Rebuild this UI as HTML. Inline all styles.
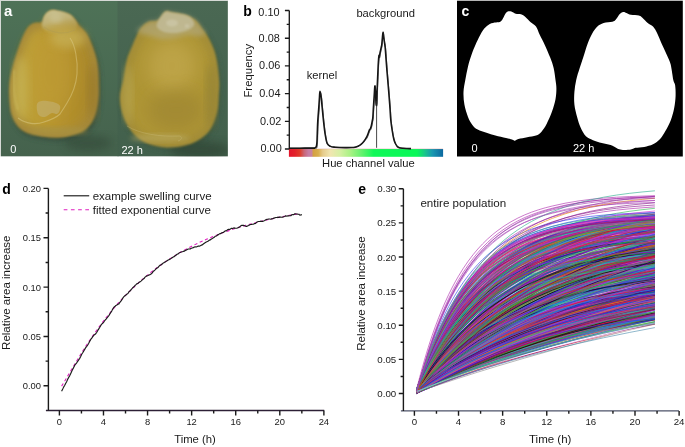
<!DOCTYPE html><html><head><meta charset="utf-8"><style>html,body{margin:0;padding:0;background:#fff;overflow:hidden;width:685px;height:447px}svg{display:block;will-change:transform}text{font-family:"Liberation Sans",sans-serif}</style></head><body>
<svg width="685" height="447" viewBox="0 0 685 447">
<defs>
<radialGradient id="kg1" cx="0.5" cy="0.55" r="0.6">
<stop offset="0" stop-color="#d8b545"/><stop offset="0.55" stop-color="#cfa83a"/><stop offset="0.85" stop-color="#b8922c"/><stop offset="1" stop-color="#8a7630"/></radialGradient>
<radialGradient id="kg2" cx="0.5" cy="0.55" r="0.6">
<stop offset="0" stop-color="#cfae45"/><stop offset="0.55" stop-color="#c7a23c"/><stop offset="0.85" stop-color="#b3902e"/><stop offset="1" stop-color="#857432"/></radialGradient>
<radialGradient id="tipg" cx="0.5" cy="0.4" r="0.6">
<stop offset="0" stop-color="#e4dcb0"/><stop offset="1" stop-color="#c8b880"/></radialGradient>
<filter id="blur1" x="-10%" y="-10%" width="120%" height="120%"><feGaussianBlur stdDeviation="1"/></filter>
<filter id="blur2" x="-20%" y="-20%" width="140%" height="140%"><feGaussianBlur stdDeviation="2.5"/></filter>
<filter id="blur15" x="-20%" y="-20%" width="140%" height="140%"><feGaussianBlur stdDeviation="1.6"/></filter>
<filter id="blur05" x="-10%" y="-10%" width="120%" height="120%"><feGaussianBlur stdDeviation="0.6"/></filter>
<filter id="blur3" x="-30%" y="-30%" width="160%" height="160%"><feGaussianBlur stdDeviation="4"/></filter>
<filter id="blur4" x="-40%" y="-40%" width="180%" height="180%"><feGaussianBlur stdDeviation="8"/></filter>
<linearGradient id="tipfade" x1="0" x2="0.3" y1="0" y2="1"><stop offset="0" stop-color="#cbc494"/><stop offset="0.5" stop-color="#c4b880" stop-opacity="0.85"/><stop offset="1" stop-color="#bca650" stop-opacity="0.2"/></linearGradient>
<linearGradient id="bgl" x1="0" x2="0" y1="0" y2="1"><stop offset="0" stop-color="#4e7257"/><stop offset="1" stop-color="#45624d"/></linearGradient>
<linearGradient id="bgr" x1="0" x2="0" y1="0" y2="1"><stop offset="0" stop-color="#4a6853"/><stop offset="1" stop-color="#42604c"/></linearGradient>
<linearGradient id="k1g" x1="0" x2="1" y1="0" y2="0"><stop offset="0" stop-color="#bfa63e"/><stop offset="0.5" stop-color="#b8952e"/><stop offset="1" stop-color="#a8862a"/></linearGradient>
<linearGradient id="hue" x1="0" x2="1" y1="0" y2="0">
<stop offset="0" stop-color="#e3142c"/>
<stop offset="0.04" stop-color="#e2222a"/>
<stop offset="0.072" stop-color="#de3c2a"/>
<stop offset="0.10" stop-color="#c8687a"/>
<stop offset="0.128" stop-color="#c67ea6"/>
<stop offset="0.148" stop-color="#c8849e"/>
<stop offset="0.158" stop-color="#d4a042"/>
<stop offset="0.19" stop-color="#d8ae4c"/>
<stop offset="0.22" stop-color="#e6cc8c"/>
<stop offset="0.27" stop-color="#f0e6b0"/>
<stop offset="0.33" stop-color="#d6f0a4"/>
<stop offset="0.40" stop-color="#a8f284"/>
<stop offset="0.48" stop-color="#5cf26c"/>
<stop offset="0.55" stop-color="#10f858"/>
<stop offset="0.83" stop-color="#08f858"/>
<stop offset="0.88" stop-color="#18c888"/>
<stop offset="0.93" stop-color="#1898b0"/>
<stop offset="1" stop-color="#0c68a0"/>
</linearGradient>
<clipPath id="clipa"><rect x="1" y="1" width="226.8" height="155.4"/></clipPath>
<clipPath id="clipe"><rect x="403" y="180" width="270" height="231"/></clipPath>
</defs>
<rect x="0" y="0" width="228" height="156.4" fill="#d6dad6"/>
<g clip-path="url(#clipa)">
<rect x="1" y="1" width="117.5" height="155.5" fill="url(#bgl)"/>
<rect x="117.5" y="1" width="111" height="155.5" fill="url(#bgr)"/>
<path d="M49,11.2C50.43,10.18 51.27,9.8 53.2,9.9C55.13,10 57.93,11.08 60.6,11.8C63.27,12.52 66.93,13.08 69.2,14.2C71.47,15.32 72.48,16.63 74.2,18.5C75.92,20.37 77.17,22.5 79.5,25.4C81.83,28.3 85.3,30.08 88.2,35.9C91.1,41.72 95.17,51.58 96.9,60.3C98.63,69.02 98.48,80.92 98.6,88.2C98.72,95.48 98.28,99.2 97.6,104C96.92,108.8 96.02,113.17 94.5,117C92.98,120.83 91.12,124.28 88.5,127C85.88,129.72 83.33,131.53 78.8,133.3C74.27,135.07 67.13,137.02 61.3,137.6C55.47,138.18 49.68,137.67 43.8,136.8C37.92,135.93 30.38,134.2 26,132.4C21.62,130.6 19.83,128.73 17.5,126C15.17,123.27 13.3,119.83 12,116C10.7,112.17 10.08,108.8 9.7,103C9.32,97.2 8.53,89.48 9.7,81.2C10.87,72.92 14.17,61.5 16.7,53.3C19.23,45.1 22.3,36.97 24.9,32C27.5,27.03 29.42,25.17 32.3,23.5C35.18,21.83 40.15,23.25 42.2,22C44.25,20.75 43.47,17.8 44.6,16C45.73,14.2 47.57,12.22 49,11.2Z" fill="#344c3c" filter="url(#blur2)" transform="translate(1.5,3)" opacity="0.85"/>
<path d="M165.3,11.7C167.53,10.43 168.63,11.95 172,12.5C175.37,13.05 181.58,13.73 185.5,15C189.42,16.27 192.72,17.85 195.5,20.1C198.28,22.35 199.95,25.42 202.2,28.5C204.45,31.58 206.75,34.13 209,38.6C211.25,43.07 214.03,48.4 215.7,55.3C217.37,62.2 218.52,73.38 219,80C219.48,86.62 218.95,89.57 218.6,95C218.25,100.43 218.35,106.77 216.9,112.6C215.45,118.43 213.1,125.35 209.9,130C206.7,134.65 202.07,137.88 197.7,140.5C193.33,143.12 188.93,144.55 183.7,145.7C178.47,146.85 172.1,147.68 166.3,147.4C160.5,147.12 154.13,146.03 148.9,144C143.67,141.97 138.97,139.28 134.9,135.2C130.83,131.12 127.02,125.6 124.5,119.5C121.98,113.4 119.98,105.18 119.8,98.6C119.62,92.02 122.25,86.37 123.4,80C124.55,73.63 125.3,65.9 126.7,60.4C128.1,54.9 130.12,51.2 131.8,47C133.48,42.8 135.13,38.57 136.8,35.2C138.47,31.83 139.83,29.03 141.8,26.8C143.77,24.57 145.8,22.92 148.6,21.8C151.4,20.68 155.82,21.78 158.6,20.1C161.38,18.42 163.07,12.97 165.3,11.7Z" fill="#3a5443" filter="url(#blur2)" transform="translate(1.5,2.5)" opacity="0.8"/>
<ellipse cx="200" cy="150" rx="30" ry="9" fill="#2c3c2e" filter="url(#blur3)" opacity="0.55"/>
<ellipse cx="88" cy="143" rx="24" ry="8" fill="#2c3c2e" filter="url(#blur3)" opacity="0.4"/>
<path d="M49,11.2C50.43,10.18 51.27,9.8 53.2,9.9C55.13,10 57.93,11.08 60.6,11.8C63.27,12.52 66.93,13.08 69.2,14.2C71.47,15.32 72.48,16.63 74.2,18.5C75.92,20.37 77.17,22.5 79.5,25.4C81.83,28.3 85.3,30.08 88.2,35.9C91.1,41.72 95.17,51.58 96.9,60.3C98.63,69.02 98.48,80.92 98.6,88.2C98.72,95.48 98.28,99.2 97.6,104C96.92,108.8 96.02,113.17 94.5,117C92.98,120.83 91.12,124.28 88.5,127C85.88,129.72 83.33,131.53 78.8,133.3C74.27,135.07 67.13,137.02 61.3,137.6C55.47,138.18 49.68,137.67 43.8,136.8C37.92,135.93 30.38,134.2 26,132.4C21.62,130.6 19.83,128.73 17.5,126C15.17,123.27 13.3,119.83 12,116C10.7,112.17 10.08,108.8 9.7,103C9.32,97.2 8.53,89.48 9.7,81.2C10.87,72.92 14.17,61.5 16.7,53.3C19.23,45.1 22.3,36.97 24.9,32C27.5,27.03 29.42,25.17 32.3,23.5C35.18,21.83 40.15,23.25 42.2,22C44.25,20.75 43.47,17.8 44.6,16C45.73,14.2 47.57,12.22 49,11.2Z" fill="#a4883a" filter="url(#blur1)"/>
<path d="M49.69,19.19C50.95,18.3 51.69,17.96 53.39,18.05C55.09,18.14 57.55,19.09 59.9,19.72C62.25,20.35 65.47,20.85 67.47,21.83C69.46,22.81 70.36,23.97 71.87,25.62C73.38,27.26 74.48,29.14 76.53,31.69C78.59,34.24 81.64,35.81 84.19,40.93C86.74,46.05 90.32,54.73 91.85,62.4C93.37,70.07 93.24,80.54 93.34,86.95C93.44,93.36 93.06,96.63 92.46,100.86C91.86,105.08 91.07,108.92 89.73,112.3C88.4,115.67 86.76,118.7 84.45,121.1C82.15,123.49 79.91,125.08 75.92,126.64C71.93,128.19 65.65,129.91 60.52,130.42C55.38,130.94 50.29,130.48 45.12,129.72C39.94,128.96 33.31,127.43 29.45,125.85C25.6,124.26 24.03,122.62 21.97,120.22C19.92,117.81 18.28,114.79 17.13,111.42C15.99,108.04 15.45,105.08 15.11,99.98C14.77,94.87 14.08,88.08 15.11,80.79C16.14,73.5 19.04,63.46 21.27,56.24C23.5,49.02 26.2,41.87 28.49,37.5C30.77,33.12 32.46,31.48 35,30.02C37.53,28.55 41.91,29.8 43.71,28.7C45.51,27.6 44.82,25 45.82,23.42C46.82,21.83 48.43,20.09 49.69,19.19Z" fill="url(#k1g)" filter="url(#blur3)"/>
<ellipse cx="50" cy="72" rx="24" ry="40" fill="#bf9c36" filter="url(#blur4)" opacity="0.6"/>
<ellipse cx="68" cy="38" rx="18" ry="10" fill="#c8b258" filter="url(#blur3)" opacity="0.7"/>
<ellipse cx="21" cy="88" rx="7" ry="32" fill="#c6b254" filter="url(#blur3)" opacity="0.7"/>
<ellipse cx="93" cy="92" rx="5" ry="28" fill="#94762a" filter="url(#blur3)" opacity="0.6"/>
<ellipse cx="58" cy="131" rx="30" ry="4" fill="#a89444" filter="url(#blur2)" opacity="0.6"/>
<path d="M70,38 C75,45 78,60 77,74 C76,86 72,95 67,103 C64,108 62,111 60,114 C56,118 50,120 44,122 C36,125 26,124 18,118" fill="none" stroke="#dccc88" stroke-width="1.1" opacity="0.5" filter="url(#blur05)"/>
<path d="M37,104C37.67,101.83 39.83,101.42 42,101C44.17,100.58 47.67,101.17 50,101.5C52.33,101.83 54.33,102.25 56,103C57.67,103.75 59.42,104.67 60,106C60.58,107.33 60,109.67 59.5,111C59,112.33 58.25,113.67 57,114C55.75,114.33 53.67,112.67 52,113C50.33,113.33 48.5,115.33 47,116C45.5,116.67 44.5,117.33 43,117C41.5,116.67 39,116.17 38,114C37,111.83 36.33,106.17 37,104Z" fill="#c4b47a" opacity="0.55" filter="url(#blur05)"/>
<path d="M14,70 C13,85 14,100 18,110" fill="none" stroke="#d6c468" stroke-width="2" opacity="0.45" filter="url(#blur1)"/>
<path d="M48.5,11.5C49.75,10.82 51.08,9.98 53,9.9C54.92,9.82 57.83,10.52 60,11C62.17,11.48 64.25,12.17 66,12.8C67.75,13.43 69.13,13.85 70.5,14.8C71.87,15.75 73.12,17.13 74.2,18.5C75.28,19.87 76.7,21.25 77,23C77.3,24.75 77.17,27.25 76,29C74.83,30.75 72.33,32.42 70,33.5C67.67,34.58 65,35.42 62,35.5C59,35.58 54.83,34.92 52,34C49.17,33.08 46.67,31.33 45,30C43.33,28.67 42.33,27.83 42,26C41.67,24.17 42.42,21 43,19C43.58,17 44.58,15.25 45.5,14C46.42,12.75 47.25,12.18 48.5,11.5Z" fill="url(#tipfade)" filter="url(#blur1)"/>
<path d="M44,27 C52,33 64,35 75,30" fill="none" stroke="#a89858" stroke-width="1.2" opacity="0.3" filter="url(#blur05)"/>
<ellipse cx="56" cy="18" rx="6" ry="5" fill="#d0caa0" filter="url(#blur2)" opacity="0.45"/>
<path d="M165.3,11.7C167.53,10.43 168.63,11.95 172,12.5C175.37,13.05 181.58,13.73 185.5,15C189.42,16.27 192.72,17.85 195.5,20.1C198.28,22.35 199.95,25.42 202.2,28.5C204.45,31.58 206.75,34.13 209,38.6C211.25,43.07 214.03,48.4 215.7,55.3C217.37,62.2 218.52,73.38 219,80C219.48,86.62 218.95,89.57 218.6,95C218.25,100.43 218.35,106.77 216.9,112.6C215.45,118.43 213.1,125.35 209.9,130C206.7,134.65 202.07,137.88 197.7,140.5C193.33,143.12 188.93,144.55 183.7,145.7C178.47,146.85 172.1,147.68 166.3,147.4C160.5,147.12 154.13,146.03 148.9,144C143.67,141.97 138.97,139.28 134.9,135.2C130.83,131.12 127.02,125.6 124.5,119.5C121.98,113.4 119.98,105.18 119.8,98.6C119.62,92.02 122.25,86.37 123.4,80C124.55,73.63 125.3,65.9 126.7,60.4C128.1,54.9 130.12,51.2 131.8,47C133.48,42.8 135.13,38.57 136.8,35.2C138.47,31.83 139.83,29.03 141.8,26.8C143.77,24.57 145.8,22.92 148.6,21.8C151.4,20.68 155.82,21.78 158.6,20.1C161.38,18.42 163.07,12.97 165.3,11.7Z" fill="#a28c38" filter="url(#blur1)"/>
<path d="M165.88,21.04C167.84,19.92 168.81,21.26 171.77,21.74C174.74,22.23 180.21,22.83 183.65,23.94C187.1,25.06 190.01,26.45 192.45,28.43C194.9,30.41 196.37,33.11 198.35,35.82C200.33,38.54 202.35,40.78 204.33,44.71C206.31,48.64 208.76,53.34 210.23,59.41C211.7,65.48 212.71,75.32 213.13,81.14C213.56,86.97 213.09,89.56 212.78,94.34C212.47,99.12 212.56,104.7 211.29,109.83C210.01,114.96 207.94,121.05 205.13,125.14C202.31,129.24 198.23,132.08 194.39,134.38C190.55,136.69 186.68,137.95 182.07,138.96C177.47,139.97 171.86,140.7 166.76,140.46C161.65,140.21 156.05,139.25 151.45,137.46C146.84,135.67 142.71,133.31 139.13,129.72C135.55,126.13 132.19,121.27 129.97,115.9C127.76,110.54 126,103.3 125.84,97.51C125.68,91.72 127.99,86.75 129.01,81.14C130.02,75.54 130.68,68.74 131.91,63.9C133.14,59.06 134.92,55.8 136.4,52.1C137.88,48.41 139.33,44.68 140.8,41.72C142.27,38.76 143.47,36.29 145.2,34.33C146.93,32.36 148.72,30.91 151.18,29.93C153.65,28.94 157.53,29.91 159.98,28.43C162.43,26.95 163.91,22.15 165.88,21.04Z" fill="#ae9536" filter="url(#blur3)"/>
<ellipse cx="172" cy="66" rx="24" ry="26" fill="#c4aa50" filter="url(#blur4)" opacity="0.65"/>
<ellipse cx="176" cy="110" rx="28" ry="20" fill="#9c8430" filter="url(#blur4)" opacity="0.6"/>
<ellipse cx="211" cy="95" rx="5" ry="32" fill="#8c7e36" filter="url(#blur3)" opacity="0.6"/>
<ellipse cx="128" cy="95" rx="4" ry="30" fill="#bcae5c" filter="url(#blur3)" opacity="0.6"/>
<ellipse cx="160" cy="138" rx="30" ry="4" fill="#b8aa64" filter="url(#blur2)" opacity="0.55"/>
<path d="M127,126 C140,134 160,137 180,136 C183,138 181,140 178,141" fill="none" stroke="#d0c488" stroke-width="1" opacity="0.3" filter="url(#blur05)"/>
<path d="M148.6,21.8C151.4,20.68 155.82,21.78 158.6,20.1C161.38,18.42 163.07,12.97 165.3,11.7C167.53,10.43 168.63,11.95 172,12.5C175.37,13.05 181.58,13.73 185.5,15C189.42,16.27 192.72,17.85 195.5,20.1C198.28,22.35 200.45,26.18 202.2,28.5C203.95,30.82 206.7,32.75 206,34C205.3,35.25 201,35.83 198,36C195,36.17 191.83,34.67 188,35C184.17,35.33 179.33,37.33 175,38C170.67,38.67 166.17,39.33 162,39C157.83,38.67 153.67,37 150,36C146.33,35 142.17,34 140,33C137.83,32 136.7,31.03 137,30C137.3,28.97 139.87,28.17 141.8,26.8C143.73,25.43 145.8,22.92 148.6,21.8Z" fill="#b4ac84" filter="url(#blur2)" opacity="0.6"/>
<path d="M165.3,11.7C167.53,10.43 168.63,11.95 172,12.5C175.37,13.05 182.17,13.92 185.5,15C188.83,16.08 190.58,17.33 192,19C193.42,20.67 194.67,23.17 194,25C193.33,26.83 191,28.67 188,30C185,31.33 180,32.67 176,33C172,33.33 167.17,33 164,32C160.83,31 157.9,28.98 157,27C156.1,25.02 157.22,22.65 158.6,20.1C159.98,17.55 163.07,12.97 165.3,11.7Z" fill="#c2bc98" filter="url(#blur1)" opacity="0.85"/>
<ellipse cx="172" cy="23" rx="6" ry="3.5" fill="#d0ccae" filter="url(#blur1)" opacity="0.6"/>
<ellipse cx="187" cy="26" rx="2.5" ry="2" fill="#d8d4bc" filter="url(#blur1)" opacity="0.4"/>
</g>
<text x="4" y="15.8" font-size="15" font-weight="bold" fill="#fff">a</text>
<text x="10.3" y="153.3" font-size="11" fill="#fff">0</text>
<text x="121.5" y="153.6" font-size="11" fill="#fff">22 h</text>
<rect x="457" y="0" width="225.8" height="1" fill="#b4b4b4"/>
<rect x="457" y="1" width="225.8" height="155.5" fill="#000"/>
<path d="M465.3,80C466.05,75.72 466.82,71.02 468,66.4C469.18,61.78 470.78,56.72 472.4,52.3C474.02,47.88 475.93,43.58 477.7,39.9C479.47,36.22 481.23,32.7 483,30.2C484.77,27.7 486.38,26.17 488.3,24.9C490.22,23.63 492.58,23.1 494.5,22.6C496.42,22.1 498.48,22.4 499.8,21.9C501.12,21.4 501.52,20.87 502.4,19.6C503.28,18.33 504.22,15.63 505.1,14.3C505.98,12.97 506.67,12.05 507.7,11.6C508.73,11.15 509.97,11.25 511.3,11.6C512.63,11.95 514.08,13.25 515.7,13.7C517.32,14.15 519.38,13.77 521,14.3C522.62,14.83 523.78,15.58 525.4,16.9C527.02,18.22 528.93,20.58 530.7,22.2C532.47,23.82 534.52,24.53 536,26.6C537.48,28.67 538.12,31.5 539.6,34.6C541.08,37.7 543.13,41.37 544.9,45.2C546.67,49.03 548.73,53.77 550.2,57.6C551.67,61.43 552.82,64.47 553.7,68.2C554.58,71.93 555.05,76.6 555.5,80C555.95,83.4 556.4,85.4 556.4,88.6C556.4,91.8 556.23,95.37 555.5,99.2C554.77,103.03 553.48,107.47 552,111.6C550.52,115.73 548.38,120.62 546.6,124C544.82,127.38 543.07,129.98 541.3,131.9C539.53,133.82 538.35,134.62 536,135.5C533.65,136.38 530.13,136.62 527.2,137.2C524.27,137.78 520.47,138.4 518.4,139C516.33,139.6 515.7,140.65 514.8,140.8C513.9,140.95 514.47,140.35 513,139.9C511.53,139.45 508.93,138.83 506,138.1C503.07,137.37 498.65,136.38 495.4,135.5C492.15,134.62 489.45,133.78 486.5,132.8C483.55,131.82 480.05,130.92 477.7,129.6C475.35,128.28 474.02,127.02 472.4,124.9C470.78,122.78 469.33,120.3 468,116.9C466.67,113.5 465.15,108.63 464.4,104.5C463.65,100.37 463.35,96.18 463.5,92.1C463.65,88.02 464.55,84.28 465.3,80Z" fill="#fff"/>
<path d="M576.2,80C577.08,76 578.53,71.85 579.7,68.1C580.87,64.35 581.87,61.62 583.2,57.5C584.53,53.38 586.22,47.37 587.7,43.4C589.18,39.43 590.48,36.5 592.1,33.7C593.72,30.9 595.48,28.37 597.4,26.6C599.32,24.83 601.1,23.9 603.6,23.1C606.1,22.3 610.35,22.4 612.4,21.8C614.45,21.2 614.72,20.77 615.9,19.5C617.08,18.23 618.32,15.45 619.5,14.2C620.68,12.95 621.83,12.2 623,12C624.17,11.8 625.18,12.53 626.5,13C627.82,13.47 628.83,14.38 630.9,14.8C632.97,15.22 636.98,15 638.9,15.5C640.82,16 640.93,16.53 642.4,17.8C643.87,19.07 645.93,21.63 647.7,23.1C649.47,24.57 651.38,24.83 653,26.6C654.62,28.37 655.92,30.75 657.4,33.7C658.88,36.65 660.27,40.62 661.9,44.3C663.53,47.98 665.73,52.42 667.2,55.8C668.67,59.18 669.68,60.57 670.7,64.6C671.72,68.63 672.57,76.58 673.3,80C674.03,83.42 674.72,82.48 675.1,85.1C675.48,87.72 675.75,91.88 675.6,95.7C675.45,99.52 675.02,103.88 674.2,108C673.38,112.12 672.17,116.57 670.7,120.4C669.23,124.23 667.17,127.92 665.4,131C663.63,134.08 662.17,136.7 660.1,138.9C658.03,141.1 655.65,142.87 653,144.2C650.35,145.53 647.13,146.3 644.2,146.9C641.27,147.5 637.62,147.37 635.4,147.8C633.18,148.23 632.97,149.15 630.9,149.5C628.83,149.85 625.2,150.03 623,149.9C620.8,149.77 619.77,149.5 617.7,148.7C615.63,147.9 613.25,146.05 610.6,145.1C607.95,144.15 604.73,143.82 601.8,143C598.87,142.18 595.65,141.32 593,140.2C590.35,139.08 587.97,138.42 585.9,136.3C583.83,134.18 582.07,130.73 580.6,127.5C579.13,124.27 578.13,120.73 577.1,116.9C576.07,113.07 574.85,108.63 574.4,104.5C573.95,100.37 574.1,96.18 574.4,92.1C574.7,88.02 575.32,84 576.2,80Z" fill="#fff"/>
<text x="461.5" y="16" font-size="14" font-weight="bold" fill="#fff">c</text>
<text x="471.4" y="152.3" font-size="11" fill="#fff">0</text>
<text x="573" y="152.4" font-size="11" fill="#fff">22 h</text>
<text x="243.3" y="15.8" font-size="14" font-weight="bold" fill="#000">b</text>
<rect x="288.9" y="149" width="154.2" height="7.8" fill="url(#hue)"/>
<line x1="288.9" y1="148.8" x2="443" y2="148.8" stroke="#d08080" stroke-width="0.5" opacity="0.6"/>
<path d="M289.3,10.5 V149 M284.9,149 H289.3 M286.7,135.15 H289.3 M284.9,121.3 H289.3 M286.7,107.45 H289.3 M284.9,93.6 H289.3 M286.7,79.75 H289.3 M284.9,65.9 H289.3 M286.7,52.05 H289.3 M284.9,38.2 H289.3 M286.7,24.35 H289.3 M284.9,10.5 H289.3" stroke="#1a1a1a" stroke-width="1.35" fill="none"/>
<text x="281.7" y="152.3" font-size="10.9" text-anchor="end" textLength="21.3" lengthAdjust="spacing" fill="#1a1a1a">0.00</text>
<text x="281.3" y="124.7" font-size="10.9" text-anchor="end" textLength="21.3" lengthAdjust="spacing" fill="#1a1a1a">0.02</text>
<text x="280.5" y="97" font-size="10.9" text-anchor="end" textLength="21.3" lengthAdjust="spacing" fill="#1a1a1a">0.04</text>
<text x="280.4" y="69.4" font-size="10.9" text-anchor="end" textLength="21.3" lengthAdjust="spacing" fill="#1a1a1a">0.06</text>
<text x="279.9" y="41.6" font-size="10.9" text-anchor="end" textLength="21.3" lengthAdjust="spacing" fill="#1a1a1a">0.08</text>
<text x="279.6" y="15.7" font-size="10.9" text-anchor="end" textLength="21.3" lengthAdjust="spacing" fill="#1a1a1a">0.10</text>
<text transform="translate(251.8,70.7) rotate(-90)" font-size="11.4" text-anchor="middle" fill="#1a1a1a">Frequency</text>
<text x="306.7" y="79.2" font-size="11.2" fill="#1a1a1a">kernel</text>
<text x="356.4" y="17.1" font-size="11.2" fill="#1a1a1a">background</text>
<text x="368.4" y="166.7" font-size="11.2" text-anchor="middle" fill="#1a1a1a">Hue channel value</text>
<path d="M289.5,148.2C291.25,148.2 296.25,148.22 300,148.2C303.75,148.18 309.5,148.15 312,148.1C314.5,148.05 314.28,148.17 315,147.9C315.72,147.63 315.97,147.57 316.3,146.5C316.63,145.43 316.77,145.5 317,141.5C317.23,137.5 317.4,128.17 317.7,122.5C318,116.83 318.5,111.75 318.8,107.5C319.1,103.25 319.3,99.7 319.5,97C319.7,94.3 319.72,91.3 320,91.3C320.28,91.3 320.83,94.3 321.2,97C321.57,99.7 321.78,103.25 322.2,107.5C322.62,111.75 323.2,118.02 323.7,122.5C324.2,126.98 324.62,130.92 325.2,134.4C325.78,137.88 326.32,141.4 327.2,143.4C328.08,145.4 329.2,145.77 330.5,146.4C331.8,147.03 332.58,147 335,147.2C337.42,147.4 342.17,147.55 345,147.6C347.83,147.65 350.33,147.57 352,147.5C353.67,147.43 354,147.4 355,147.2C356,147 357,146.77 358,146.3C359,145.83 360,145.25 361,144.4C362,143.55 363.07,142.4 364,141.2C364.93,140 365.85,138.65 366.6,137.2C367.35,135.75 368,133.77 368.5,132.5C369,131.23 369.27,130.27 369.6,129.6C369.93,128.93 370.22,129.1 370.5,128.5C370.78,127.9 371.02,127.17 371.3,126C371.58,124.83 371.93,123 372.2,121.5C372.47,120 372.7,119.25 372.9,117C373.1,114.75 373.18,111.5 373.4,108C373.62,104.5 373.95,99.67 374.2,96C374.45,92.33 374.68,86.67 374.9,86C375.12,85.33 375.3,89 375.5,92C375.7,95 375.9,102.17 376.1,104C376.3,105.83 376.52,105.67 376.7,103C376.88,100.33 377,93.17 377.2,88C377.4,82.83 377.7,76.33 377.9,72C378.1,67.67 378.22,64.75 378.4,62C378.58,59.25 378.85,56.33 379,55.5C379.15,54.67 379.1,57.58 379.3,57C379.5,56.42 379.88,53.58 380.2,52C380.52,50.42 380.93,48.75 381.2,47.5C381.47,46.25 381.6,46.08 381.8,44.5C382,42.92 382.2,40.03 382.4,38C382.6,35.97 382.78,32.47 383,32.3C383.22,32.13 383.47,35.38 383.7,37C383.93,38.62 384.15,40.27 384.4,42C384.65,43.73 384.93,44.73 385.2,47.4C385.47,50.07 385.72,54.23 386,58C386.28,61.77 386.47,64.67 386.9,70C387.33,75.33 388.08,83.67 388.6,90C389.12,96.33 389.63,103 390,108C390.37,113 390.42,116.17 390.8,120C391.18,123.83 391.8,127.83 392.3,131C392.8,134.17 393.28,136.92 393.8,139C394.32,141.08 394.8,142.23 395.4,143.5C396,144.77 396.73,145.88 397.4,146.6C398.07,147.32 398.47,147.52 399.4,147.8C400.33,148.08 401.73,148.18 403,148.3C404.27,148.42 405.67,148.45 407,148.5C408.33,148.55 410.33,148.58 411,148.6" stroke="#111" stroke-width="1.6" fill="none" stroke-linejoin="round"/>
<path d="M376.6,101 V147.8" stroke="#333" stroke-width="0.9"/>
<path d="M289.5,148.2C291.25,148.2 296.25,148.22 300,148.2C303.75,148.18 309.5,148.15 312,148.1C314.5,148.05 314.2,147.92 315,147.9C315.8,147.88 316.38,148.82 316.8,148C317.22,147.18 317.27,147 317.5,143C317.73,139 317.9,129.67 318.2,124C318.5,118.33 319,113.25 319.3,109C319.6,104.75 319.8,101.2 320,98.5C320.2,95.8 320.22,92.8 320.5,92.8C320.78,92.8 321.33,95.8 321.7,98.5C322.07,101.2 322.28,104.75 322.7,109C323.12,113.25 323.7,119.52 324.2,124C324.7,128.48 325.2,132.67 325.7,135.9C326.2,139.13 326.4,141.65 327.2,143.4C328,145.15 329.2,145.77 330.5,146.4C331.8,147.03 332.58,147 335,147.2C337.42,147.4 342.17,147.55 345,147.6C347.83,147.65 350.33,147.57 352,147.5C353.67,147.43 354,147.4 355,147.2C356,147 357,146.77 358,146.3C359,145.83 360,145.25 361,144.4C362,143.55 363,142.23 364,141.2C365,140.17 366.18,139.48 367,138.2C367.82,136.92 368.4,134.77 368.9,133.5C369.4,132.23 369.67,131.27 370,130.6C370.33,129.93 370.62,130.1 370.9,129.5C371.18,128.9 371.42,128.17 371.7,127C371.98,125.83 372.33,124 372.6,122.5C372.87,121 373.1,120.25 373.3,118C373.5,115.75 373.58,112.5 373.8,109C374.02,105.5 374.35,100.67 374.6,97C374.85,93.33 375.08,87.67 375.3,87C375.52,86.33 375.7,90 375.9,93C376.1,96 376.3,103.17 376.5,105C376.7,106.83 376.92,106.67 377.1,104C377.28,101.33 377.4,94.17 377.6,89C377.8,83.83 378.1,77.33 378.3,73C378.5,68.67 378.62,65.75 378.8,63C378.98,60.25 379.25,57.33 379.4,56.5C379.55,55.67 379.5,58.58 379.7,58C379.9,57.42 380.28,54.58 380.6,53C380.92,51.42 381.33,49.75 381.6,48.5C381.87,47.25 382,47.08 382.2,45.5C382.4,43.92 382.6,41.03 382.8,39C383,36.97 383.18,33.47 383.4,33.3C383.62,33.13 383.87,36.38 384.1,38C384.33,39.62 384.55,41.27 384.8,43C385.05,44.73 385.33,45.73 385.6,48.4C385.87,51.07 386.12,55.23 386.4,59C386.68,62.77 386.87,65.67 387.3,71C387.73,76.33 388.48,84.67 389,91C389.52,97.33 390.03,104 390.4,109C390.77,114 390.82,117.17 391.2,121C391.58,124.83 392.2,128.83 392.7,132C393.2,135.17 393.75,138.08 394.2,140C394.65,141.92 394.87,142.4 395.4,143.5C395.93,144.6 396.73,145.88 397.4,146.6C398.07,147.32 398.47,147.52 399.4,147.8C400.33,148.08 401.73,148.18 403,148.3C404.27,148.42 405.67,148.45 407,148.5C408.33,148.55 410.33,148.58 411,148.6" stroke="#222" stroke-width="1" fill="none" opacity="0.6"/>
<text x="2.3" y="193.6" font-size="14" font-weight="bold" fill="#000">d</text>
<path d="M45.9,410.5 H324.2" stroke="#2d2036" stroke-width="1.35"/>
<path d="M48.4,188.4 V410.6 M43.5,385.8 H48.4 M45.6,361.12 H48.4 M43.5,336.45 H48.4 M45.6,311.77 H48.4 M43.5,287.1 H48.4 M45.6,262.43 H48.4 M43.5,237.75 H48.4 M45.6,213.07 H48.4 M43.5,188.4 H48.4 M59.4,410.6 V415.4 M81.44,410.6 V413.4 M103.48,410.6 V415.4 M125.52,410.6 V413.4 M147.56,410.6 V415.4 M169.6,410.6 V413.4 M191.64,410.6 V415.4 M213.68,410.6 V413.4 M235.72,410.6 V415.4 M257.76,410.6 V413.4 M279.8,410.6 V415.4 M301.84,410.6 V413.4 M323.88,410.6 V415.4" stroke="#1a1a1a" stroke-width="1.4" fill="none"/>
<text x="41.0" y="389.2" font-size="9.4" text-anchor="end" fill="#1a1a1a">0.00</text>
<text x="41.0" y="339.85" font-size="9.4" text-anchor="end" fill="#1a1a1a">0.05</text>
<text x="41.0" y="290.5" font-size="9.4" text-anchor="end" fill="#1a1a1a">0.10</text>
<text x="41.0" y="241.15" font-size="9.4" text-anchor="end" fill="#1a1a1a">0.15</text>
<text x="41.0" y="191.8" font-size="9.4" text-anchor="end" fill="#1a1a1a">0.20</text>
<text x="59.4" y="425.0" font-size="9.4" text-anchor="middle" fill="#1a1a1a">0</text>
<text x="103.48" y="425.0" font-size="9.4" text-anchor="middle" fill="#1a1a1a">4</text>
<text x="147.56" y="425.0" font-size="9.4" text-anchor="middle" fill="#1a1a1a">8</text>
<text x="191.64" y="425.0" font-size="9.4" text-anchor="middle" fill="#1a1a1a">12</text>
<text x="235.72" y="425.0" font-size="9.4" text-anchor="middle" fill="#1a1a1a">16</text>
<text x="279.8" y="425.0" font-size="9.4" text-anchor="middle" fill="#1a1a1a">20</text>
<text x="323.88" y="425.0" font-size="9.4" text-anchor="middle" fill="#1a1a1a">24</text>
<text x="195" y="443" font-size="11.3" text-anchor="middle" fill="#1a1a1a">Time (h)</text>
<text transform="translate(10,292.7) rotate(-90)" font-size="11.5" text-anchor="middle" fill="#1a1a1a">Relative area increase</text>
<line x1="63.7" y1="195.8" x2="89.2" y2="195.8" stroke="#111" stroke-width="1.1"/>
<line x1="63.7" y1="209.8" x2="89.2" y2="209.8" stroke="#e020c0" stroke-width="1.1" stroke-dasharray="3.7,3.5"/>
<text x="92.7" y="199.9" font-size="11.5" fill="#1a1a1a">example swelling curve</text>
<text x="92.7" y="213.5" font-size="11.5" fill="#1a1a1a">fitted exponential curve</text>
<path d="M61.6,386.15 L64.62,381.19 L67.64,376.13 L70.65,371.03 L73.67,365.95 L76.68,360.93 L79.7,355.99 L82.71,351.15 L85.73,346.42 L88.74,341.81 L91.76,337.33 L94.77,332.97 L97.79,328.73 L100.81,324.62 L103.82,320.64 L106.84,316.77 L109.85,313.03 L112.87,309.4 L115.88,305.89 L118.9,302.48 L121.91,299.19 L124.93,295.99 L127.95,292.9 L130.96,289.91 L133.98,287.01 L136.99,284.2 L140.01,281.48 L143.02,278.85 L146.04,276.3 L149.05,273.83 L152.07,271.44 L155.08,269.13 L158.1,266.89 L161.12,264.72 L164.13,262.62 L167.15,260.59 L170.16,258.62 L173.18,256.71 L176.19,254.87 L179.21,253.08 L182.22,251.35 L185.24,249.67 L188.26,248.05 L191.27,246.48 L194.29,244.96 L197.3,243.49 L200.32,242.07 L203.33,240.69 L206.35,239.35 L209.36,238.06 L212.38,236.8 L215.4,235.59 L218.41,234.42 L221.43,233.28 L224.44,232.18 L227.46,231.12 L230.47,230.08 L233.49,229.09 L236.5,228.12 L239.52,227.18 L242.53,226.28 L245.55,225.4 L248.57,224.55 L251.58,223.72 L254.6,222.93 L257.61,222.16 L260.63,221.41 L263.64,220.69 L266.66,219.99 L269.67,219.31 L272.69,218.65 L275.71,218.02 L278.72,217.4 L281.74,216.81 L284.75,216.23 L287.77,215.67 L290.78,215.13 L293.8,214.61 L296.81,214.1 L299.83,213.61" stroke="#e020c0" stroke-width="1.1" fill="none" stroke-dasharray="3.2,2.6"/>
<path d="M61.6,391.35 L62.61,389.36 L63.61,387.12 L64.62,385.44 L65.62,383.5 L66.63,381.73 L67.64,379.38 L68.64,377.52 L69.65,375.87 L70.65,373.79 L71.66,371.6 L72.66,369.36 L73.67,367.44 L74.67,365.45 L75.68,364.03 L76.68,362.86 L77.69,361.3 L78.69,359.87 L79.7,358.36 L80.7,356.59 L81.71,354.21 L82.71,352.74 L83.72,351.08 L84.72,349.35 L85.73,347.54 L86.73,346.33 L87.74,344.99 L88.74,343.23 L89.75,341.33 L90.75,339.47 L91.76,338.2 L92.76,336.65 L93.77,335.29 L94.77,334.55 L95.78,333.77 L96.79,332.26 L97.79,330.41 L98.8,328.83 L99.8,327.23 L100.81,325.47 L101.81,323.94 L102.82,323.26 L103.82,322.03 L104.83,320.45 L105.83,319.5 L106.84,318.12 L107.84,316.95 L108.85,315.61 L109.85,313.98 L110.86,312.34 L111.86,310.86 L112.87,308.86 L113.87,307.25 L114.88,306.57 L115.88,305.41 L116.89,304.96 L117.89,304.23 L118.9,303.91 L119.9,302.28 L120.91,301.06 L121.91,299.58 L122.92,297.93 L123.92,296.58 L124.93,295.73 L125.93,294.97 L126.94,294.14 L127.95,293.44 L128.95,291.81 L129.96,291.09 L130.96,289.92 L131.97,288.73 L132.97,287.45 L133.98,286.84 L134.98,285.49 L135.99,284.61 L136.99,283.59 L138,283.42 L139,282.3 L140.01,281.89 L141.01,281.1 L142.02,280.14 L143.02,279.14 L144.03,278.57 L145.03,277.12 L146.04,276.34 L147.04,275.87 L148.05,275.54 L149.05,274.99 L150.06,274.6 L151.06,273.92 L152.07,273.15 L153.07,271.59 L154.08,270.72 L155.08,269.85 L156.09,268.81 L157.1,268.04 L158.1,267.46 L159.11,266.08 L160.11,265.12 L161.12,264.88 L162.12,263.99 L163.13,263.08 L164.13,262.61 L165.14,262.09 L166.14,261.24 L167.15,260.72 L168.15,260.04 L169.16,259.6 L170.16,259.11 L171.17,258.38 L172.17,257.67 L173.18,257.03 L174.18,256.64 L175.19,255.79 L176.19,254.94 L177.2,254.12 L178.2,253.89 L179.21,252.82 L180.21,252.52 L181.22,252.04 L182.22,251.77 L183.23,251.43 L184.23,251.16 L185.24,250.44 L186.25,250.13 L187.25,249.53 L188.26,248.98 L189.26,248.99 L190.27,248.92 L191.27,248.27 L192.28,247.95 L193.28,247.68 L194.29,247.07 L195.29,246.8 L196.3,246.96 L197.3,246.52 L198.31,246.07 L199.31,246.13 L200.32,245.77 L201.32,245.17 L202.33,244.89 L203.33,244.01 L204.34,243.33 L205.34,242.47 L206.35,241.91 L207.35,241.47 L208.36,241.01 L209.36,240.12 L210.37,239.83 L211.37,238.96 L212.38,238.45 L213.38,237.86 L214.39,237.22 L215.4,236.2 L216.4,235.98 L217.41,235.11 L218.41,234.62 L219.42,233.88 L220.42,233.68 L221.43,233.01 L222.43,232.57 L223.44,232.36 L224.44,231.47 L225.45,230.81 L226.45,230.7 L227.46,229.85 L228.46,229.36 L229.47,229.49 L230.47,228.89 L231.48,228.34 L232.48,228.47 L233.49,228.06 L234.49,227.93 L235.5,228.29 L236.5,228.23 L237.51,227.97 L238.51,227.41 L239.52,227.05 L240.52,226.07 L241.53,225.42 L242.53,225.31 L243.54,225.38 L244.55,225.79 L245.55,226.2 L246.56,226.37 L247.56,225.94 L248.57,225.5 L249.57,224.9 L250.58,224.55 L251.58,224.42 L252.59,224.25 L253.59,224.09 L254.6,223.59 L255.6,223.38 L256.61,222.29 L257.61,221.72 L258.62,221.55 L259.62,221.53 L260.63,221.18 L261.63,221.37 L262.64,221.41 L263.64,221.04 L264.65,220.5 L265.65,219.86 L266.66,219.4 L267.66,219.19 L268.67,218.99 L269.67,219.04 L270.68,219.28 L271.68,218.88 L272.69,218.74 L273.7,218.15 L274.7,217.93 L275.71,217.52 L276.71,217.51 L277.72,217.19 L278.72,217.36 L279.73,217.14 L280.73,217.11 L281.74,217.21 L282.74,217.18 L283.75,216.69 L284.75,216.48 L285.76,215.78 L286.76,216.19 L287.77,215.84 L288.77,215.92 L289.78,215.77 L290.78,215.74 L291.79,214.77 L292.79,214.68 L293.8,214.57 L294.8,213.73 L295.81,213.91 L296.81,214.04 L297.82,214.17 L298.82,214.27 L299.83,215.14 L300.83,214.92 L301.84,214.6" stroke="#1a1a1a" stroke-width="1.15" fill="none" stroke-linejoin="round"/>
<text x="358.3" y="194" font-size="14" font-weight="bold" fill="#000">e</text>
<text x="420.4" y="207" font-size="11.6" fill="#1a1a1a">entire population</text>
<g fill="none" stroke-width="0.6" clip-path="url(#clipe)">
<path d="M416.8 390.8c5.1-7.7 10.2-14.9 15.2-21.6c8.9-11.5 17.7-21.6 26.5-30.4c12.9-12.9 25.8-23.3 38.6-32.1c18.4-12.4 36.8-21.5 55.2-28.6c34.2-13.2 68.4-20 102.6-24.7" stroke="#888"/>
<path d="M416.8 393.4c5.1-6.3 10.2-12.2 15.2-17.7c8.9-9.7 17.7-18.3 26.5-26.2c12.9-11.4 25.8-21.2 38.6-29.6c18.4-12.1 36.8-21.6 55.2-29.5c34.2-14.6 68.4-23.6 102.6-30.1" stroke="#e12"/>
<path d="M416.8 393c5.1-12 10.2-22.6 15.2-32.2c8.9-16.7 17.7-30.2 26.5-41.5c12.9-16.5 25.8-28.4 38.6-37.8c18.4-13.4 36.8-21.5 55.2-27.5c34.2-11 68.4-14.7 102.6-17.1" stroke="#a13"/>
<path d="M416.8 388.3c5.1-5.2 10.2-10.2 15.2-14.9c8.9-8.3 17.7-15.9 26.5-23c12.9-10.4 25.8-19.6 38.6-27.8c18.4-11.8 36.8-21.8 55.2-30.3c34.2-15.9 68.4-27.2 102.6-36" stroke="#fff"/>
<path d="M416.8 393.1c5.1-13.1 10.2-24.7 15.2-35.1c8.9-18.2 17.7-32.9 26.5-45.2c12.9-18 25.8-30.9 38.6-41.1c18.4-14.6 36.8-23.5 55.2-29.9c34.2-12.1 68.4-16 102.6-18.7" stroke="#23e"/>
<path d="M416.8 391.1c5.1-7.7 10.2-14.8 15.2-21.3c8.9-11.3 17.7-20.9 26.5-29.3c12.9-12.2 25.8-21.8 38.6-29.7c18.4-11.4 36.8-19.3 55.2-25.3c34.2-11.3 68.4-16.6 102.6-20.1" stroke="#a13"/>
<path d="M416.8 389.5c5.1-5.8 10.2-11.3 15.2-16.6c8.9-9.1 17.7-17.4 26.5-25.1c12.9-11.2 25.8-21 38.6-29.7c18.4-12.5 36.8-22.7 55.2-31.4c34.2-16.2 68.4-27.2 102.6-35.5" stroke="#e4a"/>
<path d="M416.8 388.3c5.1-9.2 10.2-17.7 15.2-25.5c8.9-13.6 17.7-25.4 26.5-35.8c12.9-15.1 25.8-27.2 38.6-37.3c18.4-14.5 36.8-24.9 55.2-33.1c34.2-15.2 68.4-22.8 102.6-28.1" stroke="#23e"/>
<path d="M416.8 391c5.1-8.9 10.2-16.8 15.2-24c8.9-12.6 17.7-22.9 26.5-31.7c12.9-12.8 25.8-22.4 38.6-30.1c18.4-10.9 36.8-17.9 55.2-23.2c34.2-9.7 68.4-13.4 102.6-15.8" stroke="#e12"/>
<path d="M416.8 390.1c5.1-16.4 10.2-30.7 15.2-43.4c8.9-22 17.7-39.3 26.5-53.5c12.9-20.7 25.8-34.9 38.6-45.8c18.4-15.5 36.8-24.2 55.2-30.4c34.2-11.5 68.4-14.5 102.6-16.5" stroke="#a2a"/>
<path d="M416.8 390.7c5.1-6.1 10.2-11.8 15.2-17.1c8.9-9.3 17.7-17.5 26.5-24.9c12.9-10.8 25.8-19.8 38.6-27.6c18.4-11.1 36.8-19.6 55.2-26.5c34.2-12.8 68.4-20.3 102.6-25.7" stroke="#2b4"/>
<path d="M416.8 388.8c5.1-10.3 10.2-19.7 15.2-28.4c8.9-15 17.7-27.7 26.5-38.7c12.9-16 25.8-28.4 38.6-38.6c18.4-14.5 36.8-24.4 55.2-32c34.2-14 68.4-20.2 102.6-24.4" stroke="#a13"/>
<path d="M416.8 392.6c5.1-7.1 10.2-13.7 15.2-19.9c8.9-10.7 17.7-20 26.5-28.3c12.9-12.1 25.8-22 38.6-30.3c18.4-11.9 36.8-20.8 55.2-27.8c34.2-13 68.4-19.9 102.6-24.7" stroke="#e12"/>
<path d="M416.8 389.2c5.1-2.6 10.2-5.2 15.2-7.7c8.9-4.4 17.7-8.6 26.5-12.7c12.9-5.9 25.8-11.4 38.6-16.6c18.4-7.4 36.8-14.2 55.2-20.4c34.2-11.6 68.4-21.2 102.6-29.5" stroke="#2bb"/>
<path d="M416.8 389.1c5.1-3.4 10.2-6.8 15.2-9.9c8.9-5.6 17.7-10.8 26.5-15.7c12.9-7.1 25.8-13.5 38.6-19.4c18.4-8.5 36.8-15.8 55.2-22.2c34.2-12 68.4-21 102.6-28.3" stroke="#a13"/>
<path d="M416.8 392.1c5.1-4.5 10.2-8.9 15.2-13c8.9-7.1 17.7-13.5 26.5-19.3c12.9-8.5 25.8-15.8 38.6-22.2c18.4-9.1 36.8-16.3 55.2-22.4c34.2-11.2 68.4-18.3 102.6-23.5" stroke="#2bb"/>
<path d="M416.8 388.5c5.1-4 10.2-7.8 15.2-11.5c8.9-6.4 17.7-12.3 26.5-17.7c12.9-8 25.8-15 38.6-21.3c18.4-9.1 36.8-16.6 55.2-23.1c34.2-12.1 68.4-20.6 102.6-27.2" stroke="#e12"/>
<path d="M416.8 389.5c5.1-9 10.2-17.3 15.2-24.9c8.9-13.2 17.7-24.3 26.5-33.9c12.9-14 25.8-24.9 38.6-33.7c18.4-12.7 36.8-21.3 55.2-27.9c34.2-12.2 68.4-17.5 102.6-21.1" stroke="#000"/>
<path d="M416.8 393.4c5.1-3.1 10.2-6.2 15.2-9.2c8.9-5.3 17.7-10.3 26.5-15c12.9-6.9 25.8-13.4 38.6-19.4c18.4-8.6 36.8-16.3 55.2-23.3c34.2-13 68.4-23.6 102.6-32.6" stroke="#000"/>
<path d="M416.8 389.2c5.1-5 10.2-9.8 15.2-14.3c8.9-7.9 17.7-15 26.5-21.7c12.9-9.6 25.8-18 38.6-25.5c18.4-10.7 36.8-19.5 55.2-26.9c34.2-13.9 68.4-23.2 102.6-30.2" stroke="#118"/>
<path d="M416.8 389.6c5.1-4.7 10.2-9.3 15.2-13.7c8.9-7.6 17.7-14.6 26.5-21.2c12.9-9.6 25.8-18.2 38.6-26c18.4-11.1 36.8-20.6 55.2-28.8c34.2-15.3 68.4-26.4 102.6-35.2" stroke="#990"/>
<path d="M416.8 392.5c5.1-2.2 10.2-4.4 15.2-6.6c8.9-3.7 17.7-7.3 26.5-10.8c12.9-5.1 25.8-9.9 38.6-14.4c18.4-6.5 36.8-12.5 55.2-18.1c34.2-10.4 68.4-19.3 102.6-27" stroke="#990"/>
<path d="M416.8 391.8c5.1-12.3 10.2-23.2 15.2-33c8.9-17.1 17.7-30.9 26.5-42.5c12.9-16.8 25.8-29 38.6-38.5c18.4-13.6 36.8-21.9 55.2-27.9c34.2-11.2 68.4-14.8 102.6-17.3" stroke="#c2c"/>
<path d="M416.8 390.3c5.1-7.8 10.2-15.2 15.2-22.1c8.9-11.9 17.7-22.6 26.5-32.2c12.9-13.9 25.8-25.6 38.6-35.7c18.4-14.4 36.8-25.6 55.2-34.6c34.2-16.8 68.4-26.7 102.6-33.8" stroke="#e12"/>
<path d="M416.8 391.2c5.1-11 10.2-20.7 15.2-29.5c8.9-15.1 17.7-27.2 26.5-37.2c12.9-14.7 25.8-25.1 38.6-33.1c18.4-11.5 36.8-18.3 55.2-23.2c34.2-9.1 68.4-11.8 102.6-13.7" stroke="#888"/>
<path d="M416.8 389.3c5.1-5 10.2-9.8 15.2-14.3c8.9-7.8 17.7-14.9 26.5-21.4c12.9-9.4 25.8-17.6 38.6-24.8c18.4-10.2 36.8-18.5 55.2-25.4c34.2-12.8 68.4-21.1 102.6-27.3" stroke="#23e"/>
<path d="M416.8 392.3c5.1-7.5 10.2-14.4 15.2-20.7c8.9-11.2 17.7-20.9 26.5-29.4c12.9-12.5 25.8-22.7 38.6-31.2c18.4-12.3 36.8-21.2 55.2-28.3c34.2-13.2 68.4-20.2 102.6-25" stroke="#23e"/>
<path d="M416.8 391.9c5.1-2.3 10.2-4.6 15.2-6.8c8.9-3.9 17.7-7.7 26.5-11.3c12.9-5.3 25.8-10.4 38.6-15.2c18.4-6.8 36.8-13.2 55.2-19.2c34.2-11.2 68.4-20.9 102.6-29.4" stroke="#82e"/>
<path d="M416.8 392.9c5.1-8.1 10.2-15.6 15.2-22.6c8.9-12.2 17.7-22.8 26.5-32.3c12.9-13.8 25.8-25.1 38.6-34.7c18.4-13.7 36.8-23.8 55.2-31.9c34.2-15.1 68.4-23.2 102.6-28.9" stroke="#2b4"/>
<path d="M416.8 388.6c5.1-4.7 10.2-9.1 15.2-13.3c8.9-7.3 17.7-13.9 26.5-20c12.9-8.9 25.8-16.7 38.6-23.5c18.4-9.8 36.8-17.8 55.2-24.5c34.2-12.6 68.4-20.9 102.6-27.1" stroke="#c2c"/>
<path d="M416.8 393.3c5.1-4.2 10.2-8.2 15.2-12c8.9-6.7 17.7-12.8 26.5-18.5c12.9-8.2 25.8-15.4 38.6-21.9c18.4-9.2 36.8-16.8 55.2-23.3c34.2-12 68.4-20.2 102.6-26.5" stroke="#c2c"/>
<path d="M416.8 392.7c5.1-4.2 10.2-8.2 15.2-12.1c8.9-6.6 17.7-12.7 26.5-18.3c12.9-8.1 25.8-15.2 38.6-21.4c18.4-9 36.8-16.3 55.2-22.4c34.2-11.5 68.4-19.2 102.6-24.9" stroke="#818"/>
<path d="M416.8 392c5.1-2.7 10.2-5.3 15.2-7.9c8.9-4.5 17.7-8.8 26.5-13c12.9-6.1 25.8-11.8 38.6-17.3c18.4-7.8 36.8-15.1 55.2-21.8c34.2-12.6 68.4-23.4 102.6-33" stroke="#46e"/>
<path d="M416.8 388.3c5.1-10.4 10.2-20 15.2-28.8c8.9-15.3 17.7-28.5 26.5-40c12.9-16.7 25.8-30 38.6-41c18.4-15.8 36.8-26.9 55.2-35.5c34.2-16.1 68.4-23.8 102.6-29" stroke="#a13"/>
<path d="M416.8 389c5.1-3.2 10.2-6.2 15.2-9.1c8.9-5 17.7-9.5 26.5-13.7c12.9-6.1 25.8-11.5 38.6-16.2c18.4-6.7 36.8-12.2 55.2-16.9c34.2-8.7 68.4-14.4 102.6-18.8" stroke="#fff"/>
<path d="M416.8 392.1c5.1-13 10.2-24.4 15.2-34.6c8.9-17.8 17.7-32 26.5-43.7c12.9-17.2 25.8-29.2 38.6-38.6c18.4-13.4 36.8-21.3 55.2-26.9c34.2-10.5 68.4-13.6 102.6-15.7" stroke="#c2c"/>
<path d="M416.8 392.8c5.1-3.3 10.2-6.5 15.2-9.5c8.9-5.4 17.7-10.5 26.5-15.4c12.9-7.1 25.8-13.7 38.6-19.9c18.4-8.8 36.8-16.8 55.2-24.1c34.2-13.5 68.4-24.6 102.6-34" stroke="#23e"/>
<path d="M416.8 392.7c5.1-6.5 10.2-12.6 15.2-18.4c8.9-10 17.7-18.9 26.5-26.9c12.9-11.7 25.8-21.5 38.6-29.9c18.4-12.1 36.8-21.4 55.2-28.9c34.2-14.1 68.4-22.4 102.6-28.3" stroke="#46e"/>
<path d="M416.8 388.7c5.1-2.6 10.2-5.2 15.2-7.6c8.9-4.2 17.7-8.2 26.5-11.9c12.9-5.5 25.8-10.4 38.6-15c18.4-6.4 36.8-12 55.2-17c34.2-9.2 68.4-16.2 102.6-21.8" stroke="#118"/>
<path d="M416.8 393.3c5.1-7.9 10.2-15.1 15.2-21.8c8.9-11.7 17.7-21.8 26.5-30.7c12.9-13 25.8-23.5 38.6-32.2c18.4-12.6 36.8-21.6 55.2-28.7c34.2-13.3 68.4-20 102.6-24.6" stroke="#888"/>
<path d="M416.8 388.1c5.1-2.7 10.2-5.3 15.2-7.8c8.9-4.4 17.7-8.4 26.5-12.2c12.9-5.4 25.8-10.3 38.6-14.7c18.4-6.3 36.8-11.6 55.2-16.2c34.2-8.5 68.4-14.6 102.6-19.4" stroke="#2b4"/>
<path d="M416.8 391.3c5.1-9.3 10.2-17.8 15.2-25.7c8.9-13.6 17.7-25.1 26.5-35.1c12.9-14.6 25.8-26 38.6-35.3c18.4-13.4 36.8-22.5 55.2-29.6c34.2-13 68.4-18.9 102.6-22.9" stroke="#2b4"/>
<path d="M416.8 391c5.1-7.7 10.2-14.9 15.2-21.5c8.9-11.5 17.7-21.4 26.5-30.1c12.9-12.7 25.8-22.9 38.6-31.4c18.4-12.1 36.8-20.8 55.2-27.6c34.2-12.6 68.4-18.9 102.6-23.2" stroke="#888"/>
<path d="M416.8 390.8c5.1-4.2 10.2-8.1 15.2-12c8.9-6.6 17.7-12.7 26.5-18.4c12.9-8.4 25.8-15.8 38.6-22.6c18.4-9.6 36.8-17.8 55.2-24.9c34.2-13.2 68.4-22.8 102.6-30.3" stroke="#c2c"/>
<path d="M416.8 393.3c5.1-2.9 10.2-5.8 15.2-8.5c8.9-4.7 17.7-9.1 26.5-13.2c12.9-6 25.8-11.4 38.6-16.4c18.4-7 36.8-13 55.2-18.3c34.2-9.9 68.4-17.2 102.6-23" stroke="#199"/>
<path d="M416.8 390.6c5.1-14.4 10.2-26.9 15.2-38c8.9-19.4 17.7-34.6 26.5-47c12.9-18.2 25.8-30.7 38.6-40.2c18.4-13.7 36.8-21.4 55.2-26.8c34.2-10.2 68.4-12.8 102.6-14.6" stroke="#2bb"/>
<path d="M416.8 390c5.1-4.4 10.2-8.7 15.2-12.7c8.9-7.1 17.7-13.8 26.5-20c12.9-9.1 25.8-17.3 38.6-24.8c18.4-10.7 36.8-19.9 55.2-28c34.2-15.2 68.4-26.5 102.6-35.6" stroke="#23e"/>
<path d="M416.8 392.1c5.1-7.2 10.2-13.9 15.2-20.3c8.9-11.2 17.7-21.2 26.5-30.4c12.9-13.4 25.8-24.9 38.6-35c18.4-14.4 36.8-25.9 55.2-35.6c34.2-17.9 68.4-29.3 102.6-37.7" stroke="#23e"/>
<path d="M416.8 389.8c5.1-5.2 10.2-10.2 15.2-15c8.9-8.3 17.7-16 26.5-23.1c12.9-10.4 25.8-19.7 38.6-28.1c18.4-11.9 36.8-22 55.2-30.7c34.2-16.3 68.4-27.9 102.6-37" stroke="#fff"/>
<path d="M416.8 392c5.1-10.3 10.2-19.6 15.2-28c8.9-14.7 17.7-27 26.5-37.4c12.9-15.3 25.8-26.9 38.6-36.2c18.4-13.4 36.8-22.1 55.2-28.7c34.2-12.3 68.4-17.2 102.6-20.5" stroke="#818"/>
<path d="M416.8 391.2c5.1-4 10.2-7.9 15.2-11.5c8.9-6.3 17.7-12 26.5-17.2c12.9-7.5 25.8-14 38.6-19.6c18.4-8.1 36.8-14.5 55.2-19.8c34.2-9.9 68.4-16.1 102.6-20.7" stroke="#118"/>
<path d="M416.8 389.6c5.1-3.6 10.2-7.1 15.2-10.4c8.9-5.8 17.7-11.1 26.5-16c12.9-7.2 25.8-13.6 38.6-19.3c18.4-8.1 36.8-14.9 55.2-20.7c34.2-10.9 68.4-18.5 102.6-24.4" stroke="#2b4"/>
<path d="M416.8 390.5c5.1-8.1 10.2-15.5 15.2-22.3c8.9-11.7 17.7-21.7 26.5-30.3c12.9-12.6 25.8-22.3 38.6-30.3c18.4-11.4 36.8-19.2 55.2-25.2c34.2-11.1 68.4-16 102.6-19.4" stroke="#000"/>
<path d="M416.8 388.1c5.1-4.8 10.2-9.4 15.2-13.7c8.9-7.5 17.7-14.2 26.5-20.4c12.9-8.9 25.8-16.6 38.6-23.3c18.4-9.7 36.8-17.3 55.2-23.7c34.2-11.8 68.4-19.3 102.6-24.8" stroke="#990"/>
<path d="M416.8 389.2c5.1-13.5 10.2-25.3 15.2-36c8.9-18.5 17.7-33.3 26.5-45.7c12.9-18.1 25.8-30.9 38.6-41c18.4-14.3 36.8-22.9 55.2-29.1c34.2-11.5 68.4-15.1 102.6-17.5" stroke="#23e"/>
<path d="M416.8 392.2c5.1-3.9 10.2-7.6 15.2-11.2c8.9-6.2 17.7-12.1 26.5-17.6c12.9-8 25.8-15.3 38.6-21.9c18.4-9.5 36.8-17.8 55.2-25c34.2-13.6 68.4-23.8 102.6-32" stroke="#c2c"/>
<path d="M416.8 390.7c5.1-10 10.2-19 15.2-27.2c8.9-14.3 17.7-26 26.5-36c12.9-14.5 25.8-25.4 38.6-34c18.4-12.4 36.8-20.4 55.2-26.3c34.2-10.9 68.4-15.1 102.6-17.8" stroke="#199"/>
<path d="M416.8 389.2c5.1-6.9 10.2-13.2 15.2-19c8.9-10.1 17.7-18.6 26.5-25.9c12.9-10.7 25.8-19.1 38.6-25.8c18.4-9.8 36.8-16.4 55.2-21.4c34.2-9.4 68.4-13.6 102.6-16.4" stroke="#2bb"/>
<path d="M416.8 391c5.1-8.5 10.2-16.3 15.2-23.6c8.9-12.6 17.7-23.4 26.5-32.9c12.9-13.8 25.8-24.8 38.6-33.9c18.4-13 36.8-22.3 55.2-29.5c34.2-13.4 68.4-19.9 102.6-24.3" stroke="#82e"/>
<path d="M416.8 393.3c5.1-3.7 10.2-7.3 15.2-10.8c8.9-6 17.7-11.7 26.5-17.2c12.9-7.9 25.8-15.3 38.6-22.1c18.4-9.8 36.8-18.5 55.2-26.4c34.2-14.6 68.4-26.4 102.6-36.2" stroke="#2b4"/>
<path d="M416.8 392.8c5.1-7.5 10.2-14.3 15.2-20.7c8.9-11.1 17.7-20.8 26.5-29.4c12.9-12.4 25.8-22.6 38.6-31.1c18.4-12.2 36.8-21.2 55.2-28.3c34.2-13.2 68.4-20.2 102.6-25" stroke="#c2c"/>
<path d="M416.8 392.2c5.1-4.4 10.2-8.6 15.2-12.8c8.9-7.1 17.7-13.9 26.5-20.3c12.9-9.3 25.8-17.8 38.6-25.6c18.4-11.2 36.8-21 55.2-29.7c34.2-16.3 68.4-28.9 102.6-39.2" stroke="#a13"/>
<path d="M416.8 390.4c5.1-15.2 10.2-28.3 15.2-39.9c8.9-20.2 17.7-35.7 26.5-48.4c12.9-18.5 25.8-30.8 38.6-40.2c18.4-13.4 36.8-20.6 55.2-25.7c34.2-9.4 68.4-11.5 102.6-13.1" stroke="#2bb"/>
<path d="M416.8 392.6c5.1-5.9 10.2-11.6 15.2-17.1c8.9-9.5 17.7-18.3 26.5-26.5c12.9-11.9 25.8-22.5 38.6-32c18.4-13.7 36.8-25.2 55.2-35.1c34.2-18.5 68.4-31.7 102.6-41.9" stroke="#2b4"/>
<path d="M416.8 393.1c5.1-8.1 10.2-15.6 15.2-22.6c8.9-12.1 17.7-22.6 26.5-32c12.9-13.6 25.8-24.6 38.6-33.9c18.4-13.3 36.8-23 55.2-30.7c34.2-14.3 68.4-21.7 102.6-26.9" stroke="#000"/>
<path d="M416.8 389c5.1-5.5 10.2-10.6 15.2-15.4c8.9-8.4 17.7-15.8 26.5-22.4c12.9-9.7 25.8-17.9 38.6-24.8c18.4-10 36.8-17.6 55.2-23.8c34.2-11.5 68.4-18.2 102.6-23" stroke="#818"/>
<path d="M416.8 392.1c5.1-14.5 10.2-27.2 15.2-38.3c8.9-19.4 17.7-34.4 26.5-46.7c12.9-17.8 25.8-29.9 38.6-39c18.4-13 36.8-20.2 55.2-25.1c34.2-9.3 68.4-11.5 102.6-13" stroke="#c2c"/>
<path d="M416.8 393.1c5.1-7.1 10.2-13.9 15.2-20.4c8.9-11.2 17.7-21.5 26.5-30.9c12.9-13.8 25.8-25.8 38.6-36.5c18.4-15.2 36.8-27.8 55.2-38.3c34.2-19.8 68.4-33 102.6-43" stroke="#23e"/>
<path d="M416.8 391.6c5.1-4.7 10.2-9 15.2-13.2c8.9-7.2 17.7-13.8 26.5-19.8c12.9-8.7 25.8-16.2 38.6-22.8c18.4-9.5 36.8-17.1 55.2-23.4c34.2-11.8 68.4-19.5 102.6-25.1" stroke="#c2c"/>
<path d="M416.8 390.1c5.1-3.5 10.2-6.8 15.2-9.9c8.9-5.4 17.7-10.3 26.5-14.6c12.9-6.4 25.8-11.8 38.6-16.4c18.4-6.7 36.8-11.8 55.2-16.1c34.2-7.9 68.4-12.7 102.6-16.1" stroke="#e12"/>
<path d="M416.8 392.6c5.1-2.6 10.2-5.2 15.2-7.6c8.9-4.3 17.7-8.5 26.5-12.4c12.9-5.7 25.8-11 38.6-16c18.4-7.2 36.8-13.6 55.2-19.5c34.2-10.9 68.4-19.8 102.6-27.4" stroke="#23e"/>
<path d="M416.8 392.4c5.1-5.6 10.2-10.8 15.2-15.7c8.9-8.5 17.7-16 26.5-22.8c12.9-9.9 25.8-18.2 38.6-25.4c18.4-10.2 36.8-18.1 55.2-24.5c34.2-11.9 68.4-18.8 102.6-23.8" stroke="#990"/>
<path d="M416.8 388.9c5.1-4.9 10.2-9.6 15.2-14.2c8.9-7.8 17.7-15.2 26.5-22c12.9-10 25.8-19 38.6-27.2c18.4-11.6 36.8-21.6 55.2-30.4c34.2-16.3 68.4-28.3 102.6-37.8" stroke="#a13"/>
<path d="M416.8 390.3c5.1-8.5 10.2-16.2 15.2-23.3c8.9-12.4 17.7-22.9 26.5-32c12.9-13.3 25.8-23.6 38.6-32.1c18.4-12.1 36.8-20.5 55.2-26.9c34.2-11.9 68.4-17.2 102.6-20.9" stroke="#e12"/>
<path d="M416.8 392.9c5.1-3.8 10.2-7.5 15.2-11.1c8.9-6.1 17.7-11.8 26.5-17.1c12.9-7.8 25.8-14.6 38.6-20.8c18.4-8.9 36.8-16.3 55.2-22.8c34.2-11.9 68.4-20.5 102.6-27.1" stroke="#23e"/>
<path d="M416.8 391.4c5.1-5.7 10.2-11.1 15.2-16.3c8.9-8.9 17.7-17.1 26.5-24.7c12.9-11 25.8-20.6 38.6-29.1c18.4-12.2 36.8-22.2 55.2-30.6c34.2-15.8 68.4-26.4 102.6-34.4" stroke="#000"/>
<path d="M416.8 393.1c5.1-2.1 10.2-4.2 15.2-6.2c8.9-3.6 17.7-7 26.5-10.3c12.9-4.9 25.8-9.5 38.6-13.9c18.4-6.2 36.8-12.1 55.2-17.5c34.2-10.2 68.4-19 102.6-26.9" stroke="#23e"/>
<path d="M416.8 391.7c5.1-6.1 10.2-11.8 15.2-17c8.9-9.1 17.7-16.9 26.5-23.8c12.9-10 25.8-17.9 38.6-24.6c18.4-9.4 36.8-16.1 55.2-21.4c34.2-9.7 68.4-14.5 102.6-17.7" stroke="#a13"/>
<path d="M416.8 393.4c5.1-3.7 10.2-7.2 15.2-10.5c8.9-5.9 17.7-11.5 26.5-16.7c12.9-7.7 25.8-14.7 38.6-21.2c18.4-9.3 36.8-17.5 55.2-24.8c34.2-13.6 68.4-24.3 102.6-33" stroke="#199"/>
<path d="M416.8 392.9c5.1-9.5 10.2-18.2 15.2-26.3c8.9-14 17.7-26.2 26.5-36.9c12.9-15.7 25.8-28.3 38.6-38.8c18.4-15.1 36.8-26 55.2-34.6c34.2-15.9 68.4-24 102.6-29.6" stroke="#fff"/>
<path d="M416.8 392.9c5.1-4.6 10.2-8.9 15.2-13.1c8.9-7.2 17.7-13.8 26.5-19.9c12.9-8.8 25.8-16.5 38.6-23.4c18.4-9.7 36.8-17.8 55.2-24.5c34.2-12.7 68.4-21.2 102.6-27.6" stroke="#e12"/>
<path d="M416.8 389.9c5.1-15.3 10.2-28.8 15.2-40.9c8.9-21 17.7-37.9 26.5-52.1c12.9-20.6 25.8-35.3 38.6-46.8c18.4-16.5 36.8-26.4 55.2-33.5c34.2-13.3 68.4-17.5 102.6-20.3" stroke="#818"/>
<path d="M416.8 391c5.1-4.4 10.2-8.6 15.2-12.5c8.9-6.9 17.7-13.1 26.5-18.9c12.9-8.4 25.8-15.7 38.6-22.2c18.4-9.3 36.8-16.8 55.2-23.2c34.2-12 68.4-19.9 102.6-26" stroke="#118"/>
<path d="M416.8 391.4c5.1-3.5 10.2-7 15.2-10.3c8.9-5.9 17.7-11.5 26.5-16.9c12.9-7.8 25.8-15.2 38.6-22.1c18.4-10 36.8-19.1 55.2-27.4c34.2-15.6 68.4-28.6 102.6-39.9" stroke="#e4a"/>
<path d="M416.8 388.5c5.1-3.2 10.2-6.3 15.2-9.3c8.9-5.2 17.7-10.1 26.5-14.6c12.9-6.5 25.8-12.4 38.6-17.8c18.4-7.6 36.8-14 55.2-19.7c34.2-10.5 68.4-18.1 102.6-24.1" stroke="#a13"/>
<path d="M416.8 393c5.1-3.3 10.2-6.5 15.2-9.6c8.9-5.5 17.7-10.7 26.5-15.6c12.9-7.2 25.8-13.8 38.6-20.1c18.4-8.9 36.8-16.8 55.2-24.1c34.2-13.5 68.4-24.4 102.6-33.7" stroke="#23e"/>
<path d="M416.8 388.5c5.1-2.7 10.2-5.4 15.2-8c8.9-4.6 17.7-9 26.5-13.3c12.9-6.2 25.8-12.1 38.6-17.7c18.4-8.1 36.8-15.5 55.2-22.5c34.2-12.9 68.4-24 102.6-33.9" stroke="#e4a"/>
<path d="M416.8 388.4c5.1-3.5 10.2-6.9 15.2-10.2c8.9-5.7 17.7-11.1 26.5-16.1c12.9-7.3 25.8-14 38.6-20.2c18.4-8.8 36.8-16.5 55.2-23.3c34.2-12.6 68.4-22.4 102.6-30.3" stroke="#2bb"/>
<path d="M416.8 390.3c5.1-4.1 10.2-8 15.2-11.8c8.9-6.5 17.7-12.5 26.5-18c12.9-8.2 25.8-15.4 38.6-21.9c18.4-9.2 36.8-17 55.2-23.7c34.2-12.5 68.4-21.4 102.6-28.3" stroke="#23e"/>
<path d="M416.8 391c5.1-13.1 10.2-24.9 15.2-35.5c8.9-18.6 17.7-33.8 26.5-46.8c12.9-18.8 25.8-32.8 38.6-44c18.4-16 36.8-26.2 55.2-33.7c34.2-14 68.4-19.2 102.6-22.7" stroke="#2b4"/>
<path d="M416.8 393.3c5.1-2.4 10.2-4.8 15.2-7.1c8.9-4.1 17.7-8 26.5-11.8c12.9-5.5 25.8-10.8 38.6-15.8c18.4-7.1 36.8-13.8 55.2-20c34.2-11.5 68.4-21.6 102.6-30.5" stroke="#2b4"/>
<path d="M416.8 389.6c5.1-2.9 10.2-5.6 15.2-8.3c8.9-4.7 17.7-9.2 26.5-13.5c12.9-6.3 25.8-12.1 38.6-17.7c18.4-7.9 36.8-15 55.2-21.6c34.2-12.3 68.4-22.5 102.6-31.2" stroke="#e12"/>
<path d="M416.8 389c5.1-2.6 10.2-5.1 15.2-7.6c8.9-4.3 17.7-8.4 26.5-12.3c12.9-5.8 25.8-11.3 38.6-16.4c18.4-7.3 36.8-14 55.2-20.2c34.2-11.5 68.4-21.3 102.6-29.7" stroke="#e4a"/>
<path d="M416.8 392.6c5.1-3.4 10.2-6.7 15.2-9.9c8.9-5.5 17.7-10.8 26.5-15.7c12.9-7.2 25.8-13.8 38.6-19.8c18.4-8.7 36.8-16.3 55.2-23.1c34.2-12.7 68.4-22.5 102.6-30.5" stroke="#199"/>
<path d="M416.8 391.3c5.1-3 10.2-5.9 15.2-8.7c8.9-4.8 17.7-9.4 26.5-13.7c12.9-6.2 25.8-12 38.6-17.2c18.4-7.5 36.8-14.1 55.2-19.9c34.2-10.9 68.4-19.3 102.6-26.1" stroke="#2bb"/>
<path d="M416.8 392.4c5.1-9.5 10.2-18 15.2-25.9c8.9-13.7 17.7-25.3 26.5-35.4c12.9-14.7 25.8-26.1 38.6-35.4c18.4-13.4 36.8-22.6 55.2-29.6c34.2-13.1 68.4-18.9 102.6-22.8" stroke="#199"/>
<path d="M416.8 389.4c5.1-2.9 10.2-5.7 15.2-8.5c8.9-4.7 17.7-9.2 26.5-13.6c12.9-6.3 25.8-12.1 38.6-17.6c18.4-7.9 36.8-14.9 55.2-21.4c34.2-11.9 68.4-21.7 102.6-30" stroke="#199"/>
<path d="M416.8 392.4c5.1-5.2 10.2-10.2 15.2-14.8c8.9-8.2 17.7-15.7 26.5-22.5c12.9-10 25.8-18.8 38.6-26.5c18.4-11.1 36.8-20.2 55.2-27.9c34.2-14.4 68.4-24 102.6-31.3" stroke="#46e"/>
<path d="M416.8 388.6c5.1-2.8 10.2-5.6 15.2-8.3c8.9-4.7 17.7-9.1 26.5-13.4c12.9-6.1 25.8-11.7 38.6-17c18.4-7.4 36.8-14 55.2-20c34.2-11 68.4-19.8 102.6-27" stroke="#2bb"/>
<path d="M416.8 390.5c5.1-7.4 10.2-14.2 15.2-20.6c8.9-11.1 17.7-20.8 26.5-29.4c12.9-12.5 25.8-22.7 38.6-31.3c18.4-12.3 36.8-21.3 55.2-28.5c34.2-13.4 68.4-20.5 102.6-25.4" stroke="#2bb"/>
<path d="M416.8 391.4c5.1-14.5 10.2-27.2 15.2-38.5c8.9-19.6 17.7-35 26.5-47.8c12.9-18.5 25.8-31.4 38.6-41.2c18.4-14.1 36.8-22.1 55.2-27.8c34.2-10.6 68.4-13.4 102.6-15.4" stroke="#2a8"/>
<path d="M416.8 390.1c5.1-6.2 10.2-11.9 15.2-17.3c8.9-9.5 17.7-17.8 26.5-25.4c12.9-11 25.8-20.2 38.6-28.2c18.4-11.3 36.8-20.1 55.2-27.2c34.2-13.3 68.4-21.1 102.6-26.7" stroke="#e4a"/>
<path d="M416.8 392.5c5.1-5.1 10.2-9.9 15.2-14.4c8.9-7.9 17.7-15 26.5-21.5c12.9-9.4 25.8-17.5 38.6-24.5c18.4-10.1 36.8-18.1 55.2-24.8c34.2-12.3 68.4-20.1 102.6-25.8" stroke="#23e"/>
<path d="M416.8 389.5c5.1-5 10.2-9.8 15.2-14.4c8.9-7.9 17.7-15.2 26.5-22c12.9-9.8 25.8-18.5 38.6-26.3c18.4-11.1 36.8-20.4 55.2-28.3c34.2-14.7 68.4-24.9 102.6-32.8" stroke="#fff"/>
<path d="M416.8 389.7c5.1-12.5 10.2-23.7 15.2-33.7c8.9-17.5 17.7-31.7 26.5-43.7c12.9-17.4 25.8-30.2 38.6-40.2c18.4-14.4 36.8-23.3 55.2-29.9c34.2-12.1 68.4-16.3 102.6-19.1" stroke="#23e"/>
<path d="M416.8 390c5.1-7.7 10.2-14.8 15.2-21.3c8.9-11.3 17.7-20.9 26.5-29.3c12.9-12.3 25.8-21.9 38.6-29.9c18.4-11.4 36.8-19.3 55.2-25.5c34.2-11.4 68.4-16.7 102.6-20.4" stroke="#c2c"/>
<path d="M416.8 392.9c5.1-3.7 10.2-7.2 15.2-10.6c8.9-5.9 17.7-11.4 26.5-16.5c12.9-7.5 25.8-14.2 38.6-20.2c18.4-8.7 36.8-16.1 55.2-22.6c34.2-12 68.4-20.8 102.6-27.7" stroke="#118"/>
<path d="M416.8 390.5c5.1-16.5 10.2-30.6 15.2-42.9c8.9-21.5 17.7-37.7 26.5-50.7c12.9-19 25.8-31.3 38.6-40.5c18.4-13.1 36.8-19.7 55.2-24.4c34.2-8.5 68.4-10.1 102.6-11.3" stroke="#c2c"/>
<path d="M416.8 391.5c5.1-4.4 10.2-8.7 15.2-12.8c8.9-7.2 17.7-13.9 26.5-20.3c12.9-9.3 25.8-17.8 38.6-25.6c18.4-11.1 36.8-20.9 55.2-29.7c34.2-16.2 68.4-28.8 102.6-39" stroke="#23e"/>
<path d="M416.8 391.5c5.1-10.2 10.2-19.7 15.2-28.4c8.9-15.1 17.7-28.1 26.5-39.5c12.9-16.6 25.8-29.7 38.6-40.6c18.4-15.6 36.8-26.6 55.2-35.2c34.2-15.9 68.4-23.6 102.6-28.8" stroke="#23e"/>
<path d="M416.8 391.3c5.1-5.2 10.2-10.1 15.2-14.7c8.9-8 17.7-15.2 26.5-21.7c12.9-9.6 25.8-17.7 38.6-24.9c18.4-10.1 36.8-18.2 55.2-24.9c34.2-12.5 68.4-20.3 102.6-26" stroke="#2bb"/>
<path d="M416.8 392.2c5.1-3.9 10.2-7.6 15.2-11.2c8.9-6.1 17.7-11.7 26.5-16.8c12.9-7.4 25.8-13.7 38.6-19.3c18.4-8 36.8-14.4 55.2-19.7c34.2-9.9 68.4-16.3 102.6-20.9" stroke="#23e"/>
<path d="M416.8 393.5c5.1-5.8 10.2-11.3 15.2-16.6c8.9-9.2 17.7-17.6 26.5-25.4c12.9-11.3 25.8-21.3 38.6-30.3c18.4-12.8 36.8-23.4 55.2-32.5c34.2-17 68.4-28.7 102.6-37.7" stroke="#2bb"/>
<path d="M416.8 389.2c5.1-3.8 10.2-7.5 15.2-11c8.9-6.1 17.7-11.9 26.5-17.4c12.9-7.9 25.8-15.2 38.6-21.8c18.4-9.5 36.8-17.9 55.2-25.2c34.2-13.8 68.4-24.3 102.6-32.9" stroke="#23e"/>
<path d="M416.8 389.3c5.1-2.4 10.2-4.8 15.2-7.1c8.9-4.1 17.7-8.1 26.5-11.9c12.9-5.6 25.8-11 38.6-16.2c18.4-7.5 36.8-14.5 55.2-21.1c34.2-12.4 68.4-23.4 102.6-33.5" stroke="#c2c"/>
<path d="M416.8 389.2c5.1-10.9 10.2-20.7 15.2-29.7c8.9-15.6 17.7-28.7 26.5-40c12.9-16.4 25.8-29 38.6-39.2c18.4-14.6 36.8-24.4 55.2-31.8c34.2-13.8 68.4-19.5 102.6-23.4" stroke="#23e"/>
<path d="M416.8 392.7c5.1-2.5 10.2-4.8 15.2-7.1c8.9-4.1 17.7-7.9 26.5-11.5c12.9-5.3 25.8-10.2 38.6-14.7c18.4-6.5 36.8-12.3 55.2-17.5c34.2-9.7 68.4-17.5 102.6-23.9" stroke="#199"/>
<path d="M416.8 388.8c5.1-3.1 10.2-6.1 15.2-9c8.9-5 17.7-9.8 26.5-14.4c12.9-6.6 25.8-12.8 38.6-18.5c18.4-8.1 36.8-15.4 55.2-21.9c34.2-12.1 68.4-21.8 102.6-29.9" stroke="#23e"/>
<path d="M416.8 391.2c5.1-3 10.2-5.8 15.2-8.5c8.9-4.7 17.7-9 26.5-13.1c12.9-6 25.8-11.3 38.6-16.2c18.4-7 36.8-12.9 55.2-18.1c34.2-9.6 68.4-16.7 102.6-22.3" stroke="#46e"/>
<path d="M416.8 392.7c5.1-12.6 10.2-24 15.2-34.3c8.9-17.8 17.7-32.5 26.5-45c12.9-18.2 25.8-31.8 38.6-42.6c18.4-15.4 36.8-25.3 55.2-32.6c34.2-13.6 68.4-18.7 102.6-22.1" stroke="#2b4"/>
<path d="M416.8 390.4c5.1-2.8 10.2-5.5 15.2-8.2c8.9-4.6 17.7-8.9 26.5-13c12.9-5.9 25.8-11.4 38.6-16.4c18.4-7.2 36.8-13.4 55.2-19c34.2-10.4 68.4-18.5 102.6-25" stroke="#23e"/>
<path d="M416.8 388.3c5.1-5.3 10.2-10.3 15.2-15c8.9-8.1 17.7-15.3 26.5-21.8c12.9-9.4 25.8-17.2 38.6-24c18.4-9.6 36.8-17 55.2-23c34.2-11.1 68.4-17.5 102.6-22" stroke="#e4a"/>
<path d="M416.8 389.5c5.1-5.1 10.2-10 15.2-14.7c8.9-8.1 17.7-15.5 26.5-22.4c12.9-10 25.8-18.8 38.6-26.7c18.4-11.3 36.8-20.6 55.2-28.6c34.2-14.8 68.4-25 102.6-32.8" stroke="#e80"/>
<path d="M416.8 391.7c5.1-7.2 10.2-13.9 15.2-20c8.9-10.7 17.7-19.8 26.5-27.9c12.9-11.7 25.8-21.1 38.6-28.9c18.4-11.2 36.8-19.2 55.2-25.4c34.2-11.5 68.4-17.2 102.6-21.1" stroke="#23e"/>
<path d="M416.8 393.4c5.1-2.6 10.2-5.2 15.2-7.7c8.9-4.3 17.7-8.3 26.5-12.1c12.9-5.5 25.8-10.5 38.6-15.1c18.4-6.6 36.8-12.3 55.2-17.3c34.2-9.5 68.4-16.6 102.6-22.4" stroke="#e4a"/>
<path d="M416.8 390.9c5.1-3.3 10.2-6.4 15.2-9.3c8.9-5.1 17.7-9.8 26.5-14c12.9-6.3 25.8-11.7 38.6-16.5c18.4-6.9 36.8-12.5 55.2-17.2c34.2-8.8 68.4-14.7 102.6-19.1" stroke="#e12"/>
<path d="M416.8 391.1c5.1-4.8 10.2-9.4 15.2-13.6c8.9-7.5 17.7-14.1 26.5-20.1c12.9-8.7 25.8-16.1 38.6-22.5c18.4-9.2 36.8-16.3 55.2-22.2c34.2-10.9 68.4-17.4 102.6-22.2" stroke="#23e"/>
<path d="M416.8 391.2c5.1-5.6 10.2-10.9 15.2-15.9c8.9-8.7 17.7-16.5 26.5-23.6c12.9-10.3 25.8-19.1 38.6-26.7c18.4-10.8 36.8-19.4 55.2-26.4c34.2-13.2 68.4-21.2 102.6-27.1" stroke="#a13"/>
<path d="M416.8 389c5.1-14 10.2-26.1 15.2-36.8c8.9-18.6 17.7-32.9 26.5-44.6c12.9-17 25.8-28.5 38.6-37.2c18.4-12.3 36.8-19.1 55.2-23.8c34.2-8.8 68.4-10.8 102.6-12.2" stroke="#e12"/>
<path d="M416.8 390.5c5.1-4.7 10.2-9.2 15.2-13.4c8.9-7.4 17.7-14.1 26.5-20.1c12.9-8.8 25.8-16.3 38.6-22.9c18.4-9.4 36.8-16.8 55.2-23c34.2-11.5 68.4-18.8 102.6-24.1" stroke="#888"/>
<path d="M416.8 392.7c5.1-11.6 10.2-22.1 15.2-31.7c8.9-16.5 17.7-30.3 26.5-42c12.9-17.1 25.8-30 38.6-40.3c18.4-14.8 36.8-24.4 55.2-31.6c34.2-13.3 68.4-18.5 102.6-22" stroke="#888"/>
<path d="M416.8 391.2c5.1-11.7 10.2-22.4 15.2-32.1c8.9-16.8 17.7-30.8 26.5-42.8c12.9-17.6 25.8-30.8 38.6-41.6c18.4-15.3 36.8-25.3 55.2-32.9c34.2-14.1 68.4-19.8 102.6-23.6" stroke="#818"/>
<path d="M416.8 389.5c5.1-6.1 10.2-11.8 15.2-17.3c8.9-9.4 17.7-17.9 26.5-25.6c12.9-11.3 25.8-20.8 38.6-29.2c18.4-11.9 36.8-21.4 55.2-29.2c34.2-14.5 68.4-23.6 102.6-30.2" stroke="#e12"/>
<path d="M416.8 392.7c5.1-2.9 10.2-5.7 15.2-8.4c8.9-4.6 17.7-9.1 26.5-13.3c12.9-6.2 25.8-12 38.6-17.3c18.4-7.7 36.8-14.6 55.2-20.8c34.2-11.6 68.4-21 102.6-28.9" stroke="#a13"/>
<path d="M416.8 392.7c5.1-2.4 10.2-4.7 15.2-6.9c8.9-3.9 17.7-7.6 26.5-11.1c12.9-5.1 25.8-9.9 38.6-14.3c18.4-6.4 36.8-12.1 55.2-17.4c34.2-9.7 68.4-17.6 102.6-24.3" stroke="#2bb"/>
<path d="M416.8 393.3c5.1-8.3 10.2-15.9 15.2-22.9c8.9-12.2 17.7-22.6 26.5-31.7c12.9-13.3 25.8-23.7 38.6-32.4c18.4-12.3 36.8-20.9 55.2-27.6c34.2-12.5 68.4-18.3 102.6-22.3" stroke="#818"/>
<path d="M416.8 389.2c5.1-6.9 10.2-13.2 15.2-19c8.9-10.1 17.7-18.8 26.5-26.4c12.9-11 25.8-19.7 38.6-27c18.4-10.4 36.8-17.7 55.2-23.3c34.2-10.6 68.4-15.7 102.6-19.1" stroke="#c2c"/>
<path d="M416.8 390.2c5.1-3.9 10.2-7.5 15.2-11c8.9-6 17.7-11.6 26.5-16.7c12.9-7.5 25.8-14.1 38.6-20c18.4-8.4 36.8-15.4 55.2-21.4c34.2-11.1 68.4-18.8 102.6-24.7" stroke="#818"/>
<path d="M416.8 392.6c5.1-12.8 10.2-24.2 15.2-34.3c8.9-17.5 17.7-31.5 26.5-43c12.9-16.8 25.8-28.7 38.6-37.8c18.4-13 36.8-20.6 55.2-26.1c34.2-10.1 68.4-13 102.6-15" stroke="#818"/>
<path d="M416.8 391.7c5.1-2.2 10.2-4.3 15.2-6.4c8.9-3.7 17.7-7.2 26.5-10.6c12.9-5 25.8-9.6 38.6-14.1c18.4-6.3 36.8-12.1 55.2-17.5c34.2-10 68.4-18.5 102.6-25.9" stroke="#c2c"/>
<path d="M416.8 389c5.1-9.3 10.2-17.6 15.2-25.3c8.9-13.3 17.7-24.5 26.5-34.1c12.9-14 25.8-24.8 38.6-33.5c18.4-12.5 36.8-20.9 55.2-27.2c34.2-11.8 68.4-16.8 102.6-20.1" stroke="#c2c"/>
<path d="M416.8 393.1c5.1-5.6 10.2-11 15.2-16.2c8.9-9 17.7-17.4 26.5-25.2c12.9-11.4 25.8-21.7 38.6-31c18.4-13.3 36.8-24.7 55.2-34.6c34.2-18.5 68.4-32.1 102.6-42.9" stroke="#118"/>
<path d="M416.8 389.7c5.1-3 10.2-6 15.2-8.9c8.9-5 17.7-9.8 26.5-14.3c12.9-6.6 25.8-12.7 38.6-18.5c18.4-8.1 36.8-15.5 55.2-22.1c34.2-12.4 68.4-22.4 102.6-30.7" stroke="#199"/>
<path d="M416.8 391.9c5.1-13.8 10.2-26 15.2-37c8.9-19 17.7-34.3 26.5-47c12.9-18.6 25.8-31.8 38.6-42.1c18.4-14.8 36.8-23.6 55.2-30c34.2-11.8 68.4-15.5 102.6-18" stroke="#93a"/>
<path d="M416.8 388.2c5.1-5.5 10.2-10.6 15.2-15.3c8.9-8.2 17.7-15.3 26.5-21.5c12.9-9.1 25.8-16.4 38.6-22.4c18.4-8.6 36.8-14.8 55.2-19.6c34.2-9 68.4-13.5 102.6-16.5" stroke="#818"/>
<path d="M416.8 392.3c5.1-3.3 10.2-6.5 15.2-9.6c8.9-5.4 17.7-10.6 26.5-15.5c12.9-7.3 25.8-14 38.6-20.3c18.4-9 36.8-17.2 55.2-24.6c34.2-13.8 68.4-25.2 102.6-34.9" stroke="#e12"/>
<path d="M416.8 391.3c5.1-9 10.2-17.1 15.2-24.5c8.9-13 17.7-24 26.5-33.5c12.9-13.8 25.8-24.6 38.6-33.4c18.4-12.5 36.8-21.1 55.2-27.7c34.2-12.2 68.4-17.6 102.6-21.3" stroke="#818"/>
<path d="M416.8 389.4c5.1-5.7 10.2-11.1 15.2-16.1c8.9-8.8 17.7-16.7 26.5-23.8c12.9-10.3 25.8-19 38.6-26.5c18.4-10.7 36.8-19.1 55.2-25.9c34.2-12.7 68.4-20.3 102.6-25.8" stroke="#c2c"/>
<path d="M416.8 391.5c5.1-5.9 10.2-11.5 15.2-16.8c8.9-9.2 17.7-17.6 26.5-25.2c12.9-11.2 25.8-20.9 38.6-29.4c18.4-12.2 36.8-22 55.2-30.3c34.2-15.4 68.4-25.5 102.6-33" stroke="#46e"/>
<path d="M416.8 389.1c5.1-3.1 10.2-6 15.2-8.8c8.9-4.8 17.7-9.1 26.5-13.1c12.9-5.8 25.8-10.7 38.6-15.1c18.4-6.2 36.8-11.2 55.2-15.3c34.2-7.8 68.4-12.7 102.6-16.3" stroke="#c2c"/>
<path d="M416.8 389.1c5.1-13.6 10.2-25.6 15.2-36.3c8.9-18.7 17.7-33.6 26.5-46.1c12.9-18.1 25.8-30.9 38.6-40.8c18.4-14.3 36.8-22.7 55.2-28.8c34.2-11.3 68.4-14.6 102.6-16.9" stroke="#93a"/>
<path d="M416.8 391.9c5.1-2.9 10.2-5.8 15.2-8.6c8.9-4.8 17.7-9.3 26.5-13.7c12.9-6.3 25.8-12.1 38.6-17.5c18.4-7.7 36.8-14.6 55.2-20.8c34.2-11.5 68.4-20.7 102.6-28.3" stroke="#a13"/>
<path d="M416.8 391.1c5.1-3.6 10.2-7.1 15.2-10.6c8.9-5.9 17.7-11.6 26.5-17.1c12.9-7.9 25.8-15.3 38.6-22.1c18.4-9.9 36.8-18.8 55.2-26.8c34.2-15 68.4-27.3 102.6-37.6" stroke="#46e"/>
<path d="M416.8 392.6c5.1-7.9 10.2-15.2 15.2-22.1c8.9-11.9 17.7-22.2 26.5-31.4c12.9-13.4 25.8-24.3 38.6-33.4c18.4-13.1 36.8-22.8 55.2-30.4c34.2-14.2 68.4-21.7 102.6-26.9" stroke="#23e"/>
<path d="M416.8 390.4c5.1-3.8 10.2-7.5 15.2-11c8.9-6 17.7-11.7 26.5-16.9c12.9-7.7 25.8-14.5 38.6-20.7c18.4-8.8 36.8-16.3 55.2-22.8c34.2-12 68.4-20.7 102.6-27.5" stroke="#000"/>
<path d="M416.8 388.7c5.1-3.1 10.2-6 15.2-8.9c8.9-4.9 17.7-9.6 26.5-14c12.9-6.4 25.8-12.2 38.6-17.5c18.4-7.6 36.8-14.3 55.2-20.1c34.2-10.9 68.4-19.2 102.6-25.9" stroke="#c2c"/>
<path d="M416.8 391.9c5.1-4.5 10.2-8.7 15.2-12.8c8.9-7.1 17.7-13.6 26.5-19.7c12.9-8.9 25.8-16.9 38.6-24c18.4-10.3 36.8-18.9 55.2-26.4c34.2-14 68.4-24 102.6-31.9" stroke="#2b4"/>
<path d="M416.8 390c5.1-2.1 10.2-4.1 15.2-6.1c8.9-3.5 17.7-6.9 26.5-10.1c12.9-4.8 25.8-9.3 38.6-13.7c18.4-6.2 36.8-12 55.2-17.4c34.2-10.2 68.4-19.1 102.6-27.1" stroke="#23e"/>
<path d="M416.8 392.7c5.1-5.2 10.2-10.2 15.2-14.9c8.9-8.2 17.7-15.6 26.5-22.5c12.9-9.9 25.8-18.5 38.6-26.1c18.4-10.9 36.8-19.7 55.2-27.1c34.2-13.8 68.4-22.9 102.6-29.7" stroke="#118"/>
<path d="M416.8 389.5c5.1-15.6 10.2-28.9 15.2-40.6c8.9-20.3 17.7-35.7 26.5-48c12.9-18 25.8-29.6 38.6-38.3c18.4-12.4 36.8-18.7 55.2-23.1c34.2-8.1 68.4-9.6 102.6-10.8" stroke="#888"/>
<path d="M416.8 390.1c5.1-4.6 10.2-8.9 15.2-13c8.9-7 17.7-13.3 26.5-18.9c12.9-8.3 25.8-15.2 38.6-21.2c18.4-8.6 36.8-15.3 55.2-20.7c34.2-10.2 68.4-16.2 102.6-20.6" stroke="#199"/>
<path d="M416.8 393.2c5.1-2.2 10.2-4.3 15.2-6.4c8.9-3.7 17.7-7.2 26.5-10.5c12.9-4.9 25.8-9.5 38.6-13.7c18.4-6.1 36.8-11.6 55.2-16.6c34.2-9.4 68.4-17.1 102.6-23.6" stroke="#82e"/>
<path d="M416.8 393.1c5.1-3.9 10.2-7.8 15.2-11.5c8.9-6.4 17.7-12.5 26.5-18.3c12.9-8.5 25.8-16.3 38.6-23.6c18.4-10.3 36.8-19.5 55.2-27.8c34.2-15.5 68.4-27.7 102.6-37.9" stroke="#118"/>
<path d="M416.8 390c5.1-4.2 10.2-8.3 15.2-12.2c8.9-6.7 17.7-13 26.5-18.8c12.9-8.6 25.8-16.2 38.6-23.1c18.4-9.8 36.8-18.2 55.2-25.4c34.2-13.5 68.4-23.3 102.6-31" stroke="#a13"/>
<path d="M416.8 391.4c5.1-5 10.2-9.8 15.2-14.4c8.9-7.9 17.7-15.1 26.5-21.7c12.9-9.5 25.8-17.8 38.6-25.2c18.4-10.4 36.8-18.9 55.2-26c34.2-13.2 68.4-21.8 102.6-28.2" stroke="#e4a"/>
<path d="M416.8 392.6c5.1-7.6 10.2-14.6 15.2-21.2c8.9-11.4 17.7-21.4 26.5-30.3c12.9-13.1 25.8-23.8 38.6-32.9c18.4-13 36.8-22.8 55.2-30.6c34.2-14.5 68.4-22.5 102.6-28.1" stroke="#2b4"/>
<path d="M416.8 388.1c5.1-13.7 10.2-25.5 15.2-35.8c8.9-18 17.7-31.6 26.5-42.4c12.9-15.9 25.8-26.2 38.6-33.9c18.4-10.9 36.8-16.5 55.2-20.4c34.2-7.2 68.4-8.5 102.6-9.5" stroke="#e4a"/>
<path d="M416.8 392.4c5.1-3.4 10.2-6.7 15.2-9.8c8.9-5.5 17.7-10.6 26.5-15.4c12.9-7 25.8-13.4 38.6-19.1c18.4-8.2 36.8-15.3 55.2-21.5c34.2-11.6 68.4-20.2 102.6-27.1" stroke="#46e"/>
<path d="M416.8 392.5c5.1-5.8 10.2-11.3 15.2-16.5c8.9-9 17.7-17.2 26.5-24.6c12.9-10.9 25.8-20.3 38.6-28.5c18.4-11.7 36.8-21.1 55.2-28.9c34.2-14.6 68.4-24 102.6-30.9" stroke="#23e"/>
<path d="M416.8 392.9c5.1-11.2 10.2-21.2 15.2-30.2c8.9-15.7 17.7-28.5 26.5-39.3c12.9-15.8 25.8-27.4 38.6-36.5c18.4-13.1 36.8-21.3 55.2-27.4c34.2-11.2 68.4-15.1 102.6-17.8" stroke="#2b4"/>
<path d="M416.8 390.4c5.1-4.4 10.2-8.6 15.2-12.6c8.9-6.9 17.7-13.2 26.5-19c12.9-8.4 25.8-15.6 38.6-22.1c18.4-9.2 36.8-16.6 55.2-22.9c34.2-11.7 68.4-19.4 102.6-25.2" stroke="#c2c"/>
<path d="M416.8 390.1c5.1-5.8 10.2-11.3 15.2-16.5c8.9-9 17.7-17.1 26.5-24.3c12.9-10.5 25.8-19.4 38.6-27c18.4-11 36.8-19.4 55.2-26.3c34.2-12.9 68.4-20.5 102.6-26" stroke="#a13"/>
<path d="M416.8 391.7c5.1-13.6 10.2-25.7 15.2-36.6c8.9-19 17.7-34.2 26.5-47c12.9-18.7 25.8-32.1 38.6-42.6c18.4-15.1 36.8-24.2 55.2-30.9c34.2-12.3 68.4-16.3 102.6-19" stroke="#818"/>
<path d="M416.8 388.5c5.1-3.5 10.2-6.9 15.2-10.2c8.9-5.6 17.7-10.8 26.5-15.6c12.9-7.1 25.8-13.3 38.6-18.9c18.4-8 36.8-14.8 55.2-20.6c34.2-10.7 68.4-18.4 102.6-24.3" stroke="#23e"/>
<path d="M416.8 391c5.1-6.2 10.2-12 15.2-17.5c8.9-9.6 17.7-18.3 26.5-26.3c12.9-11.6 25.8-21.7 38.6-30.6c18.4-12.7 36.8-23.1 55.2-31.8c34.2-16.1 68.4-26.7 102.6-34.7" stroke="#818"/>
<path d="M416.8 390.3c5.1-6.4 10.2-12.5 15.2-18.3c8.9-10.1 17.7-19.3 26.5-27.8c12.9-12.5 25.8-23.4 38.6-33.2c18.4-13.9 36.8-25.4 55.2-35.2c34.2-18.3 68.4-30.8 102.6-40.4" stroke="#2b4"/>
<path d="M416.8 393c5.1-2.3 10.2-4.6 15.2-6.8c8.9-3.9 17.7-7.6 26.5-11.2c12.9-5.2 25.8-10 38.6-14.6c18.4-6.5 36.8-12.5 55.2-17.9c34.2-10.1 68.4-18.6 102.6-25.8" stroke="#990"/>
<path d="M416.8 389.6c5.1-5.8 10.2-11.3 15.2-16.7c8.9-9.3 17.7-17.8 26.5-25.8c12.9-11.7 25.8-22.1 38.6-31.5c18.4-13.4 36.8-24.7 55.2-34.5c34.2-18.3 68.4-31.4 102.6-41.6" stroke="#199"/>
<path d="M416.8 388.5c5.1-5.9 10.2-11.5 15.2-16.8c8.9-9.2 17.7-17.4 26.5-24.8c12.9-10.8 25.8-20 38.6-28c18.4-11.3 36.8-20.2 55.2-27.6c34.2-13.6 68.4-21.9 102.6-27.9" stroke="#2b4"/>
<path d="M416.8 388.8c5.1-5.9 10.2-11.3 15.2-16.4c8.9-8.8 17.7-16.5 26.5-23.3c12.9-9.9 25.8-18 38.6-24.8c18.4-9.7 36.8-16.9 55.2-22.5c34.2-10.6 68.4-16.1 102.6-20" stroke="#2b4"/>
<path d="M416.8 389.3c5.1-2.4 10.2-4.8 15.2-7.1c8.9-4 17.7-7.7 26.5-11.3c12.9-5.1 25.8-9.9 38.6-14.2c18.4-6.2 36.8-11.6 55.2-16.4c34.2-9 68.4-15.9 102.6-21.5" stroke="#82e"/>
<path d="M416.8 389.9c5.1-3.6 10.2-7.1 15.2-10.4c8.9-5.9 17.7-11.4 26.5-16.6c12.9-7.6 25.8-14.5 38.6-20.8c18.4-9.1 36.8-17 55.2-24c34.2-13.1 68.4-23.2 102.6-31.4" stroke="#888"/>
<path d="M416.8 391.5c5.1-4.1 10.2-7.9 15.2-11.6c8.9-6.4 17.7-12.2 26.5-17.5c12.9-7.9 25.8-14.7 38.6-20.8c18.4-8.7 36.8-15.9 55.2-22c34.2-11.3 68.4-18.9 102.6-24.8" stroke="#888"/>
<path d="M416.8 390.9c5.1-4.8 10.2-9.2 15.2-13.4c8.9-7.4 17.7-13.9 26.5-19.9c12.9-8.6 25.8-15.9 38.6-22.2c18.4-9 36.8-16.1 55.2-21.9c34.2-10.7 68.4-17.2 102.6-21.9" stroke="#000"/>
<path d="M416.8 389.5c5.1-4.2 10.2-8.3 15.2-12.2c8.9-6.8 17.7-13.2 26.5-19.3c12.9-8.8 25.8-16.9 38.6-24.4c18.4-10.7 36.8-20.1 55.2-28.4c34.2-15.6 68.4-27.8 102.6-37.8" stroke="#990"/>
<path d="M416.8 392.7c5.1-4 10.2-7.9 15.2-11.6c8.9-6.6 17.7-12.7 26.5-18.4c12.9-8.4 25.8-16 38.6-23c18.4-10 36.8-18.7 55.2-26.4c34.2-14.3 68.4-25.3 102.6-34.1" stroke="#e12"/>
<path d="M416.8 392.5c5.1-2.1 10.2-4.1 15.2-6.1c8.9-3.4 17.7-6.7 26.5-10c12.9-4.7 25.8-9.1 38.6-13.4c18.4-6.1 36.8-11.8 55.2-17.2c34.2-9.9 68.4-18.6 102.6-26.4" stroke="#2bb"/>
<path d="M416.8 392.1c5.1-6.7 10.2-13 15.2-18.9c8.9-10.3 17.7-19.4 26.5-27.6c12.9-12 25.8-22.1 38.6-30.8c18.4-12.4 36.8-22 55.2-29.9c34.2-14.5 68.4-23.2 102.6-29.3" stroke="#e12"/>
<path d="M416.8 393.4c5.1-13.7 10.2-25.7 15.2-36.5c8.9-18.6 17.7-33.4 26.5-45.6c12.9-17.8 25.8-30.2 38.6-39.8c18.4-13.6 36.8-21.6 55.2-27.2c34.2-10.5 68.4-13.4 102.6-15.5" stroke="#199"/>
<path d="M416.8 393.4c5.1-14.3 10.2-26.8 15.2-38c8.9-19.5 17.7-35 26.5-47.8c12.9-18.6 25.8-31.7 38.6-41.8c18.4-14.5 36.8-22.9 55.2-28.9c34.2-11.2 68.4-14.4 102.6-16.6" stroke="#a2a"/>
<path d="M416.8 389.2c5.1-2.9 10.2-5.8 15.2-8.6c8.9-4.8 17.7-9.4 26.5-13.9c12.9-6.5 25.8-12.6 38.6-18.4c18.4-8.3 36.8-15.9 55.2-22.9c34.2-13 68.4-24.1 102.6-33.7" stroke="#2b4"/>
<path d="M416.8 388.8c5.1-8.3 10.2-16 15.2-23.1c8.9-12.4 17.7-23.2 26.5-32.8c12.9-13.9 25.8-25.2 38.6-34.6c18.4-13.6 36.8-23.5 55.2-31.3c34.2-14.5 68.4-22.1 102.6-27.3" stroke="#888"/>
<path d="M416.8 390.7c5.1-4.6 10.2-9 15.2-13.2c8.9-7.4 17.7-14.2 26.5-20.6c12.9-9.3 25.8-17.7 38.6-25.2c18.4-10.9 36.8-20.1 55.2-28.2c34.2-15 68.4-26 102.6-34.7" stroke="#c2c"/>
<path d="M416.8 392.2c5.1-16.7 10.2-31 15.2-43.6c8.9-21.9 17.7-38.6 26.5-52c12.9-19.6 25.8-32.4 38.6-41.9c18.4-13.7 36.8-20.8 55.2-25.8c34.2-9.1 68.4-10.9 102.6-12.3" stroke="#199"/>
<path d="M416.8 390.3c5.1-4.8 10.2-9.4 15.2-13.7c8.9-7.6 17.7-14.4 26.5-20.6c12.9-9.1 25.8-17 38.6-23.8c18.4-9.9 36.8-17.8 55.2-24.4c34.2-12.2 68.4-20.1 102.6-26" stroke="#82e"/>
<path d="M416.8 391.7c5.1-6.9 10.2-13.5 15.2-19.7c8.9-10.9 17.7-20.8 26.5-29.9c12.9-13.2 25.8-24.8 38.6-35c18.4-14.6 36.8-26.5 55.2-36.6c34.2-18.7 68.4-31.2 102.6-40.6" stroke="#e12"/>
<path d="M416.8 393.3c5.1-7.4 10.2-14.2 15.2-20.5c8.9-11 17.7-20.4 26.5-28.6c12.9-12 25.8-21.5 38.6-29.4c18.4-11.3 36.8-19.4 55.2-25.6c34.2-11.6 68.4-17.2 102.6-21" stroke="#2bb"/>
<path d="M416.8 390.6c5.1-4.9 10.2-9.5 15.2-13.9c8.9-7.6 17.7-14.4 26.5-20.6c12.9-9 25.8-16.7 38.6-23.4c18.4-9.6 36.8-17.2 55.2-23.5c34.2-11.6 68.4-18.9 102.6-24.1" stroke="#e4a"/>
<path d="M416.8 388.5c5.1-2.6 10.2-5.2 15.2-7.7c8.9-4.3 17.7-8.4 26.5-12.4c12.9-5.8 25.8-11.1 38.6-16.2c18.4-7.2 36.8-13.7 55.2-19.6c34.2-11 68.4-20 102.6-27.7" stroke="#e12"/>
<path d="M416.8 393.2c5.1-5.8 10.2-11.3 15.2-16.5c8.9-9 17.7-17.1 26.5-24.5c12.9-10.7 25.8-19.9 38.6-27.9c18.4-11.5 36.8-20.5 55.2-28.1c34.2-14 68.4-22.7 102.6-29.2" stroke="#199"/>
<path d="M416.8 389.5c5.1-16 10.2-29.7 15.2-41.7c8.9-20.9 17.7-36.6 26.5-49.3c12.9-18.4 25.8-30.4 38.6-39.3c18.4-12.7 36.8-19.2 55.2-23.7c34.2-8.3 68.4-9.8 102.6-11" stroke="#e12"/>
<path d="M416.8 388.6c5.1-5.8 10.2-11.4 15.2-16.8c8.9-9.3 17.7-17.8 26.5-25.7c12.9-11.5 25.8-21.7 38.6-30.7c18.4-13 36.8-23.7 55.2-32.9c34.2-17 68.4-28.8 102.6-37.8" stroke="#000"/>
<path d="M416.8 391.9c5.1-15.1 10.2-28 15.2-39.4c8.9-19.7 17.7-34.6 26.5-46.5c12.9-17.5 25.8-28.8 38.6-37.2c18.4-12.1 36.8-18.3 55.2-22.5c34.2-7.9 68.4-9.4 102.6-10.5" stroke="#990"/>
<path d="M416.8 388.8c5.1-2.5 10.2-4.9 15.2-7.3c8.9-4 17.7-7.9 26.5-11.7c12.9-5.4 25.8-10.5 38.6-15.3c18.4-6.9 36.8-13.1 55.2-18.8c34.2-10.7 68.4-19.5 102.6-27.1" stroke="#118"/>
<path d="M416.8 392.6c5.1-7.7 10.2-14.8 15.2-21.4c8.9-11.5 17.7-21.4 26.5-30.2c12.9-12.9 25.8-23.2 38.6-31.9c18.4-12.4 36.8-21.4 55.2-28.5c34.2-13.3 68.4-20.1 102.6-24.8" stroke="#e12"/>
<path d="M416.8 393.1c5.1-12.1 10.2-23 15.2-32.8c8.9-17.1 17.7-31.1 26.5-42.9c12.9-17.2 25.8-29.9 38.6-39.9c18.4-14.4 36.8-23.4 55.2-30.1c34.2-12.4 68.4-16.8 102.6-19.8" stroke="#990"/>
<path d="M416.8 391.2c5.1-2.9 10.2-5.7 15.2-8.5c8.9-4.7 17.7-9.2 26.5-13.5c12.9-6.3 25.8-12.1 38.6-17.5c18.4-7.7 36.8-14.6 55.2-20.8c34.2-11.7 68.4-21.1 102.6-29" stroke="#23e"/>
<path d="M416.8 393c5.1-3.8 10.2-7.3 15.2-10.8c8.9-5.9 17.7-11.4 26.5-16.6c12.9-7.5 25.8-14.1 38.6-20.2c18.4-8.6 36.8-15.8 55.2-22.2c34.2-11.7 68.4-20.1 102.6-26.7" stroke="#a13"/>
<path d="M416.8 393.1c5.1-2.9 10.2-5.8 15.2-8.5c8.9-4.8 17.7-9.2 26.5-13.3c12.9-6 25.8-11.4 38.6-16.3c18.4-7 36.8-13 55.2-18.3c34.2-9.7 68.4-16.8 102.6-22.5" stroke="#e12"/>
<path d="M416.8 393.4c5.1-4.8 10.2-9.3 15.2-13.5c8.9-7.5 17.7-14.2 26.5-20.3c12.9-9 25.8-16.8 38.6-23.6c18.4-9.8 36.8-17.7 55.2-24.3c34.2-12.3 68.4-20.3 102.6-26.3" stroke="#e12"/>
<path d="M416.8 388.6c5.1-8.6 10.2-16.6 15.2-23.9c8.9-12.8 17.7-23.8 26.5-33.5c12.9-14.2 25.8-25.5 38.6-35c18.4-13.6 36.8-23.3 55.2-31c34.2-14.2 68.4-21.3 102.6-26.2" stroke="#e80"/>
<path d="M416.8 391.7c5.1-6.6 10.2-12.7 15.2-18.4c8.9-10.1 17.7-19 26.5-27.1c12.9-11.8 25.8-21.7 38.6-30.3c18.4-12.3 36.8-21.9 55.2-29.8c34.2-14.6 68.4-23.4 102.6-29.7" stroke="#c2c"/>
<path d="M416.8 388.2c5.1-8.1 10.2-15.5 15.2-22.3c8.9-11.7 17.7-21.7 26.5-30.4c12.9-12.6 25.8-22.4 38.6-30.4c18.4-11.5 36.8-19.3 55.2-25.3c34.2-11.2 68.4-16.2 102.6-19.6" stroke="#23e"/>
<path d="M416.8 390.8c5.1-8.8 10.2-16.8 15.2-24.1c8.9-12.8 17.7-23.5 26.5-32.9c12.9-13.6 25.8-24.1 38.6-32.8c18.4-12.3 36.8-20.7 55.2-27.2c34.2-11.9 68.4-17.2 102.6-20.8" stroke="#990"/>
<path d="M416.8 392.5c5.1-7 10.2-13.5 15.2-19.7c8.9-10.6 17.7-20.1 26.5-28.6c12.9-12.5 25.8-23 38.6-32c18.4-12.8 36.8-22.8 55.2-30.9c34.2-15.1 68.4-24 102.6-30.4" stroke="#199"/>
<path d="M416.8 389.2c5.1-3.4 10.2-6.7 15.2-9.9c8.9-5.6 17.7-10.9 26.5-15.8c12.9-7.2 25.8-13.8 38.6-19.9c18.4-8.6 36.8-16.2 55.2-22.9c34.2-12.5 68.4-22.1 102.6-30" stroke="#23e"/>
<path d="M416.8 389c5.1-3.8 10.2-7.4 15.2-10.9c8.9-6.1 17.7-11.7 26.5-17c12.9-7.7 25.8-14.7 38.6-21c18.4-9.1 36.8-16.8 55.2-23.6c34.2-12.7 68.4-22 102.6-29.4" stroke="#818"/>
<path d="M416.8 389.9c5.1-9.2 10.2-17.5 15.2-25.2c8.9-13.4 17.7-24.8 26.5-34.8c12.9-14.5 25.8-25.9 38.6-35.3c18.4-13.4 36.8-22.8 55.2-30.1c34.2-13.4 68.4-19.7 102.6-24" stroke="#e80"/>
<path d="M416.8 389.9c5.1-5.2 10.2-10.2 15.2-14.9c8.9-8.1 17.7-15.6 26.5-22.4c12.9-10 25.8-18.6 38.6-26.3c18.4-10.9 36.8-19.8 55.2-27.3c34.2-14 68.4-23.2 102.6-30.1" stroke="#c2c"/>
<path d="M416.8 388.6c5.1-10.8 10.2-20.3 15.2-28.9c8.9-14.9 17.7-27 26.5-37c12.9-14.7 25.8-25.3 38.6-33.6c18.4-11.8 36.8-19 55.2-24.2c34.2-9.6 68.4-12.8 102.6-14.9" stroke="#23e"/>
<path d="M416.8 391.3c5.1-4.3 10.2-8.3 15.2-12.3c8.9-6.9 17.7-13.3 26.5-19.4c12.9-8.9 25.8-17.1 38.6-24.5c18.4-10.7 36.8-20.1 55.2-28.4c34.2-15.6 68.4-27.6 102.6-37.4" stroke="#e80"/>
<path d="M416.8 391.9c5.1-4.2 10.2-8.1 15.2-11.7c8.9-6.4 17.7-12.1 26.5-17.3c12.9-7.6 25.8-14 38.6-19.6c18.4-7.9 36.8-14.2 55.2-19.4c34.2-9.6 68.4-15.4 102.6-19.7" stroke="#c2c"/>
<path d="M416.8 390.5c5.1-6 10.2-11.6 15.2-16.9c8.9-9.1 17.7-17.2 26.5-24.4c12.9-10.6 25.8-19.3 38.6-26.8c18.4-10.7 36.8-18.8 55.2-25.4c34.2-12.2 68.4-19.1 102.6-23.9" stroke="#118"/>
<path d="M416.8 389.2c5.1-5.9 10.2-11.5 15.2-16.9c8.9-9.2 17.7-17.7 26.5-25.5c12.9-11.3 25.8-21.2 38.6-29.9c18.4-12.5 36.8-22.7 55.2-31.4c34.2-16.1 68.4-26.8 102.6-34.9" stroke="#23e"/>
<path d="M416.8 388.6c5.1-15.8 10.2-29.4 15.2-41.3c8.9-20.6 17.7-36.2 26.5-48.7c12.9-18.3 25.8-30.1 38.6-38.9c18.4-12.6 36.8-19 55.2-23.4c34.2-8.3 68.4-9.8 102.6-11" stroke="#e12"/>
<path d="M416.8 392.5c5.1-2.2 10.2-4.4 15.2-6.5c8.9-3.8 17.7-7.4 26.5-11c12.9-5.2 25.8-10.1 38.6-14.9c18.4-6.9 36.8-13.3 55.2-19.4c34.2-11.4 68.4-21.5 102.6-30.8" stroke="#23e"/>
<path d="M416.8 391c5.1-3.9 10.2-7.7 15.2-11.4c8.9-6.5 17.7-12.6 26.5-18.3c12.9-8.5 25.8-16.3 38.6-23.5c18.4-10.3 36.8-19.5 55.2-27.8c34.2-15.4 68.4-27.7 102.6-37.9" stroke="#199"/>
<path d="M416.8 391.7c5.1-11.4 10.2-21.5 15.2-30.7c8.9-15.9 17.7-28.9 26.5-40c12.9-16 25.8-27.9 38.6-37.2c18.4-13.4 36.8-21.9 55.2-28.1c34.2-11.5 68.4-15.6 102.6-18.4" stroke="#2b4"/>
<path d="M416.8 391.3c5.1-4.5 10.2-8.8 15.2-13c8.9-7.2 17.7-13.8 26.5-19.9c12.9-8.8 25.8-16.6 38.6-23.6c18.4-10 36.8-18.2 55.2-25.2c34.2-13.1 68.4-22 102.6-28.9" stroke="#2b4"/>
<path d="M416.8 391c5.1-4.5 10.2-8.8 15.2-12.9c8.9-7.1 17.7-13.6 26.5-19.6c12.9-8.7 25.8-16.3 38.6-23c18.4-9.7 36.8-17.6 55.2-24.3c34.2-12.4 68.4-20.8 102.6-27.2" stroke="#118"/>
<path d="M416.8 389.9c5.1-11.7 10.2-22 15.2-31.2c8.9-16.1 17.7-28.9 26.5-39.6c12.9-15.6 25.8-26.7 38.6-35.3c18.4-12.2 36.8-19.5 55.2-24.7c34.2-9.8 68.4-12.7 102.6-14.7" stroke="#2b4"/>
<path d="M416.8 389c5.1-1.8 10.2-3.5 15.2-5.2c8.9-2.9 17.7-5.7 26.5-8.5c12.9-4 25.8-7.9 38.6-11.7c18.4-5.3 36.8-10.4 55.2-15.2c34.2-8.9 68.4-16.9 102.6-24.1" stroke="#e12"/>
<path d="M416.8 392.6c5.1-5.1 10.2-9.8 15.2-14.2c8.9-7.8 17.7-14.6 26.5-20.7c12.9-8.9 25.8-16.4 38.6-22.7c18.4-9.1 36.8-16 55.2-21.6c34.2-10.4 68.4-16.4 102.6-20.6" stroke="#2b4"/>
<path d="M416.8 388.1c5.1-4.5 10.2-8.7 15.2-12.7c8.9-7 17.7-13.4 26.5-19.2c12.9-8.4 25.8-15.7 38.6-22.1c18.4-9.2 36.8-16.6 55.2-22.7c34.2-11.6 68.4-19 102.6-24.5" stroke="#888"/>
<path d="M416.8 390.4c5.1-4.4 10.2-8.6 15.2-12.6c8.9-6.9 17.7-13.4 26.5-19.5c12.9-8.7 25.8-16.6 38.6-23.8c18.4-10.1 36.8-18.8 55.2-26.4c34.2-14 68.4-24.2 102.6-32.2" stroke="#2bb"/>
<path d="M416.8 391.5c5.1-5.1 10.2-9.9 15.2-14.4c8.9-8 17.7-15.2 26.5-21.8c12.9-9.7 25.8-18.1 38.6-25.5c18.4-10.6 36.8-19.2 55.2-26.4c34.2-13.5 68.4-22.4 102.6-29.1" stroke="#c2c"/>
<path d="M416.8 393.4c5.1-3.2 10.2-6.4 15.2-9.5c8.9-5.3 17.7-10.4 26.5-15.3c12.9-7.2 25.8-13.9 38.6-20.2c18.4-9 36.8-17.2 55.2-24.7c34.2-14 68.4-25.7 102.6-35.7" stroke="#a13"/>
<path d="M416.8 389.9c5.1-6.4 10.2-12.3 15.2-17.8c8.9-9.5 17.7-17.9 26.5-25.3c12.9-10.8 25.8-19.7 38.6-27.1c18.4-10.7 36.8-18.6 55.2-24.9c34.2-11.7 68.4-18 102.6-22.3" stroke="#000"/>
<path d="M416.8 389.6c5.1-5.7 10.2-11.1 15.2-16.3c8.9-8.9 17.7-17 26.5-24.3c12.9-10.8 25.8-20 38.6-28c18.4-11.5 36.8-20.7 55.2-28.4c34.2-14.2 68.4-23.3 102.6-30" stroke="#199"/>
<path d="M416.8 392.9c5.1-6.4 10.2-12.4 15.2-18c8.9-9.9 17.7-18.6 26.5-26.6c12.9-11.5 25.8-21.3 38.6-29.8c18.4-12.1 36.8-21.6 55.2-29.4c34.2-14.5 68.4-23.2 102.6-29.5" stroke="#e4a"/>
<path d="M416.8 391.4c5.1-14.6 10.2-27.4 15.2-38.9c8.9-19.9 17.7-35.8 26.5-49c12.9-19.2 25.8-32.7 38.6-43.2c18.4-14.9 36.8-23.7 55.2-30c34.2-11.6 68.4-15 102.6-17.4" stroke="#990"/>
<path d="M416.8 389.7c5.1-2.2 10.2-4.2 15.2-6.3c8.9-3.5 17.7-7 26.5-10.3c12.9-4.8 25.8-9.4 38.6-13.8c18.4-6.3 36.8-12.2 55.2-17.6c34.2-10.2 68.4-19 102.6-26.8" stroke="#c2c"/>
<path d="M416.8 389.9c5.1-6.1 10.2-11.8 15.2-17.1c8.9-9.2 17.7-17.4 26.5-24.7c12.9-10.6 25.8-19.4 38.6-27c18.4-10.8 36.8-19 55.2-25.6c34.2-12.3 68.4-19.2 102.6-24.2" stroke="#199"/>
<path d="M416.8 392.4c5.1-7.5 10.2-14.3 15.2-20.7c8.9-11.1 17.7-20.7 26.5-29.2c12.9-12.3 25.8-22.3 38.6-30.6c18.4-11.9 36.8-20.6 55.2-27.4c34.2-12.7 68.4-19.1 102.6-23.6" stroke="#2bb"/>
<path d="M416.8 389.4c5.1-3 10.2-5.8 15.2-8.5c8.9-4.7 17.7-8.9 26.5-12.9c12.9-5.7 25.8-10.8 38.6-15.3c18.4-6.4 36.8-11.7 55.2-16.2c34.2-8.4 68.4-14.1 102.6-18.5" stroke="#c2c"/>
<path d="M416.8 389.9c5.1-5 10.2-9.9 15.2-14.5c8.9-8.1 17.7-15.6 26.5-22.5c12.9-10.2 25.8-19.3 38.6-27.6c18.4-11.7 36.8-21.7 55.2-30.4c34.2-16.2 68.4-27.9 102.6-37.1" stroke="#c2c"/>
<path d="M416.8 389.8c5.1-10.5 10.2-20 15.2-28.7c8.9-15.2 17.7-28.1 26.5-39.2c12.9-16.2 25.8-28.8 38.6-39c18.4-14.7 36.8-24.7 55.2-32.3c34.2-14.2 68.4-20.4 102.6-24.6" stroke="#000"/>
<path d="M416.8 391.1c5.1-5.9 10.2-11.4 15.2-16.7c8.9-9.1 17.7-17.2 26.5-24.6c12.9-10.8 25.8-19.9 38.6-27.9c18.4-11.3 36.8-20.2 55.2-27.6c34.2-13.6 68.4-22 102.6-28" stroke="#2bb"/>
<path d="M416.8 392.7c5.1-3.2 10.2-6.2 15.2-9.1c8.9-5.1 17.7-9.8 26.5-14.3c12.9-6.5 25.8-12.3 38.6-17.6c18.4-7.7 36.8-14.2 55.2-20c34.2-10.7 68.4-18.8 102.6-25.2" stroke="#2b4"/>
<path d="M416.8 392.8c5.1-3.1 10.2-6 15.2-8.9c8.9-5 17.7-9.7 26.5-14.1c12.9-6.5 25.8-12.3 38.6-17.7c18.4-7.8 36.8-14.5 55.2-20.5c34.2-11.1 68.4-19.6 102.6-26.6" stroke="#818"/>
<path d="M416.8 388.6c5.1-5.4 10.2-10.4 15.2-15c8.9-8.1 17.7-15.2 26.5-21.5c12.9-9.1 25.8-16.5 38.6-22.8c18.4-9 36.8-15.7 55.2-20.9c34.2-9.8 68.4-15 102.6-18.7" stroke="#46e"/>
<path d="M416.8 388.5c5.1-4.7 10.2-9.1 15.2-13.2c8.9-7.3 17.7-13.8 26.5-19.7c12.9-8.6 25.8-16 38.6-22.4c18.4-9.2 36.8-16.6 55.2-22.7c34.2-11.3 68.4-18.4 102.6-23.6" stroke="#990"/>
<path d="M416.8 390.5c5.1-3.6 10.2-7.2 15.2-10.6c8.9-5.9 17.7-11.4 26.5-16.7c12.9-7.7 25.8-14.8 38.6-21.4c18.4-9.3 36.8-17.6 55.2-25c34.2-13.7 68.4-24.5 102.6-33.4" stroke="#118"/>
<path d="M416.8 388.3c5.1-4.2 10.2-8.1 15.2-11.8c8.9-6.5 17.7-12.5 26.5-17.9c12.9-8 25.8-15 38.6-21.1c18.4-8.9 36.8-16.1 55.2-22.3c34.2-11.5 68.4-19.2 102.6-25" stroke="#c2c"/>
<path d="M416.8 390.5c5.1-5.7 10.2-11.1 15.2-16.2c8.9-9 17.7-17.2 26.5-24.8c12.9-11 25.8-20.7 38.6-29.2c18.4-12.3 36.8-22.4 55.2-31c34.2-16 68.4-26.8 102.6-35" stroke="#2b4"/>
<path d="M416.8 392.3c5.1-2.2 10.2-4.3 15.2-6.4c8.9-3.7 17.7-7.2 26.5-10.5c12.9-4.9 25.8-9.5 38.6-13.8c18.4-6.2 36.8-11.8 55.2-16.9c34.2-9.6 68.4-17.5 102.6-24.3" stroke="#e12"/>
<path d="M416.8 392.5c5.1-8.4 10.2-16.1 15.2-23.1c8.9-12.1 17.7-22.4 26.5-31.2c12.9-12.9 25.8-22.9 38.6-31c18.4-11.5 36.8-19.4 55.2-25.3c34.2-11 68.4-15.8 102.6-19" stroke="#2bb"/>
<path d="M416.8 390.2c5.1-5.2 10.2-10.1 15.2-14.8c8.9-8.2 17.7-15.7 26.5-22.6c12.9-10.2 25.8-19.1 38.6-27.2c18.4-11.4 36.8-20.9 55.2-29.1c34.2-15.2 68.4-25.8 102.6-33.9" stroke="#e4a"/>
<path d="M416.8 390.5c5.1-4.9 10.2-9.5 15.2-13.8c8.9-7.6 17.7-14.3 26.5-20.5c12.9-9 25.8-16.6 38.6-23.3c18.4-9.5 36.8-17 55.2-23.2c34.2-11.6 68.4-18.7 102.6-23.9" stroke="#2b4"/>
<path d="M416.8 391.7c5.1-7 10.2-13.5 15.2-19.8c8.9-10.9 17.7-20.7 26.5-29.7c12.9-13.2 25.8-24.5 38.6-34.6c18.4-14.3 36.8-25.8 55.2-35.5c34.2-18.1 68.4-29.8 102.6-38.5" stroke="#e12"/>
<path d="M416.8 388.3c5.1-12.3 10.2-23 15.2-32.4c8.9-16.5 17.7-29.3 26.5-39.7c12.9-15.3 25.8-25.7 38.6-33.6c18.4-11.2 36.8-17.5 55.2-21.9c34.2-8.1 68.4-10.1 102.6-11.5" stroke="#2b4"/>
<path d="M416.8 391c5.1-13.6 10.2-25.6 15.2-36.4c8.9-18.7 17.7-33.8 26.5-46.4c12.9-18.4 25.8-31.6 38.6-41.9c18.4-14.7 36.8-23.6 55.2-30.1c34.2-12 68.4-15.8 102.6-18.3" stroke="#2a8"/>
<path d="M416.8 392.9c5.1-2.5 10.2-5 15.2-7.4c8.9-4.2 17.7-8.3 26.5-12.2c12.9-5.7 25.8-11.2 38.6-16.3c18.4-7.4 36.8-14.2 55.2-20.6c34.2-11.8 68.4-22 102.6-31.1" stroke="#c2c"/>
<path d="M416.8 388.8c5.1-8.2 10.2-15.7 15.2-22.7c8.9-12 17.7-22.5 26.5-31.6c12.9-13.3 25.8-23.9 38.6-32.8c18.4-12.6 36.8-21.7 55.2-28.7c34.2-13.1 68.4-19.6 102.6-24" stroke="#990"/>
<path d="M416.8 388.5c5.1-8 10.2-15.2 15.2-21.8c8.9-11.5 17.7-21.2 26.5-29.6c12.9-12.4 25.8-21.9 38.6-29.7c18.4-11.2 36.8-18.9 55.2-24.7c34.2-10.9 68.4-15.7 102.6-19" stroke="#e12"/>
<path d="M416.8 389.1c5.1-2.1 10.2-4.1 15.2-6.1c8.9-3.4 17.7-6.8 26.5-10c12.9-4.7 25.8-9.2 38.6-13.5c18.4-6.1 36.8-11.8 55.2-17.1c34.2-10 68.4-18.7 102.6-26.4" stroke="#c2c"/>
<path d="M416.8 390.7c5.1-3.7 10.2-7.3 15.2-10.8c8.9-6.1 17.7-11.8 26.5-17.3c12.9-8 25.8-15.4 38.6-22.3c18.4-9.8 36.8-18.6 55.2-26.5c34.2-14.7 68.4-26.5 102.6-36.3" stroke="#c2c"/>
<path d="M416.8 393.4c5.1-5.8 10.2-11.3 15.2-16.5c8.9-9 17.7-17.2 26.5-24.7c12.9-10.9 25.8-20.2 38.6-28.5c18.4-11.7 36.8-21.2 55.2-29.1c34.2-14.7 68.4-24.1 102.6-31.1" stroke="#2b4"/>
<path d="M416.8 392.9c5.1-3.7 10.2-7.2 15.2-10.5c8.9-5.8 17.7-11 26.5-15.8c12.9-6.9 25.8-13 38.6-18.3c18.4-7.6 36.8-13.8 55.2-18.9c34.2-9.6 68.4-15.9 102.6-20.6" stroke="#46e"/>
<path d="M416.8 392.8c5.1-5 10.2-9.7 15.2-14.1c8.9-7.6 17.7-14.4 26.5-20.6c12.9-8.9 25.8-16.4 38.6-22.9c18.4-9.3 36.8-16.5 55.2-22.3c34.2-10.9 68.4-17.4 102.6-22" stroke="#e12"/>
<path d="M416.8 392.2c5.1-5.9 10.2-11.5 15.2-16.7c8.9-9 17.7-17.2 26.5-24.6c12.9-10.8 25.8-19.9 38.6-27.9c18.4-11.5 36.8-20.5 55.2-27.9c34.2-13.8 68.4-22.4 102.6-28.6" stroke="#23e"/>
<path d="M416.8 390.2c5.1-9.2 10.2-17.5 15.2-25c8.9-13.2 17.7-24.1 26.5-33.5c12.9-13.7 25.8-24.1 38.6-32.5c18.4-12 36.8-19.9 55.2-25.9c34.2-11 68.4-15.5 102.6-18.5" stroke="#a13"/>
<path d="M416.8 392.2c5.1-3.8 10.2-7.4 15.2-10.9c8.9-6.2 17.7-12 26.5-17.6c12.9-8.1 25.8-15.7 38.6-22.8c18.4-10.1 36.8-19.2 55.2-27.5c34.2-15.4 68.4-28 102.6-38.7" stroke="#2bb"/>
<path d="M416.8 390.3c5.1-3.5 10.2-6.9 15.2-10.3c8.9-5.7 17.7-11.1 26.5-16.2c12.9-7.4 25.8-14.2 38.6-20.4c18.4-8.8 36.8-16.5 55.2-23.3c34.2-12.7 68.4-22.4 102.6-30.3" stroke="#990"/>
<path d="M416.8 388c5.1-2.1 10.2-4.2 15.2-6.2c8.9-3.6 17.7-7 26.5-10.3c12.9-4.8 25.8-9.4 38.6-13.7c18.4-6.2 36.8-11.9 55.2-17.3c34.2-9.9 68.4-18.4 102.6-25.8" stroke="#23e"/>
<path d="M416.8 391c5.1-6.9 10.2-13.3 15.2-19.3c8.9-10.4 17.7-19.6 26.5-27.7c12.9-11.9 25.8-21.7 38.6-30c18.4-11.8 36.8-20.7 55.2-27.8c34.2-13.2 68.4-20.5 102.6-25.6" stroke="#c2c"/>
<path d="M416.8 391.9c5.1-2.9 10.2-5.6 15.2-8.3c8.9-4.6 17.7-8.9 26.5-13c12.9-5.9 25.8-11.3 38.6-16.2c18.4-7.1 36.8-13.2 55.2-18.6c34.2-10.1 68.4-17.8 102.6-24" stroke="#23e"/>
<path d="M416.8 389.8c5.1-2.3 10.2-4.5 15.2-6.7c8.9-3.7 17.7-7.4 26.5-10.8c12.9-5.1 25.8-9.8 38.6-14.3c18.4-6.4 36.8-12.2 55.2-17.5c34.2-9.9 68.4-18.2 102.6-25.3" stroke="#23e"/>
<path d="M416.8 390c5.1-5.1 10.2-10.1 15.2-14.8c8.9-8.1 17.7-15.6 26.5-22.4c12.9-10 25.8-18.7 38.6-26.5c18.4-11.1 36.8-20.2 55.2-27.9c34.2-14.3 68.4-24 102.6-31.3" stroke="#e12"/>
<path d="M416.8 392.2c5.1-8.8 10.2-16.8 15.2-24.1c8.9-12.8 17.7-23.6 26.5-33c12.9-13.7 25.8-24.3 38.6-33c18.4-12.4 36.8-20.9 55.2-27.4c34.2-12.2 68.4-17.6 102.6-21.2" stroke="#2b4"/>
<path d="M416.8 392.7c5.1-2.8 10.2-5.5 15.2-8.1c8.9-4.6 17.7-8.9 26.5-12.9c12.9-5.8 25.8-11.1 38.6-15.9c18.4-6.9 36.8-12.9 55.2-18.2c34.2-9.7 68.4-17 102.6-22.9" stroke="#23e"/>
<path d="M416.8 388.9c5.1-5.4 10.2-10.4 15.2-15.2c8.9-8.3 17.7-15.8 26.5-22.6c12.9-10 25.8-18.5 38.6-25.9c18.4-10.6 36.8-19 55.2-26c34.2-13 68.4-21.1 102.6-27.1" stroke="#2b4"/>
<path d="M416.8 391.6c5.1-5.9 10.2-11.4 15.2-16.6c8.9-9.1 17.7-17.2 26.5-24.5c12.9-10.7 25.8-19.7 38.6-27.5c18.4-11.1 36.8-19.8 55.2-26.9c34.2-13.2 68.4-21.2 102.6-26.9" stroke="#2b4"/>
<path d="M416.8 392.3c5.1-7.5 10.2-14.4 15.2-20.8c8.9-11.2 17.7-21 26.5-29.7c12.9-12.6 25.8-23 38.6-31.7c18.4-12.5 36.8-21.7 55.2-29c34.2-13.7 68.4-21 102.6-26.1" stroke="#82e"/>
<path d="M416.8 392.9c5.1-4 10.2-7.8 15.2-11.6c8.9-6.4 17.7-12.5 26.5-18.2c12.9-8.3 25.8-15.8 38.6-22.7c18.4-9.8 36.8-18.3 55.2-25.9c34.2-13.9 68.4-24.5 102.6-33" stroke="#c2c"/>
<path d="M416.8 389.6c5.1-6.8 10.2-13.2 15.2-19.4c8.9-10.7 17.7-20.4 26.5-29.4c12.9-13.1 25.8-24.6 38.6-34.8c18.4-14.5 36.8-26.5 55.2-36.7c34.2-18.9 68.4-31.7 102.6-41.4" stroke="#c2c"/>
<path d="M416.8 391.2c5.1-2.7 10.2-5.4 15.2-7.9c8.9-4.5 17.7-8.7 26.5-12.6c12.9-5.7 25.8-10.9 38.6-15.6c18.4-6.7 36.8-12.6 55.2-17.8c34.2-9.6 68.4-16.8 102.6-22.6" stroke="#e12"/>
<path d="M416.8 388.6c5.1-4.1 10.2-8 15.2-11.7c8.9-6.4 17.7-12.4 26.5-17.9c12.9-8 25.8-15.2 38.6-21.6c18.4-9.1 36.8-16.8 55.2-23.5c34.2-12.3 68.4-20.9 102.6-27.7" stroke="#e4a"/>
<path d="M416.8 391.7c5.1-15.3 10.2-28.5 15.2-40.3c8.9-20.5 17.7-36.5 26.5-49.6c12.9-19.1 25.8-32.1 38.6-42.1c18.4-14.2 36.8-22.1 55.2-27.7c34.2-10.5 68.4-13 102.6-14.9" stroke="#e12"/>
<path d="M416.8 392.2c5.1-7.2 10.2-13.9 15.2-20.1c8.9-10.8 17.7-20.3 26.5-28.8c12.9-12.2 25.8-22.3 38.6-30.8c18.4-12.1 36.8-21.2 55.2-28.3c34.2-13.4 68.4-20.6 102.6-25.6" stroke="#2bb"/>
<path d="M416.8 388.3c5.1-3.4 10.2-6.7 15.2-9.8c8.9-5.6 17.7-10.9 26.5-15.9c12.9-7.3 25.8-14 38.6-20.3c18.4-9 36.8-17 55.2-24.3c34.2-13.5 68.4-24.3 102.6-33.4" stroke="#2bb"/>
<path d="M416.8 391c5.1-10.1 10.2-19.1 15.2-27.3c8.9-14.2 17.7-25.9 26.5-35.8c12.9-14.4 25.8-25 38.6-33.5c18.4-12.1 36.8-19.7 55.2-25.4c34.2-10.5 68.4-14.3 102.6-16.9" stroke="#c2c"/>
<path d="M416.8 391.5c5.1-10.5 10.2-19.9 15.2-28.3c8.9-14.7 17.7-26.7 26.5-36.7c12.9-14.8 25.8-25.5 38.6-34c18.4-12.1 36.8-19.7 55.2-25.3c34.2-10.3 68.4-13.8 102.6-16.2" stroke="#e12"/>
<path d="M416.8 390.2c5.1-3.9 10.2-7.5 15.2-11.1c8.9-6.1 17.7-11.7 26.5-17c12.9-7.7 25.8-14.6 38.6-20.8c18.4-8.9 36.8-16.4 55.2-23c34.2-12.2 68.4-21 102.6-27.9" stroke="#c2c"/>
<path d="M416.8 393.2c5.1-13.7 10.2-25.4 15.2-35.7c8.9-17.9 17.7-31.3 26.5-42.2c12.9-15.8 25.8-26 38.6-33.6c18.4-10.9 36.8-16.5 55.2-20.3c34.2-7.2 68.4-8.5 102.6-9.5" stroke="#46e"/>
<path d="M416.8 390.9c5.1-9.4 10.2-18 15.2-26c8.9-13.9 17.7-25.8 26.5-36.1c12.9-15.2 25.8-27.2 38.6-37.1c18.4-14.2 36.8-24.2 55.2-31.9c34.2-14.4 68.4-21.3 102.6-26" stroke="#fff"/>
<path d="M416.8 392.6c5.1-5.5 10.2-10.6 15.2-15.5c8.9-8.5 17.7-16.2 26.5-23.3c12.9-10.3 25.8-19.1 38.6-26.9c18.4-11.2 36.8-20.2 55.2-27.7c34.2-14 68.4-23.1 102.6-29.8" stroke="#23e"/>
<path d="M416.8 388.3c5.1-2.5 10.2-5 15.2-7.5c8.9-4.2 17.7-8.3 26.5-12.3c12.9-5.7 25.8-11.2 38.6-16.4c18.4-7.4 36.8-14.2 55.2-20.6c34.2-11.8 68.4-22 102.6-30.9" stroke="#46e"/>
<path d="M416.8 388.7c5.1-9.5 10.2-18.2 15.2-26.1c8.9-13.9 17.7-25.7 26.5-35.9c12.9-15 25.8-26.6 38.6-36.2c18.4-13.7 36.8-23.2 55.2-30.5c34.2-13.5 68.4-19.7 102.6-23.8" stroke="#e80"/>
<path d="M416.8 392.9c5.1-7.2 10.2-13.9 15.2-20.2c8.9-11 17.7-20.9 26.5-29.8c12.9-12.9 25.8-23.8 38.6-33.3c18.4-13.5 36.8-24.1 55.2-32.7c34.2-16.1 68.4-25.7 102.6-32.7" stroke="#888"/>
<path d="M416.8 389c5.1-2.5 10.2-4.9 15.2-7.3c8.9-4.1 17.7-8 26.5-11.7c12.9-5.5 25.8-10.6 38.6-15.3c18.4-6.8 36.8-13 55.2-18.6c34.2-10.4 68.4-19 102.6-26.3" stroke="#46e"/>
<path d="M416.8 393.1c5.1-3.4 10.2-6.7 15.2-9.9c8.9-5.5 17.7-10.6 26.5-15.5c12.9-7.1 25.8-13.5 38.6-19.4c18.4-8.4 36.8-15.6 55.2-22.1c34.2-12 68.4-21.1 102.6-28.4" stroke="#118"/>
<path d="M416.8 392.6c5.1-7.1 10.2-13.7 15.2-19.9c8.9-10.7 17.7-20 26.5-28.3c12.9-12.1 25.8-22 38.6-30.3c18.4-11.9 36.8-20.7 55.2-27.7c34.2-13.1 68.4-20 102.6-24.9" stroke="#c2c"/>
<path d="M416.8 392.9c5.1-8.7 10.2-16.7 15.2-24.1c8.9-13 17.7-24.2 26.5-34.1c12.9-14.5 25.8-26.2 38.6-35.9c18.4-14 36.8-24.2 55.2-32.2c34.2-14.9 68.4-22.5 102.6-27.8" stroke="#23e"/>
<path d="M416.8 393.2c5.1-6.5 10.2-12.7 15.2-18.6c8.9-10.3 17.7-19.5 26.5-27.9c12.9-12.3 25.8-22.9 38.6-32.2c18.4-13.2 36.8-23.9 55.2-32.7c34.2-16.5 68.4-27.1 102.6-34.9" stroke="#82e"/>
<path d="M416.8 390.9c5.1-6.6 10.2-12.8 15.2-18.8c8.9-10.3 17.7-19.6 26.5-28.1c12.9-12.3 25.8-23 38.6-32.3c18.4-13.4 36.8-24 55.2-33c34.2-16.6 68.4-27.2 102.6-35" stroke="#2b4"/>
<path d="M416.8 392c5.1-16.2 10.2-30.1 15.2-42.3c8.9-21.2 17.7-37.2 26.5-50.1c12.9-18.7 25.8-30.8 38.6-39.9c18.4-12.9 36.8-19.5 55.2-24c34.2-8.5 68.4-10.1 102.6-11.3" stroke="#c2c"/>
<path d="M416.8 388.1c5.1-10.1 10.2-19.2 15.2-27.4c8.9-14.3 17.7-26.1 26.5-36.1c12.9-14.5 25.8-25.3 38.6-33.9c18.4-12.4 36.8-20.2 55.2-26c34.2-10.9 68.4-14.9 102.6-17.5" stroke="#23e"/>
<path d="M416.8 392.7c5.1-19.5 10.2-36.1 15.2-50.6c8.9-25.3 17.7-44.1 26.5-59.2c12.9-22.1 25.8-36.1 38.6-46.6c18.4-14.8 36.8-22.3 55.2-27.4c34.2-9.5 68.4-11.1 102.6-12.4" stroke="#93a"/>
<path d="M416.8 390.2c5.1-3.7 10.2-7.3 15.2-10.6c8.9-5.9 17.7-11.3 26.5-16.3c12.9-7.3 25.8-13.7 38.6-19.5c18.4-8.3 36.8-15.2 55.2-21.2c34.2-11 68.4-18.8 102.6-24.8" stroke="#c2c"/>
<path d="M416.8 389.7c5.1-2.7 10.2-5.2 15.2-7.6c8.9-4.2 17.7-8.1 26.5-11.7c12.9-5.3 25.8-10.1 38.6-14.3c18.4-6.1 36.8-11.3 55.2-15.8c34.2-8.3 68.4-14.4 102.6-19.1" stroke="#2b4"/>
<path d="M416.8 388.8c5.1-11.6 10.2-21.8 15.2-31.1c8.9-16 17.7-29 26.5-39.8c12.9-15.9 25.8-27.4 38.6-36.4c18.4-12.9 36.8-20.8 55.2-26.5c34.2-10.7 68.4-14.2 102.6-16.5" stroke="#2bb"/>
<path d="M416.8 391.6c5.1-11.5 10.2-21.5 15.2-30.5c8.9-15.5 17.7-27.7 26.5-37.8c12.9-14.7 25.8-24.8 38.6-32.6c18.4-11.2 36.8-17.5 55.2-22c34.2-8.4 68.4-10.6 102.6-12.2" stroke="#2b4"/>
<path d="M416.8 393.1c5.1-7.4 10.2-14.2 15.2-20.5c8.9-11 17.7-20.6 26.5-29c12.9-12.4 25.8-22.4 38.6-30.9c18.4-12 36.8-20.8 55.2-27.8c34.2-13 68.4-19.8 102.6-24.6" stroke="#23e"/>
<path d="M416.8 391.5c5.1-11.5 10.2-21.6 15.2-30.6c8.9-15.7 17.7-28.2 26.5-38.5c12.9-15 25.8-25.6 38.6-33.7c18.4-11.7 36.8-18.4 55.2-23.3c34.2-9 68.4-11.6 102.6-13.3" stroke="#2b4"/>
<path d="M416.8 389c5.1-15.2 10.2-28.2 15.2-39.6c8.9-19.8 17.7-34.8 26.5-46.8c12.9-17.5 25.8-28.9 38.6-37.4c18.4-12.1 36.8-18.2 55.2-22.5c34.2-7.9 68.4-9.4 102.6-10.5" stroke="#23e"/>
<path d="M416.8 391.8c5.1-2.5 10.2-5 15.2-7.3c8.9-4.1 17.7-8 26.5-11.6c12.9-5.3 25.8-10.2 38.6-14.6c18.4-6.3 36.8-11.8 55.2-16.7c34.2-9.1 68.4-16 102.6-21.6" stroke="#a13"/>
<path d="M416.8 389.4c5.1-3.5 10.2-6.9 15.2-10.2c8.9-5.8 17.7-11.1 26.5-16.2c12.9-7.3 25.8-14 38.6-20.1c18.4-8.7 36.8-16.2 55.2-22.8c34.2-12.3 68.4-21.6 102.6-29.1" stroke="#990"/>
<path d="M416.8 392.7c5.1-10.1 10.2-19 15.2-27.1c8.9-13.9 17.7-25.2 26.5-34.5c12.9-13.7 25.8-23.5 38.6-31.2c18.4-11 36.8-17.6 55.2-22.3c34.2-8.9 68.4-11.7 102.6-13.7" stroke="#e4a"/>
<path d="M416.8 392.8c5.1-2.9 10.2-5.8 15.2-8.5c8.9-4.8 17.7-9.4 26.5-13.7c12.9-6.4 25.8-12.2 38.6-17.7c18.4-7.7 36.8-14.7 55.2-21c34.2-11.7 68.4-21.1 102.6-29" stroke="#a13"/>
<path d="M416.8 390.9c5.1-8.5 10.2-16.4 15.2-23.7c8.9-12.8 17.7-24 26.5-33.9c12.9-14.5 25.8-26.3 38.6-36.3c18.4-14.2 36.8-24.8 55.2-33.2c34.2-15.6 68.4-23.9 102.6-29.8" stroke="#000"/>
<path d="M416.8 393.4c5.1-4.7 10.2-9.1 15.2-13.2c8.9-7.2 17.7-13.5 26.5-19.2c12.9-8.3 25.8-15.3 38.6-21.2c18.4-8.5 36.8-15 55.2-20.3c34.2-9.8 68.4-15.4 102.6-19.5" stroke="#23e"/>
<path d="M416.8 391.4c5.1-13.1 10.2-24.7 15.2-35.1c8.9-18.1 17.7-32.6 26.5-44.7c12.9-17.7 25.8-30.3 38.6-40.2c18.4-14.1 36.8-22.6 55.2-28.7c34.2-11.4 68.4-15 102.6-17.4" stroke="#c2c"/>
<path d="M416.8 388.5c5.1-4.4 10.2-8.5 15.2-12.5c8.9-6.8 17.7-13 26.5-18.7c12.9-8.3 25.8-15.5 38.6-21.9c18.4-9 36.8-16.4 55.2-22.5c34.2-11.5 68.4-19.1 102.6-24.7" stroke="#23e"/>
<path d="M416.8 393c5.1-4.6 10.2-8.9 15.2-13c8.9-7.3 17.7-14 26.5-20.2c12.9-9 25.8-17.1 38.6-24.5c18.4-10.4 36.8-19.2 55.2-26.9c34.2-14.2 68.4-24.5 102.6-32.5" stroke="#990"/>
<path d="M416.8 393.3c5.1-7.1 10.2-13.8 15.2-19.9c8.9-10.6 17.7-19.7 26.5-27.7c12.9-11.7 25.8-20.9 38.6-28.6c18.4-11 36.8-18.8 55.2-24.8c34.2-11.3 68.4-16.8 102.6-20.5" stroke="#888"/>
<path d="M416.8 388.3c5.1-6.8 10.2-13.1 15.2-18.9c8.9-10.3 17.7-19.4 26.5-27.5c12.9-11.9 25.8-21.7 38.6-30.2c18.4-12.1 36.8-21.3 55.2-28.8c34.2-13.9 68.4-21.9 102.6-27.6" stroke="#23e"/>
<path d="M416.8 392.9c5.1-7.4 10.2-14.2 15.2-20.6c8.9-11.1 17.7-20.8 26.5-29.5c12.9-12.7 25.8-23.1 38.6-31.9c18.4-12.6 36.8-22 55.2-29.6c34.2-14 68.4-21.7 102.6-27.1" stroke="#990"/>
<path d="M416.8 392.9c5.1-5.9 10.2-11.5 15.2-16.8c8.9-9.1 17.7-17.3 26.5-24.7c12.9-10.9 25.8-20 38.6-28c18.4-11.3 36.8-20.2 55.2-27.5c34.2-13.6 68.4-21.8 102.6-27.8" stroke="#23e"/>
<path d="M416.8 393.1c5.1-8.6 10.2-16.5 15.2-24c8.9-12.9 17.7-24.2 26.5-34.2c12.9-14.6 25.8-26.5 38.6-36.6c18.4-14.4 36.8-25 55.2-33.5c34.2-15.8 68.4-24.2 102.6-30" stroke="#199"/>
<path d="M416.8 389.3c5.1-7.5 10.2-14.4 15.2-20.9c8.9-11.2 17.7-21 26.5-29.7c12.9-12.6 25.8-22.9 38.6-31.6c18.4-12.4 36.8-21.5 55.2-28.8c34.2-13.4 68.4-20.5 102.6-25.5" stroke="#2b4"/>
<path d="M416.8 393.3c5.1-11.8 10.2-22.1 15.2-31.3c8.9-16 17.7-28.5 26.5-38.8c12.9-15 25.8-25.4 38.6-33.3c18.4-11.3 36.8-17.7 55.2-22.2c34.2-8.4 68.4-10.6 102.6-12.2" stroke="#e12"/>
<path d="M416.8 391.2c5.1-6.4 10.2-12.5 15.2-18.2c8.9-9.9 17.7-18.8 26.5-26.8c12.9-11.7 25.8-21.7 38.6-30.3c18.4-12.3 36.8-21.9 55.2-29.9c34.2-14.7 68.4-23.7 102.6-30.2" stroke="#23e"/>
<path d="M416.8 390.4c5.1-4.4 10.2-8.5 15.2-12.4c8.9-6.8 17.7-12.8 26.5-18.3c12.9-8 25.8-14.7 38.6-20.5c18.4-8.4 36.8-14.9 55.2-20.2c34.2-9.9 68.4-15.9 102.6-20.2" stroke="#23e"/>
<path d="M416.8 391.9c5.1-6.8 10.2-13.1 15.2-19.1c8.9-10.5 17.7-19.8 26.5-28.3c12.9-12.4 25.8-23 38.6-32.1c18.4-13.1 36.8-23.4 55.2-32c34.2-15.8 68.4-25.6 102.6-32.7" stroke="#888"/>
<path d="M416.8 389.6c5.1-15.6 10.2-29 15.2-40.7c8.9-20.3 17.7-35.7 26.5-48c12.9-18 25.8-29.6 38.6-38.3c18.4-12.4 36.8-18.7 55.2-23.1c34.2-8.1 68.4-9.6 102.6-10.8" stroke="#e12"/>
<path d="M416.8 392.5c5.1-5.7 10.2-11.1 15.2-16.2c8.9-8.8 17.7-16.8 26.5-24.2c12.9-10.7 25.8-20 38.6-28.1c18.4-11.7 36.8-21.1 55.2-29c34.2-14.7 68.4-24.2 102.6-31.3" stroke="#e80"/>
<path d="M416.8 391.8c5.1-7 10.2-13.5 15.2-19.6c8.9-10.6 17.7-19.9 26.5-28.2c12.9-12 25.8-22 38.6-30.4c18.4-12.1 36.8-21.2 55.2-28.4c34.2-13.5 68.4-21 102.6-26.2" stroke="#c2c"/>
<path d="M416.8 391.9c5.1-9 10.2-17.3 15.2-24.9c8.9-13.4 17.7-24.8 26.5-34.8c12.9-14.7 25.8-26.3 38.6-35.9c18.4-13.8 36.8-23.6 55.2-31.2c34.2-14.1 68.4-21 102.6-25.6" stroke="#000"/>
<path d="M416.8 388.7c5.1-9.4 10.2-17.9 15.2-25.7c8.9-13.5 17.7-24.7 26.5-34.4c12.9-14.1 25.8-24.8 38.6-33.5c18.4-12.4 36.8-20.6 55.2-26.8c34.2-11.5 68.4-16.2 102.6-19.4" stroke="#2bb"/>
<path d="M416.8 392.4c5.1-15.3 10.2-28.5 15.2-40.1c8.9-20.1 17.7-35.3 26.5-47.6c12.9-18 25.8-29.7 38.6-38.5c18.4-12.6 36.8-19.1 55.2-23.6c34.2-8.5 68.4-10.1 102.6-11.3" stroke="#199"/>
<path d="M416.8 388c5.1-10.1 10.2-19.4 15.2-27.9c8.9-14.9 17.7-27.5 26.5-38.5c12.9-16 25.8-28.5 38.6-38.9c18.4-14.7 36.8-25 55.2-32.8c34.2-14.7 68.4-21.4 102.6-26" stroke="#2bb"/>
<path d="M416.8 392.8c5.1-4 10.2-7.7 15.2-11.4c8.9-6.4 17.7-12.4 26.5-18.2c12.9-8.3 25.8-15.9 38.6-23c18.4-10 36.8-18.9 55.2-26.9c34.2-14.8 68.4-26.4 102.6-35.9" stroke="#888"/>
<path d="M416.8 388.3c5.1-6.9 10.2-13.4 15.2-19.5c8.9-10.6 17.7-20 26.5-28.5c12.9-12.4 25.8-22.8 38.6-31.7c18.4-12.9 36.8-22.8 55.2-30.9c34.2-15 68.4-23.9 102.6-30.3" stroke="#199"/>
<path d="M416.8 390c5.1-9.1 10.2-17.4 15.2-25.1c8.9-13.5 17.7-25 26.5-35.2c12.9-14.9 25.8-26.7 38.6-36.6c18.4-14.2 36.8-24.3 55.2-32.3c34.2-14.7 68.4-22.1 102.6-27.1" stroke="#2bb"/>
<path d="M416.8 390.9c5.1-8.4 10.2-16.2 15.2-23.5c8.9-12.7 17.7-23.9 26.5-33.9c12.9-14.5 25.8-26.4 38.6-36.6c18.4-14.5 36.8-25.5 55.2-34.2c34.2-16.3 68.4-25.2 102.6-31.6" stroke="#e12"/>
<path d="M416.8 392.1c5.1-9 10.2-17.3 15.2-25c8.9-13.4 17.7-24.9 26.5-35.1c12.9-14.8 25.8-26.8 38.6-36.7c18.4-14.3 36.8-24.5 55.2-32.6c34.2-14.9 68.4-22.4 102.6-27.6" stroke="#2b4"/>
<path d="M416.8 389.9c5.1-5.1 10.2-9.9 15.2-14.3c8.9-7.8 17.7-14.7 26.5-21c12.9-9.1 25.8-16.8 38.6-23.4c18.4-9.5 36.8-16.9 55.2-22.9c34.2-11.2 68.4-17.9 102.6-22.7" stroke="#2b4"/>
<path d="M416.8 388.7c5.1-5.4 10.2-10.6 15.2-15.4c8.9-8.4 17.7-16 26.5-22.8c12.9-10 25.8-18.5 38.6-25.9c18.4-10.6 36.8-18.9 55.2-25.8c34.2-12.9 68.4-20.8 102.6-26.6" stroke="#888"/>
<path d="M416.8 391.1c5.1-8.6 10.2-16.5 15.2-23.7c8.9-12.5 17.7-23 26.5-32.1c12.9-13.2 25.8-23.4 38.6-31.7c18.4-11.8 36.8-19.8 55.2-25.8c34.2-11.3 68.4-16.1 102.6-19.3" stroke="#000"/>
<path d="M416.8 389.6c5.1-9.5 10.2-18.2 15.2-26.2c8.9-14 17.7-25.9 26.5-36.3c12.9-15.2 25.8-27.2 38.6-37.2c18.4-14.1 36.8-24.1 55.2-31.8c34.2-14.3 68.4-21.1 102.6-25.7" stroke="#2b4"/>
<path d="M416.8 392.4c5.1-6.7 10.2-13 15.2-19c8.9-10.3 17.7-19.7 26.5-28.3c12.9-12.5 25.8-23.2 38.6-32.6c18.4-13.5 36.8-24.2 55.2-33.3c34.2-16.7 68.4-27.4 102.6-35.3" stroke="#818"/>
<path d="M416.8 391.3c5.1-5.2 10.2-10.1 15.2-14.7c8.9-8 17.7-15.1 26.5-21.4c12.9-9.3 25.8-17 38.6-23.6c18.4-9.4 36.8-16.6 55.2-22.5c34.2-10.9 68.4-17.1 102.6-21.6" stroke="#a13"/>
<path d="M416.8 393.2c5.1-11.7 10.2-22.3 15.2-32c8.9-16.7 17.7-30.7 26.5-42.7c12.9-17.5 25.8-30.8 38.6-41.6c18.4-15.3 36.8-25.5 55.2-33.1c34.2-14.2 68.4-19.9 102.6-23.8" stroke="#e12"/>
<path d="M416.8 388.6c5.1-5 10.2-9.8 15.2-14.4c8.9-7.9 17.7-15.2 26.5-21.9c12.9-9.8 25.8-18.5 38.6-26.2c18.4-11 36.8-20.1 55.2-27.9c34.2-14.5 68.4-24.5 102.6-32.2" stroke="#c2c"/>
<path d="M416.8 389.4c5.1-12.2 10.2-23 15.2-32.6c8.9-16.8 17.7-30.3 26.5-41.6c12.9-16.3 25.8-28 38.6-37.2c18.4-13 36.8-20.8 55.2-26.4c34.2-10.5 68.4-13.8 102.6-16" stroke="#818"/>
<path d="M416.8 391.6c5.1-4.4 10.2-8.6 15.2-12.6c8.9-7 17.7-13.6 26.5-19.6c12.9-8.9 25.8-16.8 38.6-23.9c18.4-10.2 36.8-18.9 55.2-26.4c34.2-13.9 68.4-24 102.6-31.9" stroke="#2bb"/>
<path d="M416.8 391.7c5.1-2.7 10.2-5.3 15.2-7.8c8.9-4.3 17.7-8.4 26.5-12.2c12.9-5.7 25.8-10.9 38.6-15.6c18.4-6.9 36.8-12.9 55.2-18.3c34.2-10.1 68.4-18 102.6-24.5" stroke="#000"/>
<path d="M416.8 391.8c5.1-7.1 10.2-13.7 15.2-20c8.9-10.9 17.7-20.8 26.5-29.7c12.9-13.1 25.8-24.3 38.6-34.1c18.4-14 36.8-25.1 55.2-34.3c34.2-17.3 68.4-28.1 102.6-36.1" stroke="#818"/>
<path d="M416.8 392.3c5.1-2.8 10.2-5.4 15.2-8c8.9-4.4 17.7-8.6 26.5-12.4c12.9-5.7 25.8-10.8 38.6-15.4c18.4-6.7 36.8-12.4 55.2-17.4c34.2-9.4 68.4-16.4 102.6-22" stroke="#e12"/>
<path d="M416.8 392.1c5.1-4.2 10.2-8.2 15.2-12c8.9-6.7 17.7-12.9 26.5-18.7c12.9-8.5 25.8-16.2 38.6-23.2c18.4-10 36.8-18.6 55.2-26.2c34.2-14.1 68.4-24.5 102.6-32.9" stroke="#990"/>
<path d="M416.8 389.8c5.1-6.2 10.2-12.1 15.2-17.7c8.9-9.7 17.7-18.5 26.5-26.5c12.9-11.7 25.8-21.9 38.6-30.8c18.4-12.7 36.8-23 55.2-31.6c34.2-16 68.4-26.4 102.6-34.1" stroke="#118"/>
<path d="M416.8 388.6c5.1-6 10.2-11.7 15.2-17.1c8.9-9.3 17.7-17.7 26.5-25.2c12.9-11 25.8-20.3 38.6-28.4c18.4-11.5 36.8-20.5 55.2-27.9c34.2-13.8 68.4-22.1 102.6-28.1" stroke="#fff"/>
<path d="M416.8 389.3c5.1-12 10.2-22.7 15.2-32.3c8.9-16.7 17.7-30.3 26.5-41.7c12.9-16.7 25.8-28.9 38.6-38.4c18.4-13.7 36.8-22.2 55.2-28.4c34.2-11.5 68.4-15.5 102.6-18.1" stroke="#c2c"/>
<path d="M416.8 392.1c5.1-16.8 10.2-31.1 15.2-43.6c8.9-21.8 17.7-38.3 26.5-51.5c12.9-19.3 25.8-31.8 38.6-41.1c18.4-13.3 36.8-20 55.2-24.7c34.2-8.8 68.4-10.3 102.6-11.6" stroke="#93a"/>
<path d="M416.8 388.9c5.1-10.1 10.2-19.2 15.2-27.6c8.9-14.6 17.7-27 26.5-37.7c12.9-15.6 25.8-27.7 38.6-37.6c18.4-14.1 36.8-23.8 55.2-31.1c34.2-13.8 68.4-19.8 102.6-23.9" stroke="#199"/>
<path d="M416.8 393.3c5.1-15.5 10.2-28.7 15.2-40.3c8.9-20.1 17.7-35.3 26.5-47.5c12.9-17.8 25.8-29.4 38.6-37.9c18.4-12.3 36.8-18.6 55.2-22.9c34.2-8.1 68.4-9.5 102.6-10.7" stroke="#e12"/>
<path d="M416.8 389.6c5.1-3 10.2-6 15.2-8.9c8.9-5 17.7-9.9 26.5-14.7c12.9-6.9 25.8-13.5 38.6-19.8c18.4-9 36.8-17.4 55.2-25.3c34.2-14.7 68.4-27.5 102.6-39" stroke="#c2c"/>
<path d="M416.8 392.5c5.1-5.9 10.2-11.6 15.2-16.9c8.9-9.3 17.7-17.7 26.5-25.3c12.9-11.1 25.8-20.7 38.6-29.1c18.4-12 36.8-21.5 55.2-29.5c34.2-14.8 68.4-24.3 102.6-31.3" stroke="#118"/>
<path d="M416.8 390.4c5.1-16.5 10.2-30.7 15.2-43.1c8.9-21.7 17.7-38.2 26.5-51.5c12.9-19.5 25.8-32.2 38.6-41.8c18.4-13.7 36.8-20.8 55.2-25.8c34.2-9.2 68.4-11 102.6-12.4" stroke="#199"/>
<path d="M416.8 390.2c5.1-11.2 10.2-21.4 15.2-30.7c8.9-16.1 17.7-29.5 26.5-41c12.9-16.7 25.8-29.4 38.6-39.7c18.4-14.7 36.8-24.3 55.2-31.6c34.2-13.5 68.4-18.9 102.6-22.6" stroke="#e80"/>
<path d="M416.8 392.1c5.1-9.2 10.2-17.6 15.2-25.4c8.9-13.7 17.7-25.4 26.5-35.8c12.9-15.1 25.8-27.2 38.6-37.3c18.4-14.5 36.8-24.9 55.2-33.1c34.2-15.1 68.4-22.8 102.6-28" stroke="#000"/>
<path d="M416.8 389c5.1-5.3 10.2-10.3 15.2-15.1c8.9-8.3 17.7-15.8 26.5-22.6c12.9-10 25.8-18.6 38.6-26.1c18.4-10.8 36.8-19.4 55.2-26.6c34.2-13.5 68.4-22.1 102.6-28.4" stroke="#818"/>
<path d="M416.8 393.2c5.1-10.6 10.2-20.3 15.2-29c8.9-15.3 17.7-28 26.5-39c12.9-16 25.8-28.2 38.6-38c18.4-14.1 36.8-23.5 55.2-30.5c34.2-13.2 68.4-18.6 102.6-22.2" stroke="#c2c"/>
<path d="M416.8 389.9c5.1-15.4 10.2-28.9 15.2-41c8.9-21 17.7-37.5 26.5-51.1c12.9-19.8 25.8-33.6 38.6-44.2c18.4-15.1 36.8-23.8 55.2-30c34.2-11.4 68.4-14.5 102.6-16.7" stroke="#a2a"/>
<path d="M416.8 391.1c5.1-4.3 10.2-8.3 15.2-12.1c8.9-6.7 17.7-12.6 26.5-18.1c12.9-8 25.8-14.8 38.6-20.8c18.4-8.6 36.8-15.4 55.2-21.1c34.2-10.7 68.4-17.5 102.6-22.5" stroke="#a13"/>
<path d="M416.8 391.2c5.1-13.8 10.2-26 15.2-36.8c8.9-18.8 17.7-33.6 26.5-45.8c12.9-17.8 25.8-30.1 38.6-39.6c18.4-13.6 36.8-21.4 55.2-26.9c34.2-10.3 68.4-13.1 102.6-15.1" stroke="#e4a"/>
<path d="M416.8 392.8c5.1-5 10.2-9.7 15.2-14.2c8.9-7.8 17.7-14.8 26.5-21.2c12.9-9.4 25.8-17.6 38.6-24.7c18.4-10.2 36.8-18.5 55.2-25.4c34.2-12.8 68.4-21.2 102.6-27.4" stroke="#e12"/>
<path d="M416.8 389.6c5.1-4.9 10.2-9.6 15.2-14.2c8.9-7.8 17.7-15 26.5-21.7c12.9-9.7 25.8-18.3 38.6-25.9c18.4-11 36.8-20.1 55.2-27.9c34.2-14.5 68.4-24.5 102.6-32.2" stroke="#990"/>
<path d="M416.8 393.3c5.1-2.9 10.2-5.7 15.2-8.4c8.9-4.7 17.7-9.2 26.5-13.5c12.9-6.2 25.8-11.9 38.6-17.3c18.4-7.6 36.8-14.5 55.2-20.6c34.2-11.5 68.4-20.8 102.6-28.5" stroke="#23e"/>
<path d="M416.8 390.1c5.1-5.9 10.2-11.5 15.2-16.8c8.9-9.3 17.7-17.8 26.5-25.5c12.9-11.3 25.8-21.2 38.6-29.9c18.4-12.5 36.8-22.7 55.2-31.2c34.2-16 68.4-26.6 102.6-34.6" stroke="#c2c"/>
<path d="M416.8 391.9c5.1-3.1 10.2-6.1 15.2-9c8.9-5 17.7-9.7 26.5-14c12.9-6.4 25.8-12.1 38.6-17.3c18.4-7.5 36.8-13.9 55.2-19.5c34.2-10.5 68.4-18.2 102.6-24.4" stroke="#2bb"/>
<path d="M416.8 391.4c5.1-8.3 10.2-16 15.2-23.1c8.9-12.3 17.7-22.9 26.5-32.2c12.9-13.5 25.8-24.4 38.6-33.4c18.4-12.9 36.8-22.1 55.2-29.3c34.2-13.4 68.4-20 102.6-24.5" stroke="#c2c"/>
<path d="M416.8 392.9c5.1-4.5 10.2-8.8 15.2-13c8.9-7.2 17.7-13.8 26.5-20c12.9-9 25.8-17 38.6-24.2c18.4-10.3 36.8-19 55.2-26.4c34.2-13.9 68.4-23.7 102.6-31.4" stroke="#2b4"/>
<path d="M416.8 388.4c5.1-4.1 10.2-8 15.2-11.8c8.9-6.6 17.7-12.6 26.5-18.3c12.9-8.2 25.8-15.6 38.6-22.2c18.4-9.5 36.8-17.5 55.2-24.5c34.2-12.9 68.4-22.1 102.6-29.4" stroke="#e12"/>
<path d="M416.8 392.2c5.1-6.3 10.2-12.1 15.2-17.4c8.9-9.3 17.7-17.2 26.5-24.1c12.9-10.1 25.8-18 38.6-24.6c18.4-9.4 36.8-16 55.2-21.1c34.2-9.5 68.4-14 102.6-17.1" stroke="#2bb"/>
<path d="M416.8 390.3c5.1-9.1 10.2-17.3 15.2-24.6c8.9-12.8 17.7-23.2 26.5-32c12.9-12.8 25.8-22.2 38.6-29.6c18.4-10.6 36.8-17.2 55.2-22c34.2-9 68.4-12.1 102.6-14.2" stroke="#990"/>
<path d="M416.8 392.5c5.1-2.7 10.2-5.4 15.2-8c8.9-4.5 17.7-8.8 26.5-13c12.9-6.1 25.8-11.8 38.6-17.2c18.4-7.8 36.8-14.9 55.2-21.4c34.2-12.3 68.4-22.6 102.6-31.7" stroke="#118"/>
<path d="M416.8 389c5.1-3 10.2-5.9 15.2-8.7c8.9-4.9 17.7-9.6 26.5-14.1c12.9-6.6 25.8-12.7 38.6-18.4c18.4-8.3 36.8-15.7 55.2-22.5c34.2-12.7 68.4-23.2 102.6-32.1" stroke="#23e"/>
<path d="M416.8 391.9c5.1-7.4 10.2-14.2 15.2-20.4c8.9-10.9 17.7-20.1 26.5-28.2c12.9-11.8 25.8-21 38.6-28.7c18.4-10.9 36.8-18.5 55.2-24.4c34.2-11 68.4-16.1 102.6-19.6" stroke="#e12"/>
<path d="M416.8 392.1c5.1-3.6 10.2-7.1 15.2-10.4c8.9-5.9 17.7-11.5 26.5-16.8c12.9-7.8 25.8-15 38.6-21.7c18.4-9.6 36.8-18.3 55.2-26.1c34.2-14.5 68.4-26.3 102.6-36.2" stroke="#199"/>
<path d="M416.8 392.7c5.1-3.6 10.2-7.1 15.2-10.5c8.9-6 17.7-11.6 26.5-16.9c12.9-7.7 25.8-14.8 38.6-21.4c18.4-9.4 36.8-17.7 55.2-25.2c34.2-13.8 68.4-24.7 102.6-33.7" stroke="#e12"/>
<path d="M416.8 391.3c5.1-3.3 10.2-6.6 15.2-9.7c8.9-5.5 17.7-10.7 26.5-15.6c12.9-7.1 25.8-13.7 38.6-19.8c18.4-8.6 36.8-16.3 55.2-23.2c34.2-12.7 68.4-22.8 102.6-31.1" stroke="#2bb"/>
<path d="M416.8 392.5c5.1-4.5 10.2-8.8 15.2-13c8.9-7.2 17.7-13.8 26.5-20.1c12.9-9 25.8-17.1 38.6-24.4c18.4-10.5 36.8-19.4 55.2-27.1c34.2-14.3 68.4-24.6 102.6-32.8" stroke="#e12"/>
<path d="M416.8 388.2c5.1-3.1 10.2-6.1 15.2-9c8.9-5.1 17.7-9.8 26.5-14.4c12.9-6.6 25.8-12.6 38.6-18.3c18.4-8 36.8-15.1 55.2-21.5c34.2-11.9 68.4-21.3 102.6-29.1" stroke="#2bb"/>
<path d="M416.8 390.5c5.1-4.2 10.2-8.1 15.2-11.9c8.9-6.4 17.7-12.2 26.5-17.5c12.9-7.7 25.8-14.2 38.6-19.9c18.4-8.1 36.8-14.5 55.2-19.8c34.2-9.8 68.4-15.8 102.6-20.2" stroke="#2b4"/>
<path d="M416.8 392.4c5.1-13.1 10.2-24.8 15.2-35.4c8.9-18.4 17.7-33.3 26.5-45.8c12.9-18.3 25.8-31.6 38.6-42c18.4-15 36.8-24.3 55.2-31c34.2-12.6 68.4-16.8 102.6-19.7" stroke="#818"/>
<path d="M416.8 392.3c5.1-3 10.2-6 15.2-8.8c8.9-5 17.7-9.7 26.5-14.1c12.9-6.5 25.8-12.5 38.6-18c18.4-7.8 36.8-14.8 55.2-21c34.2-11.6 68.4-20.7 102.6-28.2" stroke="#2bb"/>
<path d="M416.8 390.9c5.1-6 10.2-11.7 15.2-17.1c8.9-9.4 17.7-17.9 26.5-25.7c12.9-11.3 25.8-21 38.6-29.5c18.4-12.1 36.8-21.9 55.2-30c34.2-15.1 68.4-24.7 102.6-31.8" stroke="#118"/>
<path d="M416.8 393c5.1-3.5 10.2-6.9 15.2-10.2c8.9-5.7 17.7-10.9 26.5-15.8c12.9-7.1 25.8-13.4 38.6-19.2c18.4-8.1 36.8-15 55.2-21c34.2-11.1 68.4-19 102.6-25.2" stroke="#2b4"/>
<path d="M416.8 389.9c5.1-13.3 10.2-24.9 15.2-35.2c8.9-18 17.7-32 26.5-43.5c12.9-16.9 25.8-28.5 38.6-37.3c18.4-12.7 36.8-19.8 55.2-24.9c34.2-9.4 68.4-11.8 102.6-13.5" stroke="#c2c"/>
<path d="M416.8 391c5.1-15.2 10.2-28.2 15.2-39.6c8.9-19.7 17.7-34.6 26.5-46.6c12.9-17.5 25.8-28.8 38.6-37.3c18.4-12 36.8-18.2 55.2-22.4c34.2-7.9 68.4-9.3 102.6-10.5" stroke="#e12"/>
<path d="M416.8 389.4c5.1-6.1 10.2-12 15.2-17.6c8.9-9.8 17.7-18.8 26.5-27.3c12.9-12.4 25.8-23.4 38.6-33.4c18.4-14.3 36.8-26.4 55.2-36.9c34.2-19.7 68.4-33.9 102.6-45.1" stroke="#990"/>
<path d="M416.8 390.1c5.1-3.8 10.2-7.4 15.2-10.9c8.9-6 17.7-11.6 26.5-16.8c12.9-7.7 25.8-14.5 38.6-20.7c18.4-8.9 36.8-16.4 55.2-23c34.2-12.3 68.4-21.3 102.6-28.4" stroke="#23e"/>
<path d="M416.8 393.5c5.1-12.4 10.2-23.4 15.2-33.4c8.9-17.4 17.7-31.5 26.5-43.4c12.9-17.3 25.8-30 38.6-40c18.4-14.3 36.8-23.2 55.2-29.8c34.2-12.1 68.4-16.3 102.6-19.1" stroke="#2b4"/>
<path d="M416.8 391.5c5.1-2.8 10.2-5.5 15.2-8.2c8.9-4.7 17.7-9.2 26.5-13.5c12.9-6.2 25.8-12.1 38.6-17.6c18.4-7.9 36.8-15 55.2-21.6c34.2-12.2 68.4-22.4 102.6-31.2" stroke="#818"/>
<path d="M416.8 391.4c5.1-7.5 10.2-14.5 15.2-21.2c8.9-11.5 17.7-21.8 26.5-31.1c12.9-13.5 25.8-24.9 38.6-34.7c18.4-14 36.8-24.9 55.2-33.9c34.2-16.5 68.4-26.4 102.6-33.5" stroke="#2bb"/>
<path d="M416.8 391.2c5.1-6.6 10.2-12.8 15.2-18.7c8.9-10.2 17.7-19.2 26.5-27.3c12.9-11.8 25.8-21.7 38.6-30.2c18.4-12.2 36.8-21.5 55.2-29.1c34.2-14.1 68.4-22.3 102.6-28.2" stroke="#199"/>
<path d="M416.8 389.4c5.1-4.2 10.2-8.2 15.2-12.1c8.9-6.7 17.7-12.8 26.5-18.5c12.9-8.3 25.8-15.6 38.6-22.2c18.4-9.3 36.8-17 55.2-23.7c34.2-12.3 68.4-20.8 102.6-27.3" stroke="#23e"/>
<path d="M416.8 390.6c5.1-14.4 10.2-26.9 15.2-38c8.9-19.2 17.7-34 26.5-46.1c12.9-17.6 25.8-29.5 38.6-38.5c18.4-12.8 36.8-19.7 55.2-24.6c34.2-9.1 68.4-11.2 102.6-12.7" stroke="#a13"/>
<path d="M416.8 388.5c5.1-4.9 10.2-9.5 15.2-14c8.9-7.8 17.7-15.2 26.5-22.1c12.9-10.1 25.8-19.2 38.6-27.6c18.4-12.1 36.8-22.5 55.2-31.8c34.2-17.2 68.4-30.4 102.6-41" stroke="#e80"/>
<path d="M416.8 392.3c5.1-5.1 10.2-9.9 15.2-14.5c8.9-7.9 17.7-15.2 26.5-21.8c12.9-9.7 25.8-18.1 38.6-25.5c18.4-10.6 36.8-19.2 55.2-26.4c34.2-13.5 68.4-22.4 102.6-29.1" stroke="#2bb"/>
<path d="M416.8 391.5c5.1-15.1 10.2-28.2 15.2-39.8c8.9-20.2 17.7-35.7 26.5-48.4c12.9-18.5 25.8-30.9 38.6-40.3c18.4-13.5 36.8-20.8 55.2-26c34.2-9.5 68.4-11.7 102.6-13.3" stroke="#2bb"/>
<path d="M416.8 389.3c5.1-6.3 10.2-12.3 15.2-17.8c8.9-9.7 17.7-18.3 26.5-26.1c12.9-11.3 25.8-20.9 38.6-29.1c18.4-11.8 36.8-20.9 55.2-28.3c34.2-13.8 68.4-22 102.6-28" stroke="#118"/>
<path d="M416.8 388.5c5.1-9.3 10.2-17.7 15.2-25.4c8.9-13.4 17.7-24.6 26.5-34.2c12.9-14 25.8-24.7 38.6-33.4c18.4-12.4 36.8-20.7 55.2-26.9c34.2-11.6 68.4-16.4 102.6-19.7" stroke="#23e"/>
<path d="M416.8 392.2c5.1-10.4 10.2-20 15.2-28.8c8.9-15.3 17.7-28.3 26.5-39.5c12.9-16.4 25.8-29.2 38.6-39.7c18.4-15 36.8-25.3 55.2-33.2c34.2-14.6 68.4-21.2 102.6-25.7" stroke="#2b4"/>
<path d="M416.8 392.5c5.1-12.8 10.2-24 15.2-34c8.9-17.4 17.7-31 26.5-42.2c12.9-16.3 25.8-27.6 38.6-36.3c18.4-12.4 36.8-19.4 55.2-24.4c34.2-9.3 68.4-11.7 102.6-13.4" stroke="#2b4"/>
<path d="M416.8 388.5c5.1-4.1 10.2-7.9 15.2-11.7c8.9-6.5 17.7-12.5 26.5-18.1c12.9-8.1 25.8-15.5 38.6-22.1c18.4-9.4 36.8-17.4 55.2-24.4c34.2-12.9 68.4-22.3 102.6-29.6" stroke="#82e"/>
<path d="M416.8 389.1c5.1-3.1 10.2-6 15.2-8.8c8.9-4.9 17.7-9.5 26.5-13.7c12.9-6.2 25.8-11.8 38.6-16.8c18.4-7.2 36.8-13.3 55.2-18.6c34.2-9.9 68.4-17.1 102.6-22.8" stroke="#2b4"/>
<path d="M416.8 390.1c5.1-11.3 10.2-21.4 15.2-30.6c8.9-16 17.7-29.2 26.5-40.5c12.9-16.5 25.8-28.9 38.6-38.9c18.4-14.2 36.8-23.5 55.2-30.4c34.2-12.9 68.4-17.9 102.6-21.3" stroke="#82e"/>
<path d="M416.8 390.8c5.1-8.5 10.2-16.2 15.2-23.1c8.9-12.1 17.7-22.2 26.5-30.7c12.9-12.5 25.8-21.9 38.6-29.4c18.4-10.8 36.8-17.8 55.2-23c34.2-9.7 68.4-13.5 102.6-16" stroke="#2bb"/>
<path d="M416.8 392.5c5.1-3.6 10.2-6.9 15.2-10.1c8.9-5.6 17.7-10.7 26.5-15.4c12.9-6.9 25.8-12.9 38.6-18.3c18.4-7.7 36.8-14 55.2-19.5c34.2-10 68.4-16.9 102.6-22.2" stroke="#818"/>
<path d="M416.8 392.3c5.1-7.8 10.2-15 15.2-21.7c8.9-11.6 17.7-21.7 26.5-30.7c12.9-13 25.8-23.6 38.6-32.6c18.4-12.8 36.8-22.1 55.2-29.6c34.2-13.8 68.4-21 102.6-26.1" stroke="#a13"/>
<path d="M416.8 392.5c5.1-5.8 10.2-11.2 15.2-16.2c8.9-8.7 17.7-16.3 26.5-23.1c12.9-10 25.8-18.2 38.6-25.1c18.4-9.9 36.8-17.4 55.2-23.3c34.2-11.1 68.4-17.2 102.6-21.5" stroke="#888"/>
<path d="M416.8 391.2c5.1-8.9 10.2-16.9 15.2-24.2c8.9-12.8 17.7-23.5 26.5-32.7c12.9-13.4 25.8-23.7 38.6-32.1c18.4-11.9 36.8-19.9 55.2-25.9c34.2-11.3 68.4-16 102.6-19.2" stroke="#e12"/>
<path d="M416.8 389.2c5.1-4.6 10.2-8.9 15.2-13.1c8.9-7.3 17.7-14 26.5-20.3c12.9-9.1 25.8-17.2 38.6-24.6c18.4-10.4 36.8-19.3 55.2-27c34.2-14.2 68.4-24.5 102.6-32.5" stroke="#2b4"/>
<path d="M416.8 391.9c5.1-7.8 10.2-15 15.2-21.7c8.9-11.8 17.7-22 26.5-31c12.9-13.2 25.8-23.9 38.6-32.9c18.4-13 36.8-22.5 55.2-30c34.2-14 68.4-21.4 102.6-26.5" stroke="#c2c"/>
<path d="M416.8 392.8c5.1-10 10.2-19 15.2-27.1c8.9-14.1 17.7-25.6 26.5-35.3c12.9-14.3 25.8-24.7 38.6-33c18.4-11.9 36.8-19.4 55.2-24.9c34.2-10.2 68.4-13.9 102.6-16.3" stroke="#e12"/>
<path d="M416.8 390.9c5.1-3 10.2-6 15.2-8.8c8.9-5 17.7-9.7 26.5-14.2c12.9-6.6 25.8-12.7 38.6-18.4c18.4-8.1 36.8-15.4 55.2-22c34.2-12.4 68.4-22.4 102.6-30.8" stroke="#23e"/>
<path d="M416.8 388.5c5.1-8.7 10.2-16.7 15.2-24.2c8.9-13 17.7-24.3 26.5-34.2c12.9-14.5 25.8-26.3 38.6-36.1c18.4-14 36.8-24.3 55.2-32.3c34.2-15 68.4-22.7 102.6-28" stroke="#e12"/>
<path d="M416.8 392.1c5.1-3.1 10.2-6 15.2-8.9c8.9-4.9 17.7-9.6 26.5-13.9c12.9-6.4 25.8-12.2 38.6-17.5c18.4-7.6 36.8-14.2 55.2-20.1c34.2-10.8 68.4-19.1 102.6-25.8" stroke="#c2c"/>
<path d="M416.8 391.8c5.1-2.7 10.2-5.2 15.2-7.6c8.9-4.3 17.7-8.3 26.5-12.2c12.9-5.6 25.8-10.7 38.6-15.5c18.4-6.8 36.8-12.8 55.2-18.2c34.2-10.1 68.4-18.1 102.6-24.7" stroke="#888"/>
<path d="M416.8 388.3c5.1-2.7 10.2-5.4 15.2-7.9c8.9-4.5 17.7-8.8 26.5-12.8c12.9-5.9 25.8-11.3 38.6-16.4c18.4-7.2 36.8-13.6 55.2-19.4c34.2-10.8 68.4-19.4 102.6-26.5" stroke="#2b4"/>
<path d="M416.8 390.9c5.1-5.1 10.2-9.9 15.2-14.6c8.9-8.1 17.7-15.6 26.5-22.8c12.9-10.4 25.8-19.8 38.6-28.3c18.4-12.3 36.8-23 55.2-32.3c34.2-17.4 68.4-30.6 102.6-41.1" stroke="#e12"/>
<path d="M416.8 388.6c5.1-5.4 10.2-10.5 15.2-15.2c8.9-8.2 17.7-15.5 26.5-22.1c12.9-9.5 25.8-17.5 38.6-24.4c18.4-9.8 36.8-17.3 55.2-23.3c34.2-11.4 68.4-17.9 102.6-22.6" stroke="#118"/>
<path d="M416.8 390.6c5.1-14.3 10.2-26.6 15.2-37.4c8.9-18.8 17.7-33 26.5-44.4c12.9-16.7 25.8-27.5 38.6-35.6c18.4-11.6 36.8-17.6 55.2-21.7c34.2-7.7 68.4-9.1 102.6-10.2" stroke="#fff"/>
<path d="M416.8 393.3c5.1-10.6 10.2-19.8 15.2-28.1c8.9-14.4 17.7-25.7 26.5-35c12.9-13.6 25.8-23.1 38.6-30.4c18.4-10.4 36.8-16.4 55.2-20.6c34.2-7.9 68.4-10.1 102.6-11.6" stroke="#990"/>
<path d="M416.8 388.8c5.1-6.1 10.2-11.8 15.2-17.2c8.9-9.5 17.7-18 26.5-25.8c12.9-11.3 25.8-21.1 38.6-29.7c18.4-12.2 36.8-22.1 55.2-30.3c34.2-15.2 68.4-25 102.6-32.2" stroke="#2b4"/>
<path d="M416.8 391.1c5.1-5.3 10.2-10.3 15.2-15c8.9-8.1 17.7-15.3 26.5-21.8c12.9-9.5 25.8-17.5 38.6-24.4c18.4-9.8 36.8-17.5 55.2-23.7c34.2-11.5 68.4-18.4 102.6-23.3" stroke="#e12"/>
<path d="M416.8 390.8c5.1-4.2 10.2-8.2 15.2-11.9c8.9-6.6 17.7-12.5 26.5-17.9c12.9-7.9 25.8-14.7 38.6-20.6c18.4-8.5 36.8-15.4 55.2-21c34.2-10.6 68.4-17.3 102.6-22.3" stroke="#199"/>
<path d="M416.8 392.2c5.1-15 10.2-28.3 15.2-40.2c8.9-20.7 17.7-37.3 26.5-51.1c12.9-20.2 25.8-34.7 38.6-45.9c18.4-16 36.8-25.7 55.2-32.6c34.2-12.9 68.4-16.9 102.6-19.6" stroke="#818"/>
<path d="M416.8 390.2c5.1-15.8 10.2-29.2 15.2-41c8.9-20.6 17.7-36.1 26.5-48.5c12.9-18.2 25.8-29.9 38.6-38.7c18.4-12.5 36.8-18.9 55.2-23.3c34.2-8.2 68.4-9.7 102.6-10.9" stroke="#2b4"/>
<path d="M416.8 391.3c5.1-4.2 10.2-8.3 15.2-12.2c8.9-6.8 17.7-13 26.5-18.9c12.9-8.5 25.8-16.1 38.6-22.9c18.4-9.8 36.8-18.1 55.2-25.2c34.2-13.3 68.4-22.9 102.6-30.4" stroke="#e80"/>
<path d="M416.8 390.5c5.1-3.3 10.2-6.4 15.2-9.5c8.9-5.3 17.7-10.4 26.5-15.1c12.9-7 25.8-13.5 38.6-19.5c18.4-8.5 36.8-16.2 55.2-23.1c34.2-12.8 68.4-23 102.6-31.5" stroke="#000"/>
<path d="M416.8 390c5.1-3.6 10.2-7.1 15.2-10.4c8.9-5.8 17.7-11.3 26.5-16.4c12.9-7.5 25.8-14.4 38.6-20.7c18.4-9.1 36.8-17 55.2-24c34.2-13.1 68.4-23.2 102.6-31.5" stroke="#2b4"/>
<path d="M416.8 393.4c5.1-4.6 10.2-8.9 15.2-13.2c8.9-7.3 17.7-14.2 26.5-20.6c12.9-9.4 25.8-17.9 38.6-25.7c18.4-11.1 36.8-20.7 55.2-29.2c34.2-15.8 68.4-27.7 102.6-37.2" stroke="#118"/>
<path d="M416.8 389.2c5.1-2.8 10.2-5.4 15.2-8c8.9-4.5 17.7-8.7 26.5-12.6c12.9-5.7 25.8-10.9 38.6-15.6c18.4-6.7 36.8-12.6 55.2-17.7c34.2-9.5 68.4-16.6 102.6-22.3" stroke="#a13"/>
<path d="M416.8 390.3c5.1-3.7 10.2-7.3 15.2-10.8c8.9-6.1 17.7-11.7 26.5-17c12.9-7.7 25.8-14.6 38.6-20.9c18.4-9.1 36.8-16.8 55.2-23.7c34.2-12.7 68.4-22.1 102.6-29.7" stroke="#23e"/>
<path d="M416.8 389.4c5.1-7.7 10.2-14.8 15.2-21.4c8.9-11.4 17.7-21.4 26.5-30.1c12.9-12.9 25.8-23.2 38.6-31.9c18.4-12.5 36.8-21.6 55.2-28.7c34.2-13.3 68.4-20.2 102.6-25" stroke="#c2c"/>
<path d="M416.8 388.3c5.1-5 10.2-9.8 15.2-14.3c8.9-7.8 17.7-15 26.5-21.6c12.9-9.6 25.8-18 38.6-25.5c18.4-10.7 36.8-19.4 55.2-26.9c34.2-13.8 68.4-23.1 102.6-30.1" stroke="#23e"/>
<path d="M416.8 390.6c5.1-4.6 10.2-8.9 15.2-13c8.9-7.2 17.7-13.9 26.5-20.1c12.9-9 25.8-17 38.6-24.3c18.4-10.3 36.8-19.1 55.2-26.6c34.2-14.1 68.4-24.2 102.6-32" stroke="#2bb"/>
<path d="M416.8 390.5c5.1-5 10.2-9.5 15.2-13.9c8.9-7.5 17.7-14.1 26.5-20.1c12.9-8.7 25.8-16 38.6-22.3c18.4-9 36.8-15.9 55.2-21.5c34.2-10.4 68.4-16.5 102.6-20.8" stroke="#2b4"/>
<path d="M416.8 389.1c5.1-10 10.2-18.8 15.2-26.8c8.9-13.8 17.7-24.9 26.5-34.2c12.9-13.5 25.8-23.2 38.6-30.7c18.4-10.8 36.8-17.3 55.2-22c34.2-8.8 68.4-11.6 102.6-13.4" stroke="#990"/>
<path d="M416.8 388.9c5.1-10.1 10.2-19.3 15.2-27.9c8.9-14.8 17.7-27.3 26.5-38.2c12.9-16 25.8-28.4 38.6-38.6c18.4-14.6 36.8-24.7 55.2-32.4c34.2-14.4 68.4-20.9 102.6-25.3" stroke="#c2c"/>
<path d="M416.8 389.8c5.1-8.6 10.2-16.5 15.2-23.8c8.9-12.5 17.7-23.1 26.5-32.3c12.9-13.3 25.8-23.6 38.6-31.9c18.4-12 36.8-20.1 55.2-26.3c34.2-11.4 68.4-16.4 102.6-19.7" stroke="#82e"/>
<path d="M416.8 391.1c5.1-18.2 10.2-33.6 15.2-47.1c8.9-23.4 17.7-40.7 26.5-54.5c12.9-20.2 25.8-32.8 38.6-42.2c18.4-13.3 36.8-19.8 55.2-24.2c34.2-8.3 68.4-9.5 102.6-10.6" stroke="#23e"/>
<path d="M416.8 389.1c5.1-5.5 10.2-10.7 15.2-15.6c8.9-8.6 17.7-16.4 26.5-23.7c12.9-10.5 25.8-19.6 38.6-27.8c18.4-11.6 36.8-21.1 55.2-29.2c34.2-15 68.4-25 102.6-32.6" stroke="#46e"/>
<path d="M416.8 388.2c5.1-3.3 10.2-6.5 15.2-9.6c8.9-5.4 17.7-10.5 26.5-15.2c12.9-6.9 25.8-13.2 38.6-18.9c18.4-8.1 36.8-15.1 55.2-21.3c34.2-11.5 68.4-20.2 102.6-27.1" stroke="#818"/>
<path d="M416.8 389.7c5.1-10.4 10.2-20 15.2-28.7c8.9-15.3 17.7-28.3 26.5-39.6c12.9-16.6 25.8-29.6 38.6-40.3c18.4-15.2 36.8-25.9 55.2-34.1c34.2-15.3 68.4-22.4 102.6-27.2" stroke="#000"/>
<path d="M416.8 389.7c5.1-2.2 10.2-4.4 15.2-6.5c8.9-3.6 17.7-7 26.5-10.3c12.9-4.7 25.8-9.1 38.6-13.2c18.4-5.9 36.8-11.2 55.2-15.9c34.2-8.9 68.4-16.1 102.6-22.1" stroke="#e80"/>
<path d="M416.8 389.2c5.1-14.2 10.2-26.6 15.2-37.6c8.9-19.1 17.7-34 26.5-46.2c12.9-17.7 25.8-29.9 38.6-39.1c18.4-13.2 36.8-20.6 55.2-25.7c34.2-9.7 68.4-12 102.6-13.7" stroke="#2b4"/>
<path d="M416.8 390.5c5.1-6.1 10.2-11.7 15.2-17.1c8.9-9.3 17.7-17.6 26.5-25.1c12.9-11 25.8-20.2 38.6-28.2c18.4-11.5 36.8-20.4 55.2-27.6c34.2-13.6 68.4-21.7 102.6-27.6" stroke="#199"/>
<path d="M416.8 389.7c5.1-11.5 10.2-21.8 15.2-31.1c8.9-16.3 17.7-29.7 26.5-41.2c12.9-16.7 25.8-29.3 38.6-39.3c18.4-14.4 36.8-23.7 55.2-30.7c34.2-12.9 68.4-17.9 102.6-21.3" stroke="#2b4"/>
<path d="M416.8 389.6c5.1-2.1 10.2-4.2 15.2-6.2c8.9-3.5 17.7-6.8 26.5-10c12.9-4.7 25.8-9.1 38.6-13.1c18.4-5.9 36.8-11.2 55.2-16c34.2-9.1 68.4-16.5 102.6-22.9" stroke="#2b4"/>
<path d="M416.8 390.4c5.1-9.5 10.2-18.3 15.2-26.5c8.9-14.1 17.7-26.4 26.5-37.1c12.9-15.7 25.8-28.3 38.6-38.8c18.4-15 36.8-25.8 55.2-34.3c34.2-15.7 68.4-23.5 102.6-28.9" stroke="#c2c"/>
<path d="M416.8 392.7c5.1-4.2 10.2-8.3 15.2-12.2c8.9-6.7 17.7-12.9 26.5-18.8c12.9-8.4 25.8-16 38.6-22.8c18.4-9.8 36.8-18 55.2-25.2c34.2-13.3 68.4-22.8 102.6-30.3" stroke="#199"/>
<path d="M416.8 388.2c5.1-12 10.2-22.5 15.2-31.9c8.9-16.4 17.7-29.4 26.5-40.2c12.9-15.7 25.8-26.8 38.6-35.3c18.4-12.2 36.8-19.3 55.2-24.4c34.2-9.5 68.4-12.3 102.6-14.2" stroke="#818"/>
<path d="M416.8 390.1c5.1-5.1 10.2-9.9 15.2-14.4c8.9-7.8 17.7-14.8 26.5-21.2c12.9-9.2 25.8-17 38.6-23.8c18.4-9.6 36.8-17.1 55.2-23.3c34.2-11.5 68.4-18.4 102.6-23.5" stroke="#818"/>
<path d="M416.8 392.3c5.1-10.3 10.2-19.6 15.2-28.1c8.9-14.7 17.7-27.1 26.5-37.7c12.9-15.4 25.8-27.2 38.6-36.7c18.4-13.6 36.8-22.6 55.2-29.4c34.2-12.7 68.4-17.8 102.6-21.3" stroke="#2b4"/>
<path d="M416.8 391.5c5.1-4.5 10.2-8.8 15.2-12.9c8.9-7.3 17.7-14.1 26.5-20.5c12.9-9.4 25.8-18.1 38.6-26c18.4-11.4 36.8-21.4 55.2-30.3c34.2-16.7 68.4-29.7 102.6-40.4" stroke="#990"/>
<path d="M416.8 389.4c5.1-3.7 10.2-7.3 15.2-10.7c8.9-6.1 17.7-11.7 26.5-17.1c12.9-7.8 25.8-14.9 38.6-21.4c18.4-9.4 36.8-17.6 55.2-24.8c34.2-13.6 68.4-24 102.6-32.5" stroke="#23e"/>
<path d="M416.8 390.1c5.1-7.3 10.2-14 15.2-20.3c8.9-10.9 17.7-20.6 26.5-29.3c12.9-12.6 25.8-23 38.6-32c18.4-12.7 36.8-22.4 55.2-30.2c34.2-14.5 68.4-22.7 102.6-28.5" stroke="#990"/>
<path d="M416.8 392.4c5.1-10.9 10.2-20.7 15.2-29.4c8.9-15.2 17.7-27.5 26.5-37.8c12.9-15.1 25.8-25.9 38.6-34.4c18.4-12.1 36.8-19.6 55.2-24.9c34.2-10.1 68.4-13.3 102.6-15.5" stroke="#2b4"/>
<path d="M416.8 392.3c5.1-3.7 10.2-7.4 15.2-10.9c8.9-6.2 17.7-11.9 26.5-17.4c12.9-7.9 25.8-15.1 38.6-21.8c18.4-9.5 36.8-17.8 55.2-25.2c34.2-13.8 68.4-24.4 102.6-33.1" stroke="#818"/>
<path d="M416.8 390.6c5.1-6.4 10.2-12.3 15.2-17.9c8.9-9.6 17.7-18.1 26.5-25.7c12.9-11.1 25.8-20.2 38.6-28c18.4-11.1 36.8-19.5 55.2-26.3c34.2-12.5 68.4-19.5 102.6-24.5" stroke="#990"/>
<path d="M416.8 389.3c5.1-3.7 10.2-7.2 15.2-10.6c8.9-6 17.7-11.7 26.5-17.1c12.9-7.9 25.8-15.2 38.6-22.1c18.4-9.7 36.8-18.5 55.2-26.5c34.2-14.8 68.4-26.8 102.6-37" stroke="#2b4"/>
<path d="M416.8 393.1c5.1-15 10.2-28 15.2-39.5c8.9-19.9 17.7-35.2 26.5-47.7c12.9-18.1 25.8-30.2 38.6-39.4c18.4-13.1 36.8-20.1 55.2-25c34.2-9.2 68.4-11.2 102.6-12.7" stroke="#2bb"/>
<path d="M416.8 389.3c5.1-7 10.2-13.5 15.2-19.4c8.9-10.4 17.7-19.2 26.5-27c12.9-11.3 25.8-20.3 38.6-27.8c18.4-10.6 36.8-18.1 55.2-24c34.2-10.8 68.4-16.1 102.6-19.6" stroke="#118"/>
<path d="M416.8 391.7c5.1-9.4 10.2-17.8 15.2-25.3c8.9-13.1 17.7-23.7 26.5-32.6c12.9-12.9 25.8-22.2 38.6-29.5c18.4-10.4 36.8-16.8 55.2-21.4c34.2-8.6 68.4-11.4 102.6-13.3" stroke="#888"/>
<path d="M416.8 391c5.1-6.5 10.2-12.5 15.2-18.3c8.9-9.9 17.7-18.7 26.5-26.6c12.9-11.6 25.8-21.4 38.6-29.8c18.4-12 36.8-21.2 55.2-28.8c34.2-14.1 68.4-22.4 102.6-28.4" stroke="#23e"/>
<path d="M416.8 393.2c5.1-14.9 10.2-27.6 15.2-38.8c8.9-19.4 17.7-34 26.5-45.8c12.9-17.1 25.8-28.2 38.6-36.5c18.4-11.8 36.8-17.9 55.2-22.1c34.2-7.7 68.4-9.1 102.6-10.3" stroke="#c2c"/>
<path d="M416.8 389.2c5.1-3.1 10.2-6 15.2-8.8c8.9-4.8 17.7-9.2 26.5-13.2c12.9-5.8 25.8-10.8 38.6-15.2c18.4-6.3 36.8-11.4 55.2-15.6c34.2-7.8 68.4-12.9 102.6-16.6" stroke="#000"/>
<path d="M416.8 391.3c5.1-4.9 10.2-9.6 15.2-14c8.9-7.8 17.7-14.8 26.5-21.2c12.9-9.3 25.8-17.4 38.6-24.5c18.4-10.2 36.8-18.4 55.2-25.3c34.2-12.9 68.4-21.2 102.6-27.5" stroke="#199"/>
<path d="M416.8 388.2c5.1-6.7 10.2-13 15.2-18.9c8.9-10.4 17.7-19.8 26.5-28.3c12.9-12.4 25.8-23 38.6-32.3c18.4-13.3 36.8-23.9 55.2-32.8c34.2-16.4 68.4-26.8 102.6-34.4" stroke="#c2c"/>
<path d="M416.8 390.6c5.1-11.9 10.2-22.5 15.2-32.1c8.9-16.7 17.7-30.2 26.5-41.6c12.9-16.6 25.8-28.7 38.6-38.2c18.4-13.7 36.8-22.1 55.2-28.2c34.2-11.5 68.4-15.4 102.6-18" stroke="#e12"/>
<path d="M416.8 391.1c5.1-13.3 10.2-25 15.2-35.5c8.9-18.1 17.7-32.5 26.5-44.4c12.9-17.4 25.8-29.5 38.6-38.9c18.4-13.4 36.8-21.2 55.2-26.8c34.2-10.3 68.4-13.2 102.6-15.3" stroke="#2bb"/>
<path d="M416.8 390.6c5.1-6.6 10.2-12.8 15.2-18.6c8.9-10.3 17.7-19.4 26.5-27.8c12.9-12.2 25.8-22.6 38.6-31.7c18.4-12.9 36.8-23.2 55.2-31.8c34.2-15.9 68.4-25.8 102.6-33.1" stroke="#2b4"/>
<path d="M416.8 390.1c5.1-5.4 10.2-10.5 15.2-15.2c8.9-8.4 17.7-15.8 26.5-22.5c12.9-9.7 25.8-17.9 38.6-25c18.4-10.2 36.8-18.1 55.2-24.5c34.2-12 68.4-19.2 102.6-24.3" stroke="#e12"/>
<path d="M416.8 392.8c5.1-12.8 10.2-23.9 15.2-33.5c8.9-16.9 17.7-29.6 26.5-39.9c12.9-14.9 25.8-24.7 38.6-32c18.4-10.4 36.8-15.7 55.2-19.4c34.2-7 68.4-8.2 102.6-9.3" stroke="#990"/>
<path d="M416.8 389.4c5.1-5.4 10.2-10.5 15.2-15.3c8.9-8.3 17.7-15.9 26.5-22.7c12.9-10 25.8-18.6 38.6-26.1c18.4-10.8 36.8-19.3 55.2-26.5c34.2-13.2 68.4-21.6 102.6-27.8" stroke="#23e"/>
<path d="M416.8 389.9c5.1-5.1 10.2-9.9 15.2-14.7c8.9-8.2 17.7-15.9 26.5-23.3c12.9-10.6 25.8-20.4 38.6-29.5c18.4-12.9 36.8-24.3 55.2-34.4c34.2-18.9 68.4-33.7 102.6-45.8" stroke="#888"/>
<path d="M416.8 389c5.1-15.5 10.2-28.9 15.2-40.7c8.9-20.5 17.7-36.3 26.5-49.1c12.9-18.7 25.8-31.1 38.6-40.5c18.4-13.4 36.8-20.6 55.2-25.6c34.2-9.4 68.4-11.4 102.6-12.9" stroke="#93a"/>
<path d="M416.8 390.4c5.1-5.3 10.2-10.3 15.2-14.9c8.9-8.1 17.7-15.2 26.5-21.6c12.9-9.3 25.8-16.9 38.6-23.4c18.4-9.4 36.8-16.4 55.2-22c34.2-10.5 68.4-16.3 102.6-20.5" stroke="#c2c"/>
<path d="M416.8 390.7c5.1-3.3 10.2-6.6 15.2-9.7c8.9-5.5 17.7-10.6 26.5-15.5c12.9-7.1 25.8-13.6 38.6-19.6c18.4-8.6 36.8-16.1 55.2-22.8c34.2-12.5 68.4-22.3 102.6-30.3" stroke="#199"/>
<path d="M416.8 391.3c5.1-5.7 10.2-11.1 15.2-16c8.9-8.7 17.7-16.2 26.5-23c12.9-9.8 25.8-17.8 38.6-24.6c18.4-9.8 36.8-17 55.2-22.8c34.2-10.7 68.4-16.5 102.6-20.6" stroke="#23e"/>
<path d="M416.8 391.8c5.1-6.5 10.2-12.7 15.2-18.5c8.9-10.2 17.7-19.5 26.5-27.9c12.9-12.4 25.8-23.2 38.6-32.7c18.4-13.6 36.8-24.6 55.2-34c34.2-17.3 68.4-28.7 102.6-37.3" stroke="#118"/>
<path d="M416.8 390.6c5.1-7.1 10.2-13.8 15.2-20.1c8.9-11 17.7-20.9 26.5-29.8c12.9-13.1 25.8-24.2 38.6-33.9c18.4-13.9 36.8-24.9 55.2-33.9c34.2-16.9 68.4-27.4 102.6-35" stroke="#818"/>
<path d="M416.8 392.3c5.1-7.7 10.2-14.8 15.2-21.3c8.9-11.2 17.7-20.9 26.5-29.3c12.9-12.3 25.8-22.1 38.6-30.1c18.4-11.5 36.8-19.6 55.2-25.8c34.2-11.7 68.4-17.2 102.6-21" stroke="#46e"/>
<path d="M416.8 390c5.1-7.5 10.2-14.6 15.2-21.2c8.9-11.5 17.7-21.8 26.5-31.1c12.9-13.6 25.8-25 38.6-34.9c18.4-14.1 36.8-25.1 55.2-34.1c34.2-16.7 68.4-26.7 102.6-33.9" stroke="#e12"/>
<path d="M416.8 391.3c5.1-9 10.2-17.3 15.2-24.9c8.9-13.3 17.7-24.8 26.5-34.8c12.9-14.6 25.8-26.2 38.6-35.9c18.4-13.8 36.8-23.6 55.2-31.3c34.2-14.2 68.4-21.1 102.6-25.9" stroke="#2b4"/>
<path d="M416.8 391.3c5.1-4.2 10.2-8.3 15.2-12.2c8.9-6.8 17.7-13.1 26.5-19c12.9-8.6 25.8-16.4 38.6-23.5c18.4-10.1 36.8-18.8 55.2-26.5c34.2-14.1 68.4-24.7 102.6-33.1" stroke="#2bb"/>
<path d="M416.8 390.6c5.1-4.2 10.2-8.2 15.2-12c8.9-6.5 17.7-12.5 26.5-18c12.9-8.1 25.8-15 38.6-21.2c18.4-8.8 36.8-16 55.2-22c34.2-11.3 68.4-18.7 102.6-24.3" stroke="#818"/>
<path d="M416.8 392.4c5.1-4.3 10.2-8.3 15.2-12.1c8.9-6.6 17.7-12.6 26.5-18.1c12.9-8.1 25.8-15 38.6-21.1c18.4-8.7 36.8-15.7 55.2-21.6c34.2-11 68.4-18.1 102.6-23.4" stroke="#e80"/>
<path d="M416.8 389.1c5.1-7.2 10.2-13.9 15.2-20.3c8.9-11.1 17.7-21.1 26.5-30.2c12.9-13.2 25.8-24.5 38.6-34.3c18.4-14 36.8-25.1 55.2-34.3c34.2-17.1 68.4-27.7 102.6-35.4" stroke="#199"/>
<path d="M416.8 390.8c5.1-13.4 10.2-25 15.2-35.3c8.9-17.9 17.7-31.7 26.5-43c12.9-16.4 25.8-27.5 38.6-35.9c18.4-12 36.8-18.6 55.2-23.2c34.2-8.6 68.4-10.6 102.6-12" stroke="#2b4"/>
<path d="M416.8 390.8c5.1-7.1 10.2-13.9 15.2-20.3c8.9-11.1 17.7-21.1 26.5-30.3c12.9-13.3 25.8-24.7 38.6-34.6c18.4-14.3 36.8-25.6 55.2-35c34.2-17.5 68.4-28.6 102.6-36.7" stroke="#46e"/>
<path d="M416.8 388.8c5.1-6.9 10.2-13.2 15.2-19.1c8.9-10.3 17.7-19.3 26.5-27.3c12.9-11.7 25.8-21.3 38.6-29.4c18.4-11.6 36.8-20.2 55.2-27.1c34.2-12.8 68.4-19.8 102.6-24.6" stroke="#e80"/>
<path d="M416.8 388.7c5.1-4 10.2-7.8 15.2-11.5c8.9-6.4 17.7-12.5 26.5-18.2c12.9-8.3 25.8-15.9 38.6-22.9c18.4-9.9 36.8-18.7 55.2-26.5c34.2-14.5 68.4-25.8 102.6-34.9" stroke="#46e"/>
<path d="M416.8 391.8c5.1-8.5 10.2-16.4 15.2-23.7c8.9-12.8 17.7-23.8 26.5-33.5c12.9-14.2 25.8-25.6 38.6-35.2c18.4-13.6 36.8-23.5 55.2-31.3c34.2-14.5 68.4-21.9 102.6-27" stroke="#82e"/>
<path d="M416.8 390.5c5.1-8.2 10.2-15.8 15.2-22.9c8.9-12.2 17.7-22.7 26.5-31.9c12.9-13.4 25.8-24 38.6-32.9c18.4-12.7 36.8-21.7 55.2-28.8c34.2-13 68.4-19.4 102.6-23.8" stroke="#2b4"/>
<path d="M416.8 392c5.1-11.9 10.2-22.5 15.2-32.2c8.9-16.9 17.7-30.8 26.5-42.6c12.9-17.2 25.8-30.1 38.6-40.4c18.4-14.6 36.8-24.1 55.2-31.1c34.2-13.1 68.4-18 102.6-21.3" stroke="#118"/>
<path d="M416.8 391.2c5.1-6.4 10.2-12.5 15.2-18.2c8.9-10 17.7-18.9 26.5-26.9c12.9-11.8 25.8-21.7 38.6-30.3c18.4-12.3 36.8-21.9 55.2-29.8c34.2-14.7 68.4-23.6 102.6-30.1" stroke="#2bb"/>
<path d="M416.8 392.2c5.1-6.3 10.2-12.3 15.2-17.9c8.9-9.9 17.7-18.9 26.5-27.2c12.9-12 25.8-22.5 38.6-31.7c18.4-13.2 36.8-24 55.2-33.1c34.2-16.9 68.4-28.1 102.6-36.5" stroke="#e12"/>
<path d="M416.8 393.1c5.1-5.3 10.2-10.3 15.2-15.1c8.9-8.4 17.7-16 26.5-23.1c12.9-10.2 25.8-19.2 38.6-27.2c18.4-11.5 36.8-20.9 55.2-28.9c34.2-14.9 68.4-25 102.6-32.6" stroke="#2bb"/>
<path d="M416.8 393.1c5.1-2.4 10.2-4.7 15.2-6.9c8.9-4 17.7-7.7 26.5-11.2c12.9-5.2 25.8-10 38.6-14.5c18.4-6.4 36.8-12.2 55.2-17.4c34.2-9.7 68.4-17.6 102.6-24.3" stroke="#118"/>
<path d="M416.8 388.6c5.1-3.3 10.2-6.4 15.2-9.4c8.9-5.1 17.7-9.6 26.5-13.7c12.9-5.9 25.8-10.9 38.6-15.1c18.4-6.1 36.8-10.8 55.2-14.6c34.2-7.1 68.4-11.3 102.6-14.2" stroke="#199"/>
<path d="M416.8 389.8c5.1-11.2 10.2-21.3 15.2-30.4c8.9-15.9 17.7-29 26.5-40.1c12.9-16.3 25.8-28.4 38.6-38.1c18.4-13.9 36.8-22.9 55.2-29.5c34.2-12.4 68.4-17.1 102.6-20.3" stroke="#2b4"/>
<path d="M416.8 390.9c5.1-6.4 10.2-12.4 15.2-18.1c8.9-9.9 17.7-18.8 26.5-26.9c12.9-11.9 25.8-22 38.6-30.8c18.4-12.7 36.8-22.7 55.2-31.1c34.2-15.5 68.4-25.2 102.6-32.4" stroke="#2bb"/>
<path d="M416.8 391c5.1-11.1 10.2-20.9 15.2-29.7c8.9-15.4 17.7-27.9 26.5-38.3c12.9-15.3 25.8-26.4 38.6-35c18.4-12.5 36.8-20.1 55.2-25.7c34.2-10.3 68.4-13.8 102.6-16.1" stroke="#000"/>
<path d="M416.8 391.2c5.1-11.8 10.2-22.3 15.2-31.8c8.9-16.6 17.7-30 26.5-41.3c12.9-16.4 25.8-28.4 38.6-37.9c18.4-13.5 36.8-21.9 55.2-28c34.2-11.4 68.4-15.3 102.6-17.9" stroke="#2b4"/>
<path d="M416.8 388.4c5.1-3.8 10.2-7.4 15.2-10.8c8.9-6 17.7-11.3 26.5-16.2c12.9-7.1 25.8-13.2 38.6-18.6c18.4-7.7 36.8-13.8 55.2-18.9c34.2-9.5 68.4-15.5 102.6-20" stroke="#46e"/>
<path d="M416.8 389.8c5.1-5.7 10.2-11.1 15.2-16.2c8.9-8.9 17.7-17 26.5-24.3c12.9-10.7 25.8-19.9 38.6-27.9c18.4-11.5 36.8-20.8 55.2-28.4c34.2-14.3 68.4-23.5 102.6-30.2" stroke="#23e"/>
<path d="M416.8 391.9c5.1-6.9 10.2-13.3 15.2-19.4c8.9-10.5 17.7-20 26.5-28.6c12.9-12.5 25.8-23.2 38.6-32.4c18.4-13.3 36.8-23.8 55.2-32.4c34.2-16.1 68.4-26 102.6-33.3" stroke="#23e"/>
<path d="M416.8 390.9c5.1-5.3 10.2-10.3 15.2-15.1c8.9-8.2 17.7-15.7 26.5-22.6c12.9-10 25.8-18.7 38.6-26.3c18.4-10.8 36.8-19.6 55.2-27c34.2-13.7 68.4-22.6 102.6-29.2" stroke="#a13"/>
<path d="M416.8 389.7c5.1-3.2 10.2-6.4 15.2-9.5c8.9-5.4 17.7-10.6 26.5-15.5c12.9-7.2 25.8-13.9 38.6-20.2c18.4-8.9 36.8-17.1 55.2-24.5c34.2-13.8 68.4-25.2 102.6-34.9" stroke="#c2c"/>
<path d="M416.8 388.4c5.1-14.9 10.2-27.9 15.2-39.3c8.9-19.8 17.7-35 26.5-47.3c12.9-18 25.8-29.9 38.6-38.9c18.4-12.8 36.8-19.6 55.2-24.4c34.2-8.9 68.4-10.8 102.6-12.2" stroke="#e12"/>
<path d="M416.8 390.6c5.1-3.1 10.2-6.1 15.2-9.1c8.9-5.1 17.7-10.1 26.5-14.8c12.9-7 25.8-13.5 38.6-19.6c18.4-8.8 36.8-16.9 55.2-24.3c34.2-13.8 68.4-25.4 102.6-35.5" stroke="#199"/>
<path d="M416.8 391.1c5.1-6.7 10.2-12.9 15.2-18.8c8.9-10.3 17.7-19.5 26.5-27.9c12.9-12.2 25.8-22.5 38.6-31.5c18.4-12.9 36.8-23 55.2-31.3c34.2-15.5 68.4-25.1 102.6-32" stroke="#e12"/>
<path d="M416.8 390.9c5.1-12.1 10.2-22.9 15.2-32.7c8.9-17 17.7-30.9 26.5-42.6c12.9-17.1 25.8-29.7 38.6-39.6c18.4-14.3 36.8-23.2 55.2-29.8c34.2-12.2 68.4-16.5 102.6-19.4" stroke="#23e"/>
<path d="M416.8 388.7c5.1-4.8 10.2-9.2 15.2-13.3c8.9-7.1 17.7-13.3 26.5-18.9c12.9-8 25.8-14.5 38.6-20c18.4-7.9 36.8-13.7 55.2-18.3c34.2-8.5 68.4-13 102.6-16.1" stroke="#e12"/>
<path d="M416.8 388.5c5.1-20.4 10.2-37.7 15.2-52.6c8.9-25.9 17.7-44.9 26.5-59.8c12.9-21.9 25.8-35.3 38.6-45.1c18.4-14 36.8-20.6 55.2-25c34.2-8.3 68.4-9.3 102.6-10.3" stroke="#a2a"/>
<path d="M416.8 390.8c5.1-2.8 10.2-5.5 15.2-8.2c8.9-4.7 17.7-9.2 26.5-13.6c12.9-6.3 25.8-12.3 38.6-18c18.4-8.1 36.8-15.5 55.2-22.5c34.2-12.9 68.4-23.9 102.6-33.5" stroke="#2b4"/>
<path d="M416.8 388.3c5.1-6.4 10.2-12.3 15.2-17.9c8.9-9.7 17.7-18.2 26.5-25.8c12.9-11.1 25.8-20.2 38.6-28c18.4-11.1 36.8-19.5 55.2-26.2c34.2-12.4 68.4-19.4 102.6-24.2" stroke="#c2c"/>
<path d="M416.8 392.8c5.1-6.2 10.2-12 15.2-17.4c8.9-9.4 17.7-17.7 26.5-25.1c12.9-10.7 25.8-19.5 38.6-27c18.4-10.7 36.8-18.7 55.2-25.1c34.2-11.9 68.4-18.4 102.6-23" stroke="#c2c"/>
<path d="M416.8 391.6c5.1-6.3 10.2-12.1 15.2-17.6c8.9-9.5 17.7-17.8 26.5-25.2c12.9-10.8 25.8-19.6 38.6-27c18.4-10.7 36.8-18.6 55.2-24.9c34.2-11.7 68.4-18 102.6-22.5" stroke="#990"/>
<path d="M416.8 389.9c5.1-3 10.2-6 15.2-8.8c8.9-5 17.7-9.7 26.5-14.2c12.9-6.6 25.8-12.7 38.6-18.4c18.4-8.2 36.8-15.6 55.2-22.3c34.2-12.6 68.4-22.8 102.6-31.5" stroke="#23e"/>
<path d="M416.8 391.3c5.1-2.9 10.2-5.7 15.2-8.4c8.9-4.7 17.7-9.3 26.5-13.7c12.9-6.5 25.8-12.6 38.6-18.4c18.4-8.2 36.8-15.9 55.2-23c34.2-13.2 68.4-24.6 102.6-34.5" stroke="#23e"/>
<path d="M416.8 392.8c5.1-11.2 10.2-21.4 15.2-30.7c8.9-16.2 17.7-29.8 26.5-41.4c12.9-17.1 25.8-30.1 38.6-40.6c18.4-15.1 36.8-25.2 55.2-32.8c34.2-14.2 68.4-20.1 102.6-24.1" stroke="#e4a"/>
<path d="M416.8 388.5c5.1-4.7 10.2-9.2 15.2-13.5c8.9-7.5 17.7-14.3 26.5-20.6c12.9-9.1 25.8-17.1 38.6-24.1c18.4-10.1 36.8-18.4 55.2-25.3c34.2-13 68.4-21.7 102.6-28.3" stroke="#199"/>
<path d="M416.8 391.5c5.1-2.7 10.2-5.4 15.2-8c8.9-4.6 17.7-8.8 26.5-12.9c12.9-5.9 25.8-11.3 38.6-16.3c18.4-7.2 36.8-13.5 55.2-19.1c34.2-10.6 68.4-18.8 102.6-25.6" stroke="#e80"/>
<path d="M416.8 392.8c5.1-13.2 10.2-24.9 15.2-35.4c8.9-18.3 17.7-33 26.5-45.2c12.9-17.9 25.8-30.6 38.6-40.6c18.4-14.2 36.8-22.7 55.2-28.9c34.2-11.4 68.4-15 102.6-17.4" stroke="#46e"/>
<path d="M416.8 391c5.1-13.8 10.2-25.6 15.2-36c8.9-17.9 17.7-31.5 26.5-42.4c12.9-15.9 25.8-26.2 38.6-33.9c18.4-11 36.8-16.6 55.2-20.4c34.2-7.2 68.4-8.5 102.6-9.6" stroke="#000"/>
<path d="M416.8 393.3c5.1-8.2 10.2-15.9 15.2-23.1c8.9-12.5 17.7-23.8 26.5-33.9c12.9-14.8 25.8-27.4 38.6-38.2c18.4-15.6 36.8-27.7 55.2-37.7c34.2-18.5 68.4-29.8 102.6-37.9" stroke="#118"/>
<path d="M416.8 389c5.1-4.8 10.2-9.4 15.2-13.8c8.9-7.6 17.7-14.6 26.5-21.1c12.9-9.4 25.8-17.8 38.6-25.2c18.4-10.7 36.8-19.6 55.2-27.3c34.2-14.2 68.4-24.1 102.6-31.8" stroke="#23e"/>
<path d="M416.8 390.7c5.1-15.2 10.2-28.5 15.2-40.3c8.9-20.5 17.7-36.6 26.5-49.8c12.9-19.3 25.8-32.5 38.6-42.6c18.4-14.4 36.8-22.6 55.2-28.3c34.2-10.7 68.4-13.4 102.6-15.4" stroke="#93a"/>
<path d="M416.8 392.4c5.1-8.7 10.2-16.7 15.2-24.1c8.9-13 17.7-24.1 26.5-34c12.9-14.4 25.8-26 38.6-35.7c18.4-13.8 36.8-23.9 55.2-31.7c34.2-14.7 68.4-22.2 102.6-27.3" stroke="#c2c"/>
<path d="M416.8 390.1c5.1-7.1 10.2-13.9 15.2-20.3c8.9-11 17.7-21 26.5-30c12.9-13.2 25.8-24.4 38.6-34.1c18.4-13.9 36.8-24.9 55.2-34c34.2-16.8 68.4-27.2 102.6-34.8" stroke="#2b4"/>
<path d="M416.8 388.7c5.1-13.1 10.2-24.8 15.2-35.3c8.9-18.3 17.7-33.2 26.5-45.6c12.9-18.2 25.8-31.4 38.6-41.8c18.4-14.9 36.8-24 55.2-30.7c34.2-12.4 68.4-16.6 102.6-19.4" stroke="#818"/>
<path d="M416.8 391c5.1-2.2 10.2-4.4 15.2-6.6c8.9-3.7 17.7-7.3 26.5-10.8c12.9-5 25.8-9.7 38.6-14.2c18.4-6.4 36.8-12.2 55.2-17.6c34.2-10 68.4-18.4 102.6-25.7" stroke="#82e"/>
<path d="M416.8 393.5c5.1-8.2 10.2-16 15.2-23.3c8.9-12.7 17.7-24.1 26.5-34.4c12.9-15.1 25.8-28 38.6-39.1c18.4-16 36.8-28.6 55.2-39.1c34.2-19.4 68.4-31.4 102.6-40.1" stroke="#e12"/>
<path d="M416.8 388.1c5.1-6.5 10.2-12.6 15.2-18.3c8.9-9.9 17.7-18.7 26.5-26.7c12.9-11.6 25.8-21.3 38.6-29.6c18.4-12 36.8-21.2 55.2-28.7c34.2-14 68.4-22.2 102.6-28" stroke="#2b4"/>
<path d="M416.8 391.9c5.1-13 10.2-24.4 15.2-34.7c8.9-17.7 17.7-31.8 26.5-43.5c12.9-17 25.8-29 38.6-38.2c18.4-13.2 36.8-20.8 55.2-26.3c34.2-10.3 68.4-13.2 102.6-15.2" stroke="#c2c"/>
<path d="M416.8 393.1c5.1-15 10.2-27.8 15.2-39c8.9-19.4 17.7-34.1 26.5-46c12.9-17.2 25.8-28.4 38.6-36.7c18.4-11.8 36.8-17.9 55.2-22.1c34.2-7.8 68.4-9.2 102.6-10.3" stroke="#2b4"/>
<path d="M416.8 389.3c5.1-6.4 10.2-12.2 15.2-17.7c8.9-9.4 17.7-17.6 26.5-24.8c12.9-10.6 25.8-19.1 38.6-26.2c18.4-10.2 36.8-17.6 55.2-23.4c34.2-10.8 68.4-16.4 102.6-20.2" stroke="#990"/>
<path d="M416.8 392.2c5.1-2.7 10.2-5.2 15.2-7.7c8.9-4.3 17.7-8.4 26.5-12.1c12.9-5.6 25.8-10.6 38.6-15.2c18.4-6.5 36.8-12.2 55.2-17.3c34.2-9.3 68.4-16.4 102.6-22.1" stroke="#23e"/>
<path d="M416.8 390.1c5.1-5 10.2-9.9 15.2-14.4c8.9-8 17.7-15.3 26.5-22c12.9-9.8 25.8-18.3 38.6-25.8c18.4-10.8 36.8-19.7 55.2-27.2c34.2-13.9 68.4-23.3 102.6-30.4" stroke="#e4a"/>
<path d="M416.8 391.3c5.1-4.3 10.2-8.5 15.2-12.5c8.9-7 17.7-13.5 26.5-19.7c12.9-8.9 25.8-17 38.6-24.5c18.4-10.5 36.8-19.7 55.2-27.8c34.2-15 68.4-26.3 102.6-35.3" stroke="#990"/>
<path d="M416.8 392.9c5.1-6.9 10.2-13.3 15.2-19.3c8.9-10.4 17.7-19.4 26.5-27.4c12.9-11.6 25.8-21.1 38.6-29c18.4-11.3 36.8-19.6 55.2-26.2c34.2-12.2 68.4-18.5 102.6-22.9" stroke="#000"/>
<path d="M416.8 389c5.1-6.4 10.2-12.3 15.2-18c8.9-9.7 17.7-18.4 26.5-26.3c12.9-11.5 25.8-21.1 38.6-29.5c18.4-11.9 36.8-21.2 55.2-28.8c34.2-14.1 68.4-22.6 102.6-28.7" stroke="#c2c"/>
<path d="M416.8 393c5.1-13.7 10.2-25.5 15.2-36c8.9-18.3 17.7-32.4 26.5-44c12.9-16.8 25.8-28.2 38.6-36.8c18.4-12.4 36.8-19.2 55.2-23.9c34.2-8.9 68.4-10.9 102.6-12.4" stroke="#818"/>
<path d="M416.8 389.8c5.1-2.9 10.2-5.8 15.2-8.6c8.9-4.8 17.7-9.4 26.5-13.7c12.9-6.4 25.8-12.3 38.6-17.8c18.4-7.8 36.8-14.8 55.2-21.2c34.2-11.8 68.4-21.3 102.6-29.2" stroke="#23e"/>
<path d="M416.8 392.1c5.1-7.8 10.2-15.2 15.2-22.2c8.9-12.1 17.7-22.9 26.5-32.7c12.9-14.3 25.8-26.4 38.6-36.9c18.4-15 36.8-26.8 55.2-36.4c34.2-18 68.4-28.9 102.6-36.8" stroke="#46e"/>
<path d="M416.8 393.1c5.1-4.1 10.2-7.9 15.2-11.6c8.9-6.5 17.7-12.4 26.5-17.9c12.9-8 25.8-15.1 38.6-21.5c18.4-9.1 36.8-16.7 55.2-23.3c34.2-12.2 68.4-20.8 102.6-27.5" stroke="#199"/>
<path d="M416.8 392.5c5.1-16.9 10.2-31.4 15.2-44c8.9-22.1 17.7-38.7 26.5-52c12.9-19.5 25.8-32.1 38.6-41.5c18.4-13.4 36.8-20.3 55.2-25c34.2-8.8 68.4-10.4 102.6-11.7" stroke="#93a"/>
<path d="M416.8 389.2c5.1-9 10.2-17.3 15.2-25c8.9-13.4 17.7-25 26.5-35.3c12.9-15 25.8-27.1 38.6-37.2c18.4-14.5 36.8-25 55.2-33.2c34.2-15.4 68.4-23.3 102.6-28.8" stroke="#46e"/>
<path d="M416.8 388.3c5.1-6 10.2-11.6 15.2-16.9c8.9-9.3 17.7-17.6 26.5-25.2c12.9-11 25.8-20.5 38.6-28.8c18.4-11.9 36.8-21.4 55.2-29.2c34.2-14.7 68.4-23.9 102.6-30.8" stroke="#2b4"/>
<path d="M416.8 388c5.1-5 10.2-9.8 15.2-14.4c8.9-8.1 17.7-15.5 26.5-22.4c12.9-10 25.8-18.9 38.6-27c18.4-11.4 36.8-21.1 55.2-29.5c34.2-15.5 68.4-26.5 102.6-35.1" stroke="#c2c"/>
<path d="M416.8 390.6c5.1-2.4 10.2-4.7 15.2-6.9c8.9-4 17.7-7.8 26.5-11.5c12.9-5.4 25.8-10.5 38.6-15.4c18.4-6.9 36.8-13.4 55.2-19.5c34.2-11.3 68.4-21.1 102.6-29.9" stroke="#990"/>
<path d="M416.8 393.4c5.1-4.8 10.2-9.3 15.2-13.6c8.9-7.5 17.7-14.4 26.5-20.6c12.9-9.2 25.8-17.2 38.6-24.3c18.4-10.1 36.8-18.4 55.2-25.4c34.2-13 68.4-21.7 102.6-28.2" stroke="#c2c"/>
<path d="M416.8 391.3c5.1-5.4 10.2-10.5 15.2-15.4c8.9-8.5 17.7-16.3 26.5-23.4c12.9-10.5 25.8-19.6 38.6-27.7c18.4-11.7 36.8-21.2 55.2-29.4c34.2-15.1 68.4-25.4 102.6-33.2" stroke="#000"/>
<path d="M416.8 392.6c5.1-10.8 10.2-20.7 15.2-29.8c8.9-15.8 17.7-29.2 26.5-40.8c12.9-17 25.8-30.3 38.6-41.2c18.4-15.6 36.8-26.4 55.2-34.7c34.2-15.4 68.4-22.4 102.6-27.1" stroke="#23e"/>
<path d="M416.8 392.2c5.1-10.1 10.2-19.5 15.2-28.1c8.9-15.1 17.7-28 26.5-39.3c12.9-16.4 25.8-29.5 38.6-40.4c18.4-15.4 36.8-26.4 55.2-35c34.2-15.8 68.4-23.5 102.6-28.7" stroke="#c2c"/>
<path d="M416.8 392.3c5.1-3.4 10.2-6.6 15.2-9.8c8.9-5.6 17.7-10.9 26.5-15.9c12.9-7.2 25.8-14 38.6-20.2c18.4-8.9 36.8-16.8 55.2-23.9c34.2-13.3 68.4-23.8 102.6-32.5" stroke="#46e"/>
<path d="M416.8 393c5.1-6.6 10.2-12.7 15.2-18.5c8.9-10 17.7-19 26.5-27.1c12.9-11.8 25.8-21.7 38.6-30.3c18.4-12.3 36.8-21.8 55.2-29.6c34.2-14.6 68.4-23.2 102.6-29.5" stroke="#000"/>
<path d="M416.8 393.3c5.1-7.2 10.2-14 15.2-20.3c8.9-10.9 17.7-20.5 26.5-29c12.9-12.5 25.8-22.7 38.6-31.4c18.4-12.3 36.8-21.6 55.2-28.9c34.2-13.8 68.4-21.2 102.6-26.4" stroke="#82e"/>
<path d="M416.8 392c5.1-8.6 10.2-16.6 15.2-24.1c8.9-12.9 17.7-24.3 26.5-34.3c12.9-14.7 25.8-26.8 38.6-36.9c18.4-14.6 36.8-25.4 55.2-34c34.2-16 68.4-24.7 102.6-30.7" stroke="#23e"/>
<path d="M416.8 391.1c5.1-7 10.2-13.5 15.2-19.7c8.9-10.6 17.7-20.1 26.5-28.5c12.9-12.4 25.8-22.7 38.6-31.5c18.4-12.5 36.8-22.1 55.2-29.9c34.2-14.4 68.4-22.7 102.6-28.6" stroke="#990"/>
<path d="M416.8 393c5.1-5.9 10.2-11.4 15.2-16.6c8.9-9.1 17.7-17.2 26.5-24.6c12.9-10.8 25.8-19.9 38.6-27.8c18.4-11.4 36.8-20.3 55.2-27.6c34.2-13.7 68.4-22.1 102.6-28.2" stroke="#e12"/>
<path d="M416.8 392.7c5.1-7.9 10.2-15.2 15.2-22.1c8.9-12 17.7-22.5 26.5-32c12.9-13.7 25.8-25 38.6-34.7c18.4-13.8 36.8-24.3 55.2-32.6c34.2-15.6 68.4-24.3 102.6-30.5" stroke="#c2c"/>
<path d="M416.8 390.4c5.1-5.7 10.2-10.9 15.2-15.9c8.9-8.6 17.7-16.3 26.5-23.3c12.9-10.1 25.8-18.6 38.6-26c18.4-10.6 36.8-18.8 55.2-25.5c34.2-12.5 68.4-20 102.6-25.4" stroke="#000"/>
<path d="M416.8 390.7c5.1-6.1 10.2-12 15.2-17.4c8.9-9.6 17.7-18.2 26.5-25.9c12.9-11.4 25.8-21 38.6-29.4c18.4-12 36.8-21.5 55.2-29.3c34.2-14.5 68.4-23.4 102.6-30" stroke="#23e"/>
<path d="M416.8 390.7c5.1-4.2 10.2-8.3 15.2-12.1c8.9-6.8 17.7-13 26.5-18.8c12.9-8.5 25.8-16.1 38.6-23c18.4-9.8 36.8-18.1 55.2-25.3c34.2-13.5 68.4-23.2 102.6-30.8" stroke="#46e"/>
<path d="M416.8 388.5c5.1-7.9 10.2-15.2 15.2-22c8.9-11.8 17.7-22 26.5-31.1c12.9-13.2 25.8-23.8 38.6-32.7c18.4-12.7 36.8-21.9 55.2-29.2c34.2-13.5 68.4-20.4 102.6-25.2" stroke="#199"/>
<path d="M416.8 389.9c5.1-8.1 10.2-15.5 15.2-22.4c8.9-12.1 17.7-22.6 26.5-32c12.9-13.7 25.8-24.9 38.6-34.4c18.4-13.6 36.8-23.6 55.2-31.7c34.2-14.9 68.4-23 102.6-28.6" stroke="#c2c"/>
<path d="M416.8 393c5.1-4.7 10.2-9.1 15.2-13.3c8.9-7.4 17.7-14.1 26.5-20.3c12.9-9.1 25.8-17 38.6-24c18.4-10 36.8-18.3 55.2-25.2c34.2-13 68.4-21.8 102.6-28.5" stroke="#2bb"/>
<path d="M416.8 388.5c5.1-6.2 10.2-12 15.2-17.4c8.9-9.4 17.7-17.7 26.5-25.2c12.9-10.9 25.8-20 38.6-27.9c18.4-11.2 36.8-19.8 55.2-26.8c34.2-13 68.4-20.6 102.6-26" stroke="#818"/>
<path d="M416.8 391c5.1-3.5 10.2-6.9 15.2-10.1c8.9-5.5 17.7-10.6 26.5-15.3c12.9-6.7 25.8-12.7 38.6-17.9c18.4-7.5 36.8-13.6 55.2-18.8c34.2-9.6 68.4-16 102.6-20.8" stroke="#2b4"/>
<path d="M416.8 388.1c5.1-2.7 10.2-5.3 15.2-7.9c8.9-4.4 17.7-8.6 26.5-12.7c12.9-6 25.8-11.6 38.6-16.9c18.4-7.6 36.8-14.6 55.2-21c34.2-12 68.4-22.2 102.6-31" stroke="#23e"/>
<path d="M416.8 391c5.1-9 10.2-17.3 15.2-25c8.9-13.4 17.7-25.1 26.5-35.5c12.9-15 25.8-27.2 38.6-37.5c18.4-14.6 36.8-25.4 55.2-33.8c34.2-15.8 68.4-24 102.6-29.6" stroke="#118"/>
<path d="M416.8 393.1c5.1-8.6 10.2-16.7 15.2-24.2c8.9-13 17.7-24.4 26.5-34.5c12.9-14.8 25.8-26.8 38.6-36.9c18.4-14.5 36.8-25.2 55.2-33.7c34.2-15.8 68.4-24.2 102.6-30.1" stroke="#fff"/>
<path d="M416.8 388.3c5.1-4.9 10.2-9.6 15.2-14.1c8.9-7.9 17.7-15.3 26.5-22.4c12.9-10.3 25.8-19.7 38.6-28.4c18.4-12.5 36.8-23.5 55.2-33.4c34.2-18.3 68.4-32.8 102.6-44.6" stroke="#a13"/>
<path d="M416.8 392.5c5.1-2.1 10.2-4.1 15.2-6.1c8.9-3.5 17.7-6.8 26.5-10.1c12.9-4.7 25.8-9.3 38.6-13.7c18.4-6.2 36.8-12.1 55.2-17.7c34.2-10.3 68.4-19.5 102.6-27.8" stroke="#e12"/>
<path d="M416.8 389.6c5.1-9.4 10.2-18.1 15.2-26.2c8.9-14.1 17.7-26.4 26.5-37.4c12.9-15.9 25.8-28.9 38.6-39.9c18.4-15.8 36.8-27.4 55.2-36.7c34.2-17.2 68.4-26.4 102.6-32.8" stroke="#23e"/>
<path d="M416.8 393.3c5.1-5.3 10.2-10.5 15.2-15.4c8.9-8.5 17.7-16.3 26.5-23.7c12.9-10.6 25.8-20.1 38.6-28.6c18.4-12.2 36.8-22.5 55.2-31.3c34.2-16.5 68.4-28.2 102.6-37.3" stroke="#e12"/>
<path d="M416.8 390.9c5.1-5 10.2-9.8 15.2-14.4c8.9-8 17.7-15.5 26.5-22.6c12.9-10.2 25.8-19.5 38.6-27.9c18.4-12.1 36.8-22.5 55.2-31.7c34.2-17 68.4-29.8 102.6-39.9" stroke="#82e"/>
<path d="M416.8 388.9c5.1-8.7 10.2-16.8 15.2-24.3c8.9-13 17.7-24.3 26.5-34.3c12.9-14.5 25.8-26.3 38.6-36.2c18.4-14.1 36.8-24.3 55.2-32.4c34.2-15.1 68.4-22.8 102.6-28.1" stroke="#82e"/>
<path d="M416.8 388.5c5.1-8.1 10.2-15.8 15.2-22.9c8.9-12.4 17.7-23.4 26.5-33.2c12.9-14.4 25.8-26.3 38.6-36.5c18.4-14.5 36.8-25.6 55.2-34.6c34.2-16.6 68.4-26.1 102.6-32.8" stroke="#23e"/>
<path d="M416.8 391.2c5.1-10.1 10.2-19.4 15.2-28c8.9-14.9 17.7-27.7 26.5-38.9c12.9-16.4 25.8-29.4 38.6-40.1c18.4-15.4 36.8-26.3 55.2-34.8c34.2-15.8 68.4-23.4 102.6-28.6" stroke="#e12"/>
<path d="M416.8 390.1c5.1-13 10.2-24.4 15.2-34.6c8.9-17.7 17.7-31.6 26.5-43.2c12.9-16.8 25.8-28.5 38.6-37.5c18.4-12.9 36.8-20.3 55.2-25.5c34.2-9.8 68.4-12.5 102.6-14.4" stroke="#c2c"/>
<path d="M416.8 391.4c5.1-7.2 10.2-13.9 15.2-20.2c8.9-11 17.7-20.6 26.5-29.3c12.9-12.6 25.8-23 38.6-32c18.4-12.7 36.8-22.3 55.2-30.1c34.2-14.4 68.4-22.6 102.6-28.3" stroke="#2bb"/>
<path d="M416.8 393.3c5.1-9.8 10.2-18.4 15.2-26c8.9-13.2 17.7-23.5 26.5-32c12.9-12.3 25.8-20.6 38.6-27c18.4-9.2 36.8-14.2 55.2-17.8c34.2-6.6 68.4-8.3 102.6-9.4" stroke="#2bb"/>
<path d="M416.8 390.9c5.1-3.2 10.2-6.3 15.2-9.3c8.9-5.3 17.7-10.4 26.5-15.2c12.9-7 25.8-13.6 38.6-19.8c18.4-8.8 36.8-16.8 55.2-24.1c34.2-13.5 68.4-24.7 102.6-34.3" stroke="#000"/>
<path d="M416.8 393.2c5.1-4.1 10.2-8.1 15.2-11.9c8.9-6.5 17.7-12.4 26.5-17.9c12.9-8 25.8-14.9 38.6-21c18.4-8.8 36.8-15.9 55.2-21.9c34.2-11.2 68.4-18.5 102.6-24.1" stroke="#23e"/>
<path d="M416.8 388.5c5.1-2.7 10.2-5.4 15.2-8c8.9-4.5 17.7-8.8 26.5-12.9c12.9-5.9 25.8-11.4 38.6-16.4c18.4-7.3 36.8-13.7 55.2-19.5c34.2-10.7 68.4-19.2 102.6-26.3" stroke="#e12"/>
<path d="M416.8 389.6c5.1-5.5 10.2-10.8 15.2-15.8c8.9-8.6 17.7-16.6 26.5-23.9c12.9-10.6 25.8-19.9 38.6-28.2c18.4-11.8 36.8-21.5 55.2-29.8c34.2-15.3 68.4-25.7 102.6-33.5" stroke="#fff"/>
<path d="M416.8 389.8c5.1-3.2 10.2-6.3 15.2-9.3c8.9-5.1 17.7-9.8 26.5-14.2c12.9-6.4 25.8-12 38.6-17c18.4-7.2 36.8-13.2 55.2-18.3c34.2-9.6 68.4-16.2 102.6-21.3" stroke="#23e"/>
<path d="M416.8 393.3c5.1-15.1 10.2-28.1 15.2-39.7c8.9-20 17.7-35.4 26.5-47.9c12.9-18.3 25.8-30.5 38.6-39.7c18.4-13.2 36.8-20.3 55.2-25.3c34.2-9.2 68.4-11.2 102.6-12.7" stroke="#e12"/>
<path d="M416.8 388.5c5.1-2 10.2-3.9 15.2-5.8c8.9-3.4 17.7-6.6 26.5-9.6c12.9-4.5 25.8-8.8 38.6-12.8c18.4-5.7 36.8-11 55.2-15.9c34.2-9 68.4-16.8 102.6-23.5" stroke="#fff"/>
<path d="M416.8 389.8c5.1-3 10.2-6 15.2-8.8c8.9-4.9 17.7-9.6 26.5-14.1c12.9-6.5 25.8-12.6 38.6-18.2c18.4-8.1 36.8-15.3 55.2-21.9c34.2-12.2 68.4-22.1 102.6-30.4" stroke="#23e"/>
<path d="M416.8 391.6c5.1-4.4 10.2-8.7 15.2-12.7c8.9-7.1 17.7-13.5 26.5-19.5c12.9-8.7 25.8-16.3 38.6-23.1c18.4-9.8 36.8-17.9 55.2-24.8c34.2-12.9 68.4-21.7 102.6-28.5" stroke="#c2c"/>
<path d="M416.8 390.6c5.1-3.5 10.2-6.9 15.2-10.1c8.9-5.7 17.7-11 26.5-16c12.9-7.3 25.8-13.9 38.6-20c18.4-8.7 36.8-16.2 55.2-22.9c34.2-12.5 68.4-22.1 102.6-29.8" stroke="#2b4"/>
<path d="M416.8 389.7c5.1-12.6 10.2-23.7 15.2-33.6c8.9-17.2 17.7-30.9 26.5-42.3c12.9-16.7 25.8-28.4 38.6-37.5c18.4-13 36.8-20.7 55.2-26.2c34.2-10.2 68.4-13.2 102.6-15.3" stroke="#e4a"/>
<path d="M416.8 388.7c5.1-3 10.2-5.9 15.2-8.7c8.9-4.9 17.7-9.5 26.5-13.8c12.9-6.3 25.8-12 38.6-17.3c18.4-7.5 36.8-14 55.2-19.8c34.2-10.8 68.4-19.1 102.6-25.8" stroke="#000"/>
<path d="M416.8 391.5c5.1-4.3 10.2-8.5 15.2-12.4c8.9-6.9 17.7-13.3 26.5-19.2c12.9-8.6 25.8-16.3 38.6-23.2c18.4-9.9 36.8-18.2 55.2-25.4c34.2-13.4 68.4-22.9 102.6-30.4" stroke="#23e"/>
<path d="M416.8 392.1c5.1-5 10.2-9.8 15.2-14.4c8.9-8 17.7-15.6 26.5-22.8c12.9-10.5 25.8-20.1 38.6-29c18.4-12.7 36.8-23.9 55.2-33.9c34.2-18.7 68.4-33.3 102.6-45.3" stroke="#990"/>
<path d="M416.8 388.6c5.1-7.4 10.2-14.4 15.2-20.9c8.9-11.3 17.7-21.4 26.5-30.4c12.9-13.3 25.8-24.3 38.6-33.8c18.4-13.7 36.8-24.1 55.2-32.7c34.2-15.8 68.4-25.1 102.6-31.8" stroke="#e12"/>
<path d="M416.8 390.1c5.1-6.2 10.2-12 15.2-17.4c8.9-9.4 17.7-17.7 26.5-25.1c12.9-10.9 25.8-19.8 38.6-27.5c18.4-10.9 36.8-19.2 55.2-25.9c34.2-12.4 68.4-19.4 102.6-24.4" stroke="#2b4"/>
<path d="M416.8 392.5c5.1-15.3 10.2-28.4 15.2-39.9c8.9-20.1 17.7-35.4 26.5-47.8c12.9-18.1 25.8-30 38.6-38.9c18.4-12.7 36.8-19.4 55.2-24.1c34.2-8.6 68.4-10.4 102.6-11.7" stroke="#2bb"/>
<path d="M416.8 388.1c5.1-4.6 10.2-9 15.2-13.2c8.9-7.4 17.7-14.2 26.5-20.5c12.9-9.3 25.8-17.6 38.6-25c18.4-10.7 36.8-19.7 55.2-27.6c34.2-14.6 68.4-25.1 102.6-33.4" stroke="#888"/>
<path d="M416.8 392.8c5.1-16.2 10.2-30.1 15.2-42.2c8.9-21.1 17.7-37.1 26.5-49.9c12.9-18.7 25.8-30.8 38.6-39.8c18.4-12.9 36.8-19.5 55.2-24c34.2-8.5 68.4-10 102.6-11.2" stroke="#818"/>
<path d="M416.8 389.2c5.1-8 10.2-15.4 15.2-22.3c8.9-12 17.7-22.5 26.5-31.9c12.9-13.7 25.8-25 38.6-34.6c18.4-13.7 36.8-23.9 55.2-32.2c34.2-15.2 68.4-23.6 102.6-29.5" stroke="#888"/>
<path d="M416.8 390c5.1-3.6 10.2-7.1 15.2-10.6c8.9-5.9 17.7-11.6 26.5-17c12.9-7.9 25.8-15.3 38.6-22.2c18.4-9.9 36.8-18.9 55.2-27c34.2-15.2 68.4-27.8 102.6-38.4" stroke="#199"/>
<path d="M416.8 391.6c5.1-7.8 10.2-15.2 15.2-22c8.9-12 17.7-22.6 26.5-32.2c12.9-13.9 25.8-25.6 38.6-35.6c18.4-14.3 36.8-25.3 55.2-34.3c34.2-16.6 68.4-26.4 102.6-33.3" stroke="#fff"/>
<path d="M416.8 390.9c5.1-5.3 10.2-10.3 15.2-14.9c8.9-8.1 17.7-15.1 26.5-21.3c12.9-9.1 25.8-16.5 38.6-22.8c18.4-9 36.8-15.6 55.2-20.9c34.2-9.8 68.4-15.1 102.6-18.8" stroke="#118"/>
<path d="M416.8 388.4c5.1-8.3 10.2-15.8 15.2-22.6c8.9-11.9 17.7-21.7 26.5-30.1c12.9-12.3 25.8-21.6 38.6-29c18.4-10.7 36.8-17.7 55.2-22.9c34.2-9.6 68.4-13.5 102.6-16" stroke="#199"/>
<path d="M416.8 393.5c5.1-19.9 10.2-36.7 15.2-51.3c8.9-25.4 17.7-44 26.5-58.8c12.9-21.6 25.8-35 38.6-44.9c18.4-14 36.8-20.7 55.2-25.3c34.2-8.5 68.4-9.6 102.6-10.7" stroke="#93a"/>
<path d="M416.8 390.5c5.1-4.2 10.2-8.2 15.2-12.1c8.9-6.8 17.7-13.2 26.5-19.3c12.9-8.7 25.8-16.7 38.6-24.1c18.4-10.5 36.8-19.6 55.2-27.7c34.2-15.1 68.4-26.7 102.6-36" stroke="#fff"/>
<path d="M416.8 392.8c5.1-7.5 10.2-14.7 15.2-21.4c8.9-11.6 17.7-22 26.5-31.3c12.9-13.7 25.8-25.2 38.6-35.1c18.4-14.2 36.8-25.3 55.2-34.3c34.2-16.8 68.4-26.8 102.6-34" stroke="#82e"/>
<path d="M416.8 391.3c5.1-5.9 10.2-11.4 15.2-16.6c8.9-9.1 17.7-17.2 26.5-24.5c12.9-10.8 25.8-19.9 38.6-27.9c18.4-11.3 36.8-20.2 55.2-27.6c34.2-13.6 68.4-22 102.6-28.2" stroke="#46e"/>
<path d="M416.8 390.8c5.1-5.7 10.2-11.1 15.2-16.2c8.9-8.9 17.7-16.9 26.5-24.3c12.9-10.8 25.8-20.1 38.6-28.4c18.4-11.7 36.8-21.3 55.2-29.3c34.2-14.9 68.4-24.6 102.6-31.9" stroke="#000"/>
<path d="M416.8 391.2c5.1-8.9 10.2-16.7 15.2-23.7c8.9-12.1 17.7-21.7 26.5-29.7c12.9-11.5 25.8-19.6 38.6-25.9c18.4-8.9 36.8-14 55.2-17.7c34.2-6.8 68.4-8.7 102.6-10.1" stroke="#c2c"/>
<path d="M416.8 392.4c5.1-7.1 10.2-13.7 15.2-19.9c8.9-10.9 17.7-20.6 26.5-29.4c12.9-12.9 25.8-23.7 38.6-33.2c18.4-13.5 36.8-24.1 55.2-32.8c34.2-16.2 68.4-26.1 102.6-33.2" stroke="#23e"/>
<path d="M416.8 389.1c5.1-3.5 10.2-6.8 15.2-9.8c8.9-5.4 17.7-10.2 26.5-14.6c12.9-6.4 25.8-11.8 38.6-16.5c18.4-6.8 36.8-12.1 55.2-16.5c34.2-8.1 68.4-13.1 102.6-16.8" stroke="#e80"/>
<path d="M416.8 393.3c5.1-5.5 10.2-10.7 15.2-15.6c8.9-8.5 17.7-16.3 26.5-23.4c12.9-10.4 25.8-19.4 38.6-27.3c18.4-11.4 36.8-20.6 55.2-28.4c34.2-14.4 68.4-23.9 102.6-31.1" stroke="#990"/>
<path d="M416.8 390.5c5.1-7.1 10.2-13.7 15.2-20c8.9-10.8 17.7-20.4 26.5-29c12.9-12.6 25.8-23 38.6-32c18.4-12.8 36.8-22.6 55.2-30.5c34.2-14.8 68.4-23.2 102.6-29.3" stroke="#888"/>
<path d="M416.8 391.6c5.1-6 10.2-11.8 15.2-17.3c8.9-9.5 17.7-18.3 26.5-26.4c12.9-11.8 25.8-22.2 38.6-31.4c18.4-13.3 36.8-24.2 55.2-33.6c34.2-17.4 68.4-29.4 102.6-38.5" stroke="#990"/>
<path d="M416.8 389.2c5.1-1.8 10.2-3.7 15.2-5.4c8.9-3.2 17.7-6.2 26.5-9.2c12.9-4.3 25.8-8.5 38.6-12.5c18.4-5.8 36.8-11.2 55.2-16.4c34.2-9.7 68.4-18.4 102.6-26.4" stroke="#23e"/>
<path d="M416.8 390.8c5.1-7.7 10.2-15 15.2-21.7c8.9-11.7 17.7-21.9 26.5-31c12.9-13.3 25.8-24.1 38.6-33.3c18.4-13.1 36.8-22.9 55.2-30.6c34.2-14.5 68.4-22.3 102.6-27.7" stroke="#199"/>
<path d="M416.8 388.5c5.1-9 10.2-17.1 15.2-24.5c8.9-13 17.7-23.8 26.5-33.2c12.9-13.6 25.8-24.1 38.6-32.6c18.4-12.1 36.8-20.3 55.2-26.4c34.2-11.5 68.4-16.4 102.6-19.6" stroke="#818"/>
<path d="M416.8 388.7c5.1-10.3 10.2-19.6 15.2-28c8.9-14.6 17.7-26.6 26.5-36.7c12.9-14.8 25.8-25.7 38.6-34.3c18.4-12.4 36.8-20.2 55.2-26c34.2-10.7 68.4-14.6 102.6-17.2" stroke="#818"/>
<path d="M416.8 388.3c5.1-3.7 10.2-7.2 15.2-10.6c8.9-6 17.7-11.6 26.5-16.9c12.9-7.7 25.8-14.7 38.6-21.1c18.4-9.1 36.8-17.1 55.2-24.2c34.2-13.1 68.4-23.1 102.6-31.2" stroke="#2b4"/>
<path d="M416.8 393.2c5.1-7 10.2-13.5 15.2-19.6c8.9-10.6 17.7-19.9 26.5-28.1c12.9-12 25.8-21.9 38.6-30.2c18.4-11.9 36.8-20.8 55.2-27.9c34.2-13.1 68.4-20.3 102.6-25.3" stroke="#82e"/>
<path d="M416.8 391.1c5.1-11.5 10.2-21.9 15.2-31.3c8.9-16.5 17.7-30.1 26.5-41.8c12.9-17 25.8-29.9 38.6-40.2c18.4-14.8 36.8-24.4 55.2-31.7c34.2-13.4 68.4-18.7 102.6-22.3" stroke="#23e"/>
<path d="M416.8 392.8c5.1-5.9 10.2-11.5 15.2-16.9c8.9-9.4 17.7-18 26.5-26.1c12.9-11.7 25.8-22.1 38.6-31.4c18.4-13.4 36.8-24.6 55.2-34.3c34.2-18 68.4-30.7 102.6-40.6" stroke="#e4a"/>
<path d="M416.8 389.2c5.1-2.4 10.2-4.7 15.2-7c8.9-4 17.7-7.8 26.5-11.5c12.9-5.3 25.8-10.3 38.6-14.9c18.4-6.6 36.8-12.7 55.2-18.2c34.2-10.2 68.4-18.6 102.6-25.8" stroke="#a13"/>
<path d="M416.8 388.5c5.1-8.7 10.2-16.4 15.2-23.3c8.9-12.1 17.7-21.9 26.5-30.1c12.9-12 25.8-20.7 38.6-27.6c18.4-9.8 36.8-15.8 55.2-20.2c34.2-8.1 68.4-10.8 102.6-12.7" stroke="#23e"/>
<path d="M416.8 388.3c5.1-12.8 10.2-24.2 15.2-34.5c8.9-17.8 17.7-32.4 26.5-44.6c12.9-17.8 25.8-30.8 38.6-41.1c18.4-14.6 36.8-23.7 55.2-30.3c34.2-12.4 68.4-16.6 102.6-19.4" stroke="#818"/>
<path d="M416.8 388.1c5.1-7.2 10.2-13.8 15.2-19.8c8.9-10.5 17.7-19.5 26.5-27.3c12.9-11.4 25.8-20.3 38.6-27.7c18.4-10.5 36.8-17.8 55.2-23.5c34.2-10.5 68.4-15.4 102.6-18.7" stroke="#a13"/>
<path d="M416.8 392.1c5.1-4.8 10.2-9.3 15.2-13.5c8.9-7.4 17.7-13.9 26.5-19.7c12.9-8.5 25.8-15.6 38.6-21.7c18.4-8.6 36.8-15.3 55.2-20.6c34.2-9.9 68.4-15.6 102.6-19.7" stroke="#e12"/>
<path d="M416.8 388.2c5.1-3.3 10.2-6.4 15.2-9.4c8.9-5.2 17.7-10 26.5-14.4c12.9-6.5 25.8-12.1 38.6-17.2c18.4-7.2 36.8-13.2 55.2-18.4c34.2-9.5 68.4-16.1 102.6-21.1" stroke="#23e"/>
<path d="M416.8 391.3c5.1-6.2 10.2-12.1 15.2-17.7c8.9-9.7 17.7-18.6 26.5-26.6c12.9-11.8 25.8-22 38.6-31c18.4-12.8 36.8-23.2 55.2-31.9c34.2-16.2 68.4-26.7 102.6-34.6" stroke="#46e"/>
<path d="M416.8 390.2c5.1-5.7 10.2-11.2 15.2-16.4c8.9-9.2 17.7-17.7 26.5-25.8c12.9-11.6 25.8-22.2 38.6-31.8c18.4-13.8 36.8-25.7 55.2-36.2c34.2-19.4 68.4-34 102.6-45.6" stroke="#a13"/>
<path d="M416.8 391.5c5.1-4.7 10.2-9.1 15.2-13.4c8.9-7.3 17.7-13.9 26.5-20c12.9-8.8 25.8-16.5 38.6-23.2c18.4-9.6 36.8-17.3 55.2-23.8c34.2-12.1 68.4-19.9 102.6-25.7" stroke="#a13"/>
<path d="M416.8 389.3c5.1-6.7 10.2-12.9 15.2-18.7c8.9-10.1 17.7-18.9 26.5-26.8c12.9-11.5 25.8-20.9 38.6-28.9c18.4-11.4 36.8-20 55.2-26.8c34.2-12.7 68.4-19.7 102.6-24.6" stroke="#a13"/>
<path d="M416.8 388.5c5.1-4.9 10.2-9.6 15.2-14c8.9-7.7 17.7-14.6 26.5-20.8c12.9-9.1 25.8-16.7 38.6-23.4c18.4-9.6 36.8-17 55.2-23.2c34.2-11.4 68.4-18.4 102.6-23.5" stroke="#fff"/>
<path d="M416.8 390.3c5.1-11.6 10.2-21.9 15.2-31.2c8.9-16.2 17.7-29.4 26.5-40.6c12.9-16.2 25.8-28.1 38.6-37.5c18.4-13.5 36.8-21.9 55.2-28c34.2-11.4 68.4-15.4 102.6-18.1" stroke="#fff"/>
<path d="M416.8 391.7c5.1-4 10.2-7.8 15.2-11.5c8.9-6.3 17.7-12.1 26.5-17.5c12.9-7.8 25.8-14.6 38.6-20.7c18.4-8.7 36.8-15.9 55.2-21.9c34.2-11.4 68.4-19.1 102.6-24.9" stroke="#c2c"/>
<path d="M416.8 390.3c5.1-2.5 10.2-4.9 15.2-7.2c8.9-4.1 17.7-8 26.5-11.6c12.9-5.4 25.8-10.3 38.6-14.8c18.4-6.5 36.8-12.3 55.2-17.5c34.2-9.6 68.4-17.2 102.6-23.5" stroke="#990"/>
<path d="M416.8 392.3c5.1-4.5 10.2-8.7 15.2-12.7c8.9-6.8 17.7-12.9 26.5-18.4c12.9-8 25.8-14.6 38.6-20.4c18.4-8.2 36.8-14.4 55.2-19.5c34.2-9.5 68.4-15 102.6-19" stroke="#2b4"/>
<path d="M416.8 388.4c5.1-5.3 10.2-10.3 15.2-15c8.9-8.3 17.7-15.9 26.5-23c12.9-10.2 25.8-19.3 38.6-27.4c18.4-11.5 36.8-21.1 55.2-29.3c34.2-15.3 68.4-25.8 102.6-33.9" stroke="#46e"/>
<path d="M416.8 390.9c5.1-5.6 10.2-11 15.2-16.1c8.9-8.9 17.7-17.2 26.5-24.8c12.9-11.1 25.8-21 38.6-29.9c18.4-12.7 36.8-23.4 55.2-32.6c34.2-17.1 68.4-29.1 102.6-38.5" stroke="#c2c"/>
<path d="M416.8 392.4c5.1-3.1 10.2-6.1 15.2-8.9c8.9-4.8 17.7-9.2 26.5-13.2c12.9-5.8 25.8-10.8 38.6-15.1c18.4-6.2 36.8-11.2 55.2-15.3c34.2-7.7 68.4-12.5 102.6-16" stroke="#888"/>
<path d="M416.8 388.6c5.1-10.8 10.2-20.4 15.2-29.1c8.9-15.3 17.7-27.8 26.5-38.5c12.9-15.6 25.8-27.3 38.6-36.6c18.4-13.3 36.8-21.9 55.2-28.2c34.2-11.9 68.4-16.4 102.6-19.4" stroke="#118"/>
<path d="M416.8 393.3c5.1-6.3 10.2-12.1 15.2-17.6c8.9-9.4 17.7-17.5 26.5-24.6c12.9-10.4 25.8-18.8 38.6-25.7c18.4-10 36.8-17.1 55.2-22.7c34.2-10.4 68.4-15.6 102.6-19.2" stroke="#2b4"/>
<path d="M416.8 391.7c5.1-11.6 10.2-22.1 15.2-31.6c8.9-16.7 17.7-30.5 26.5-42.3c12.9-17.3 25.8-30.4 38.6-41c18.4-15 36.8-24.9 55.2-32.4c34.2-13.8 68.4-19.3 102.6-23" stroke="#e12"/>
<path d="M416.8 391.8c5.1-3.8 10.2-7.4 15.2-11c8.9-6.1 17.7-12 26.5-17.7c12.9-8.3 25.8-16 38.6-23.3c18.4-10.3 36.8-19.8 55.2-28.4c34.2-16.2 68.4-29.6 102.6-41.1" stroke="#c2c"/>
<path d="M416.8 392c5.1-10.8 10.2-20.6 15.2-29.5c8.9-15.5 17.7-28.4 26.5-39.4c12.9-16.1 25.8-28.3 38.6-38.2c18.4-14 36.8-23.3 55.2-30.2c34.2-13 68.4-18.2 102.6-21.7" stroke="#c2c"/>
<path d="M416.8 389.1c5.1-4.2 10.2-8.3 15.2-12.1c8.9-6.7 17.7-12.9 26.5-18.6c12.9-8.4 25.8-15.8 38.6-22.5c18.4-9.4 36.8-17.4 55.2-24.2c34.2-12.7 68.4-21.6 102.6-28.5" stroke="#818"/>
<path d="M416.8 393.3c5.1-9.4 10.2-17.8 15.2-25.4c8.9-13.1 17.7-23.7 26.5-32.7c12.9-13 25.8-22.4 38.6-29.9c18.4-10.6 36.8-17.1 55.2-21.9c34.2-8.8 68.4-11.7 102.6-13.7" stroke="#c2c"/>
<path d="M416.8 389.9c5.1-8.2 10.2-15.8 15.2-22.8c8.9-12.3 17.7-22.9 26.5-32.2c12.9-13.6 25.8-24.6 38.6-33.8c18.4-13 36.8-22.5 55.2-30c34.2-13.8 68.4-20.8 102.6-25.6" stroke="#c2c"/>
<path d="M416.8 393c5.1-3.1 10.2-6.1 15.2-8.9c8.9-5 17.7-9.6 26.5-14c12.9-6.3 25.8-12 38.6-17.2c18.4-7.4 36.8-13.8 55.2-19.4c34.2-10.5 68.4-18.3 102.6-24.5" stroke="#818"/>
<path d="M416.8 391.9c5.1-5.6 10.2-10.7 15.2-15.6c8.9-8.5 17.7-16 26.5-22.8c12.9-9.8 25.8-18.1 38.6-25.3c18.4-10.2 36.8-18.1 55.2-24.5c34.2-12 68.4-19 102.6-24.1" stroke="#e80"/>
<path d="M416.8 388.2c5.1-1.8 10.2-3.7 15.2-5.5c8.9-3.1 17.7-6.2 26.5-9.2c12.9-4.4 25.8-8.7 38.6-12.8c18.4-5.9 36.8-11.5 55.2-16.8c34.2-10 68.4-19.2 102.6-27.6" stroke="#2bb"/>
<path d="M416.8 389.6c5.1-12.4 10.2-23.5 15.2-33.5c8.9-17.5 17.7-31.7 26.5-43.8c12.9-17.6 25.8-30.6 38.6-40.8c18.4-14.7 36.8-24 55.2-30.8c34.2-12.7 68.4-17.2 102.6-20.3" stroke="#e12"/>
<path d="M416.8 388.1c5.1-7.2 10.2-13.9 15.2-20.3c8.9-11 17.7-20.8 26.5-29.7c12.9-12.9 25.8-23.8 38.6-33.2c18.4-13.5 36.8-24 55.2-32.5c34.2-15.9 68.4-25.4 102.6-32.3" stroke="#fff"/>
<path d="M416.8 390.4c5.1-9.8 10.2-18.8 15.2-27.1c8.9-14.5 17.7-26.9 26.5-37.9c12.9-16 25.8-28.9 38.6-39.6c18.4-15.3 36.8-26.3 55.2-34.9c34.2-16 68.4-24 102.6-29.5" stroke="#a13"/>
<path d="M416.8 390.3c5.1-4.1 10.2-8 15.2-11.7c8.9-6.5 17.7-12.7 26.5-18.4c12.9-8.4 25.8-16.1 38.6-23.1c18.4-10 36.8-18.8 55.2-26.5c34.2-14.4 68.4-25.4 102.6-34.3" stroke="#2bb"/>
<path d="M416.8 388.9c5.1-15.5 10.2-29 15.2-41.1c8.9-21 17.7-37.6 26.5-51.2c12.9-20 25.8-33.8 38.6-44.5c18.4-15.2 36.8-24 55.2-30.2c34.2-11.6 68.4-14.7 102.6-16.9" stroke="#818"/>
<path d="M416.8 392.3c5.1-8.7 10.2-16.6 15.2-23.8c8.9-12.6 17.7-23.1 26.5-32.2c12.9-13.2 25.8-23.3 38.6-31.4c18.4-11.7 36.8-19.6 55.2-25.5c34.2-11 68.4-15.6 102.6-18.7" stroke="#c2c"/>
<path d="M416.8 392.9c5.1-17.1 10.2-31.8 15.2-44.6c8.9-22.3 17.7-39.1 26.5-52.7c12.9-19.7 25.8-32.5 38.6-42c18.4-13.6 36.8-20.6 55.2-25.4c34.2-8.9 68.4-10.5 102.6-11.8" stroke="#23e"/>
<path d="M416.8 393.4c5.1-7 10.2-13.6 15.2-19.8c8.9-10.9 17.7-20.7 26.5-29.6c12.9-13 25.8-24.2 38.6-33.9c18.4-14 36.8-25.1 55.2-34.4c34.2-17.2 68.4-28.1 102.6-36.1" stroke="#e12"/>
<path d="M416.8 388c5.1-5.1 10.2-9.9 15.2-14.6c8.9-8 17.7-15.4 26.5-22.2c12.9-10 25.8-18.8 38.6-26.6c18.4-11.2 36.8-20.4 55.2-28.3c34.2-14.8 68.4-24.9 102.6-32.6" stroke="#888"/>
<path d="M416.8 391.9c5.1-2.5 10.2-5 15.2-7.4c8.9-4.3 17.7-8.4 26.5-12.4c12.9-5.8 25.8-11.4 38.6-16.7c18.4-7.6 36.8-14.7 55.2-21.4c34.2-12.5 68.4-23.5 102.6-33.4" stroke="#e12"/>
<path d="M416.8 391.3c5.1-8 10.2-15.4 15.2-22.2c8.9-11.9 17.7-22.1 26.5-31c12.9-13 25.8-23.4 38.6-32.1c18.4-12.3 36.8-21.1 55.2-28c34.2-12.7 68.4-19 102.6-23.2" stroke="#a13"/>
<path d="M416.8 389.4c5.1-11.1 10.2-21 15.2-30c8.9-15.6 17.7-28.4 26.5-39.1c12.9-15.6 25.8-27.1 38.6-36.2c18.4-12.9 36.8-21 55.2-26.9c34.2-11 68.4-14.8 102.6-17.4" stroke="#2b4"/>
<path d="M416.8 390.5c5.1-2.5 10.2-4.8 15.2-7.2c8.9-4 17.7-8 26.5-11.7c12.9-5.5 25.8-10.7 38.6-15.7c18.4-7.1 36.8-13.6 55.2-19.7c34.2-11.2 68.4-20.9 102.6-29.4" stroke="#2b4"/>
<path d="M416.8 390.1c5.1-9.1 10.2-17.5 15.2-25.4c8.9-13.7 17.7-25.8 26.5-36.5c12.9-15.7 25.8-28.5 38.6-39.5c18.4-15.6 36.8-27.3 55.2-36.7c34.2-17.4 68.4-27 102.6-33.7" stroke="#e12"/>
<path d="M416.8 392.9c5.1-5.4 10.2-10.6 15.2-15.4c8.9-8.4 17.7-16 26.5-22.9c12.9-10 25.8-18.5 38.6-25.9c18.4-10.6 36.8-18.9 55.2-25.9c34.2-12.8 68.4-20.7 102.6-26.5" stroke="#c2c"/>
<path d="M416.8 390.6c5.1-11.5 10.2-21.8 15.2-31.1c8.9-16.3 17.7-29.6 26.5-40.8c12.9-16.5 25.8-28.6 38.6-38.3c18.4-13.7 36.8-22.5 55.2-28.9c34.2-11.9 68.4-16.3 102.6-19.2" stroke="#46e"/>
<path d="M416.8 389.3c5.1-7.4 10.2-14.2 15.2-20.4c8.9-11 17.7-20.4 26.5-28.6c12.9-12 25.8-21.6 38.6-29.6c18.4-11.4 36.8-19.5 55.2-25.8c34.2-11.8 68.4-17.5 102.6-21.5" stroke="#2b4"/>
<path d="M416.8 391.8c5.1-3.6 10.2-7.1 15.2-10.5c8.9-6 17.7-11.7 26.5-17.1c12.9-7.9 25.8-15.3 38.6-22.2c18.4-9.8 36.8-18.7 55.2-26.8c34.2-15 68.4-27.4 102.6-37.8" stroke="#000"/>
<path d="M416.8 388.4c5.1-6.7 10.2-13 15.2-18.9c8.9-10.4 17.7-19.7 26.5-28.1c12.9-12.4 25.8-22.9 38.6-32.2c18.4-13.2 36.8-23.7 55.2-32.4c34.2-16.2 68.4-26.4 102.6-33.9" stroke="#000"/>
<path d="M416.8 388.1c5.1-3.3 10.2-6.4 15.2-9.4c8.9-5.3 17.7-10.2 26.5-14.9c12.9-6.9 25.8-13.2 38.6-19c18.4-8.2 36.8-15.6 55.2-22.1c34.2-12.2 68.4-21.7 102.6-29.5" stroke="#199"/>
<path d="M416.8 391.6c5.1-5.2 10.2-10.1 15.2-14.9c8.9-8.2 17.7-15.8 26.5-22.9c12.9-10.4 25.8-19.6 38.6-27.9c18.4-11.9 36.8-22 55.2-30.7c34.2-16.2 68.4-27.8 102.6-36.9" stroke="#2b4"/>
<path d="M416.8 388.3c5.1-3.7 10.2-7.2 15.2-10.6c8.9-5.9 17.7-11.3 26.5-16.4c12.9-7.5 25.8-14.1 38.6-20.1c18.4-8.6 36.8-15.8 55.2-22.2c34.2-11.7 68.4-20.2 102.6-26.9" stroke="#2b4"/>
<path d="M416.8 388.4c5.1-12 10.2-22.4 15.2-31.6c8.9-16 17.7-28.3 26.5-38.3c12.9-14.7 25.8-24.5 38.6-32c18.4-10.6 36.8-16.4 55.2-20.4c34.2-7.5 68.4-9.2 102.6-10.5" stroke="#46e"/>
<path d="M416.8 393.5c5.1-2.7 10.2-5.2 15.2-7.7c8.9-4.3 17.7-8.4 26.5-12.3c12.9-5.6 25.8-10.8 38.6-15.6c18.4-6.8 36.8-12.8 55.2-18.3c34.2-10 68.4-18 102.6-24.5" stroke="#c2c"/>
<path d="M416.8 391.5c5.1-8.3 10.2-16 15.2-23.1c8.9-12.4 17.7-23.1 26.5-32.6c12.9-13.9 25.8-25.1 38.6-34.4c18.4-13.4 36.8-23.2 55.2-30.9c34.2-14.3 68.4-21.6 102.6-26.7" stroke="#888"/>
<path d="M416.8 389.3c5.1-4.6 10.2-8.9 15.2-12.9c8.9-7 17.7-13.3 26.5-19c12.9-8.2 25.8-15.2 38.6-21.2c18.4-8.6 36.8-15.3 55.2-20.7c34.2-10.2 68.4-16.3 102.6-20.8" stroke="#a13"/>
<path d="M416.8 388.7c5.1-3.9 10.2-7.7 15.2-11.3c8.9-6.3 17.7-12.3 26.5-17.8c12.9-8.1 25.8-15.4 38.6-22.1c18.4-9.5 36.8-17.8 55.2-25.1c34.2-13.5 68.4-23.6 102.6-31.8" stroke="#2bb"/>
<path d="M416.8 393.2c5.1-5.3 10.2-10.4 15.2-15.2c8.9-8.5 17.7-16.3 26.5-23.6c12.9-10.6 25.8-20.1 38.6-28.7c18.4-12.2 36.8-22.6 55.2-31.6c34.2-16.8 68.4-28.9 102.6-38.4" stroke="#818"/>
<path d="M416.8 391c5.1-4.4 10.2-8.7 15.2-12.7c8.9-7.1 17.7-13.7 26.5-19.9c12.9-9 25.8-17.1 38.6-24.4c18.4-10.5 36.8-19.5 55.2-27.4c34.2-14.7 68.4-25.4 102.6-34" stroke="#23e"/>
<path d="M416.8 389.2c5.1-14.1 10.2-26.4 15.2-37.4c8.9-19.1 17.7-34.1 26.5-46.5c12.9-18.1 25.8-30.6 38.6-40.3c18.4-13.8 36.8-21.6 55.2-27.3c34.2-10.4 68.4-13.2 102.6-15.2" stroke="#2b4"/>
<path d="M416.8 389.8c5.1-6.9 10.2-13.3 15.2-19.3c8.9-10.5 17.7-19.6 26.5-27.7c12.9-11.8 25.8-21.5 38.6-29.7c18.4-11.7 36.8-20.3 55.2-27.2c34.2-12.9 68.4-19.8 102.6-24.6" stroke="#fff"/>
<path d="M416.8 393.2c5.1-12.9 10.2-24.3 15.2-34.4c8.9-17.7 17.7-31.7 26.5-43.3c12.9-16.9 25.8-28.8 38.6-37.9c18.4-13.1 36.8-20.8 55.2-26.3c34.2-10.2 68.4-13.1 102.6-15.1" stroke="#199"/>
<path d="M416.8 393.3c5.1-5.8 10.2-11.4 15.2-16.6c8.9-9.1 17.7-17.4 26.5-25c12.9-11 25.8-20.6 38.6-29c18.4-12.1 36.8-21.9 55.2-30.1c34.2-15.2 68.4-25.2 102.6-32.6" stroke="#000"/>
<path d="M416.8 390.9c5.1-5 10.2-9.9 15.2-14.5c8.9-7.9 17.7-15.2 26.5-21.9c12.9-9.8 25.8-18.2 38.6-25.8c18.4-10.7 36.8-19.5 55.2-26.9c34.2-13.9 68.4-23.1 102.6-30" stroke="#23e"/>
<path d="M416.8 392.2c5.1-3.2 10.2-6.3 15.2-9.3c8.9-5.4 17.7-10.5 26.5-15.4c12.9-7.2 25.8-14 38.6-20.4c18.4-9.2 36.8-17.7 55.2-25.5c34.2-14.6 68.4-27.1 102.6-38" stroke="#2b4"/>
<path d="M416.8 392.9c5.1-3.4 10.2-6.7 15.2-9.9c8.9-5.6 17.7-10.9 26.5-15.9c12.9-7.3 25.8-14 38.6-20.3c18.4-8.9 36.8-16.8 55.2-23.9c34.2-13.2 68.4-23.7 102.6-32.4" stroke="#e12"/>
<path d="M416.8 390.8c5.1-6 10.2-11.6 15.2-16.8c8.9-9.1 17.7-17 26.5-24c12.9-10.3 25.8-18.6 38.6-25.7c18.4-10.1 36.8-17.6 55.2-23.6c34.2-11 68.4-17 102.6-21.1" stroke="#818"/>
<path d="M416.8 390.7c5.1-3.8 10.2-7.5 15.2-10.9c8.9-6.1 17.7-11.7 26.5-16.9c12.9-7.6 25.8-14.2 38.6-20.2c18.4-8.6 36.8-15.7 55.2-21.8c34.2-11.4 68.4-19.4 102.6-25.5" stroke="#e4a"/>
<path d="M416.8 390.8c5.1-6.6 10.2-12.8 15.2-18.8c8.9-10.3 17.7-19.8 26.5-28.4c12.9-12.6 25.8-23.6 38.6-33.3c18.4-13.9 36.8-25.1 55.2-34.6c34.2-17.8 68.4-29.5 102.6-38.3" stroke="#990"/>
<path d="M416.8 392.7c5.1-4.7 10.2-9.3 15.2-13.6c8.9-7.5 17.7-14.5 26.5-20.9c12.9-9.4 25.8-17.8 38.6-25.3c18.4-10.7 36.8-19.6 55.2-27.4c34.2-14.4 68.4-24.5 102.6-32.4" stroke="#199"/>
<path d="M416.8 389.3c5.1-16.2 10.2-30.3 15.2-42.6c8.9-21.5 17.7-38 26.5-51.4c12.9-19.5 25.8-32.5 38.6-42.3c18.4-14 36.8-21.5 55.2-26.7c34.2-9.7 68.4-11.8 102.6-13.3" stroke="#23e"/>
<path d="M416.8 390.4c5.1-7.3 10.2-14 15.2-20.2c8.9-10.9 17.7-20.3 26.5-28.7c12.9-12.2 25.8-22.1 38.6-30.5c18.4-11.9 36.8-20.7 55.2-27.6c34.2-12.9 68.4-19.7 102.6-24.4" stroke="#c2c"/>
<path d="M416.8 390.2c5.1-15.1 10.2-28.5 15.2-40.5c8.9-20.9 17.7-37.7 26.5-51.7c12.9-20.4 25.8-35 38.6-46.4c18.4-16.3 36.8-26.1 55.2-33.2c34.2-13.2 68.4-17.3 102.6-20.1" stroke="#e80"/>
<path d="M416.8 392.5c5.1-11.2 10.2-21.4 15.2-30.6c8.9-16.1 17.7-29.5 26.5-41c12.9-16.7 25.8-29.3 38.6-39.4c18.4-14.5 36.8-24 55.2-31.1c34.2-13.3 68.4-18.6 102.6-22.1" stroke="#888"/>
<path d="M416.8 390.1c5.1-9.2 10.2-17.6 15.2-25.4c8.9-13.5 17.7-25.1 26.5-35.3c12.9-14.9 25.8-26.6 38.6-36.4c18.4-14 36.8-23.9 55.2-31.7c34.2-14.3 68.4-21.3 102.6-26" stroke="#2b4"/>
<path d="M416.8 392.4c5.1-5.2 10.2-10.2 15.2-14.8c8.9-8.1 17.7-15.4 26.5-22c12.9-9.6 25.8-17.7 38.6-24.7c18.4-10.1 36.8-18 55.2-24.5c34.2-12.1 68.4-19.5 102.6-24.9" stroke="#2b4"/>
<path d="M416.8 388.2c5.1-10.6 10.2-20.1 15.2-28.7c8.9-15 17.7-27.5 26.5-38.1c12.9-15.5 25.8-27.1 38.6-36.5c18.4-13.3 36.8-22 55.2-28.5c34.2-12 68.4-16.7 102.6-19.9" stroke="#199"/>
<path d="M416.8 391.6c5.1-5.4 10.2-10.4 15.2-15.2c8.9-8.2 17.7-15.6 26.5-22.3c12.9-9.7 25.8-18 38.6-25.1c18.4-10.2 36.8-18.3 55.2-24.8c34.2-12.3 68.4-19.7 102.6-25.1" stroke="#888"/>
<path d="M416.8 390.6c5.1-8.8 10.2-16.9 15.2-24.5c8.9-13 17.7-24.3 26.5-34.2c12.9-14.4 25.8-25.9 38.6-35.5c18.4-13.7 36.8-23.5 55.2-31.1c34.2-14.2 68.4-21.2 102.6-26" stroke="#fff"/>
<path d="M416.8 392.5c5.1-4.2 10.2-8.2 15.2-12c8.9-6.6 17.7-12.8 26.5-18.4c12.9-8.3 25.8-15.6 38.6-22.1c18.4-9.3 36.8-17.1 55.2-23.8c34.2-12.4 68.4-21.1 102.6-27.7" stroke="#c2c"/>
<path d="M416.8 391.7c5.1-15.7 10.2-29.2 15.2-41.1c8.9-20.6 17.7-36.2 26.5-48.7c12.9-18.3 25.8-30.2 38.6-39.1c18.4-12.6 36.8-19.2 55.2-23.7c34.2-8.4 68.4-9.9 102.6-11.1" stroke="#c2c"/>
<path d="M416.8 389.3c5.1-13.4 10.2-25.3 15.2-36c8.9-18.7 17.7-33.9 26.5-46.7c12.9-18.6 25.8-32.3 38.6-43.1c18.4-15.3 36.8-24.9 55.2-31.9c34.2-13.1 68.4-17.6 102.6-20.6" stroke="#c2c"/>
<path d="M416.8 388.2c5.1-8 10.2-15.4 15.2-22.1c8.9-11.7 17.7-21.5 26.5-30.1c12.9-12.4 25.8-22 38.6-29.9c18.4-11.3 36.8-18.9 55.2-24.8c34.2-10.8 68.4-15.6 102.6-18.8" stroke="#2b4"/>
<path d="M416.8 389c5.1-5.2 10.2-10 15.2-14.5c8.9-7.7 17.7-14.5 26.5-20.6c12.9-8.8 25.8-16 38.6-22c18.4-8.7 36.8-15.1 55.2-20.1c34.2-9.5 68.4-14.5 102.6-18" stroke="#23e"/>
<path d="M416.8 390.9c5.1-9.5 10.2-18.1 15.2-26.1c8.9-13.9 17.7-25.8 26.5-36.2c12.9-15.1 25.8-27.1 38.6-37c18.4-14.1 36.8-24.1 55.2-31.7c34.2-14.3 68.4-21.1 102.6-25.7" stroke="#23e"/>
<path d="M416.8 389.5c5.1-4.3 10.2-8.3 15.2-12.1c8.9-6.7 17.7-12.7 26.5-18.1c12.9-7.9 25.8-14.8 38.6-20.7c18.4-8.5 36.8-15.3 55.2-21c34.2-10.5 68.4-17.1 102.6-22" stroke="#e12"/>
<path d="M416.8 388.4c5.1-6.3 10.2-12.2 15.2-17.8c8.9-9.8 17.7-18.7 26.5-26.8c12.9-11.8 25.8-22.1 38.6-31.1c18.4-13 36.8-23.4 55.2-32.2c34.2-16.4 68.4-27 102.6-35" stroke="#e80"/>
<path d="M416.8 388.4c5.1-4.6 10.2-8.9 15.2-13.1c8.9-7.2 17.7-13.9 26.5-20c12.9-9 25.8-16.9 38.6-24c18.4-10.1 36.8-18.5 55.2-25.7c34.2-13.5 68.4-22.8 102.6-29.9" stroke="#23e"/>
<path d="M416.8 392.1c5.1-5.5 10.2-10.6 15.2-15.6c8.9-8.6 17.7-16.4 26.5-23.6c12.9-10.5 25.8-19.7 38.6-27.9c18.4-11.6 36.8-21.1 55.2-29.2c34.2-15 68.4-25.1 102.6-32.7" stroke="#e12"/>
<path d="M416.8 391.3c5.1-7.8 10.2-15.2 15.2-22.1c8.9-12 17.7-22.7 26.5-32.3c12.9-14 25.8-25.7 38.6-35.9c18.4-14.5 36.8-25.6 55.2-34.8c34.2-16.9 68.4-26.9 102.6-34" stroke="#c2c"/>
<path d="M416.8 390.5c5.1-14.4 10.2-26.7 15.2-37.4c8.9-18.8 17.7-32.9 26.5-44.2c12.9-16.6 25.8-27.3 38.6-35.3c18.4-11.4 36.8-17.3 55.2-21.3c34.2-7.5 68.4-8.8 102.6-9.9" stroke="#199"/>
<path d="M416.8 391.3c5.1-6.9 10.2-13.4 15.2-19.4c8.9-10.5 17.7-19.9 26.5-28.3c12.9-12.3 25.8-22.5 38.6-31.4c18.4-12.7 36.8-22.5 55.2-30.4c34.2-14.8 68.4-23.5 102.6-29.8" stroke="#2bb"/>
<path d="M416.8 389.7c5.1-3 10.2-5.8 15.2-8.5c8.9-4.7 17.7-9.1 26.5-13.1c12.9-5.9 25.8-11.1 38.6-15.8c18.4-6.7 36.8-12.3 55.2-17.1c34.2-9 68.4-15.4 102.6-20.3" stroke="#e12"/>
<path d="M416.8 391.3c5.1-7.5 10.2-14.3 15.2-20.6c8.9-11.1 17.7-20.6 26.5-29c12.9-12.3 25.8-22.1 38.6-30.4c18.4-11.7 36.8-20.2 55.2-26.9c34.2-12.4 68.4-18.7 102.6-23" stroke="#e12"/>
<path d="M416.8 390c5.1-5.1 10.2-9.9 15.2-14.4c8.9-7.8 17.7-14.7 26.5-20.9c12.9-9.1 25.8-16.6 38.6-23.2c18.4-9.3 36.8-16.4 55.2-22.2c34.2-10.8 68.4-17.1 102.6-21.5" stroke="#82e"/>
<path d="M416.8 388.4c5.1-3 10.2-5.9 15.2-8.7c8.9-4.9 17.7-9.5 26.5-13.8c12.9-6.3 25.8-12.1 38.6-17.4c18.4-7.6 36.8-14.3 55.2-20.3c34.2-11.1 68.4-19.7 102.6-26.7" stroke="#e4a"/>
<path d="M416.8 391.4c5.1-3.3 10.2-6.4 15.2-9.3c8.9-5.1 17.7-9.9 26.5-14.3c12.9-6.4 25.8-12.2 38.6-17.3c18.4-7.4 36.8-13.6 55.2-19c34.2-10 68.4-17.1 102.6-22.7" stroke="#888"/>
<path d="M416.8 392.9c5.1-6.9 10.2-13.4 15.2-19.6c8.9-10.7 17.7-20.3 26.5-29.1c12.9-12.7 25.8-23.5 38.6-32.9c18.4-13.5 36.8-24.1 55.2-32.9c34.2-16.3 68.4-26.4 102.6-33.8" stroke="#e12"/>
<path d="M416.8 389c5.1-12 10.2-22.7 15.2-32.2c8.9-16.7 17.7-30 26.5-41.1c12.9-16.3 25.8-27.9 38.6-36.9c18.4-12.9 36.8-20.7 55.2-26.3c34.2-10.4 68.4-13.7 102.6-15.9" stroke="#e12"/>
<path d="M416.8 392.4c5.1-2.9 10.2-5.7 15.2-8.4c8.9-4.8 17.7-9.3 26.5-13.5c12.9-6.2 25.8-11.9 38.6-17.2c18.4-7.5 36.8-14.2 55.2-20.2c34.2-11.2 68.4-20 102.6-27.2" stroke="#818"/>
<path d="M416.8 393.2c5.1-5.4 10.2-10.4 15.2-15.1c8.9-8.1 17.7-15.3 26.5-21.7c12.9-9.4 25.8-17.1 38.6-23.7c18.4-9.5 36.8-16.6 55.2-22.3c34.2-10.7 68.4-16.7 102.6-20.9" stroke="#23e"/>
<path d="M416.8 388.2c5.1-5.8 10.2-11.3 15.2-16.6c8.9-9.2 17.7-17.6 26.5-25.4c12.9-11.4 25.8-21.4 38.6-30.3c18.4-12.7 36.8-23.3 55.2-32.3c34.2-16.8 68.4-28.4 102.6-37.2" stroke="#23e"/>
<path d="M416.8 389.8c5.1-9.3 10.2-18 15.2-26c8.9-13.9 17.7-26.1 26.5-36.8c12.9-15.7 25.8-28.5 38.6-39.2c18.4-15.3 36.8-26.5 55.2-35.4c34.2-16.6 68.4-25.2 102.6-31.3" stroke="#a13"/>
<path d="M416.8 391.4c5.1-3.3 10.2-6.4 15.2-9.4c8.9-5.1 17.7-10 26.5-14.5c12.9-6.6 25.8-12.5 38.6-17.9c18.4-7.7 36.8-14.3 55.2-20.1c34.2-10.7 68.4-18.6 102.6-24.9" stroke="#888"/>
<path d="M416.8 390.7c5.1-11.5 10.2-21.8 15.2-31c8.9-16 17.7-29.1 26.5-40c12.9-16 25.8-27.7 38.6-36.8c18.4-13.1 36.8-21.2 55.2-27.2c34.2-11 68.4-14.7 102.6-17.2" stroke="#46e"/>
<path d="M416.8 393c5.1-6.5 10.2-12.8 15.2-18.7c8.9-10.3 17.7-19.8 26.5-28.5c12.9-12.7 25.8-23.8 38.6-33.7c18.4-14 36.8-25.6 55.2-35.5c34.2-18.3 68.4-30.7 102.6-40.1" stroke="#a13"/>
<path d="M416.8 390.5c5.1-9.1 10.2-17.5 15.2-25.4c8.9-13.6 17.7-25.5 26.5-36.1c12.9-15.4 25.8-28 38.6-38.6c18.4-15.1 36.8-26.3 55.2-35.2c34.2-16.6 68.4-25.4 102.6-31.5" stroke="#46e"/>
<path d="M416.8 392.6c5.1-4 10.2-7.8 15.2-11.5c8.9-6.3 17.7-12.1 26.5-17.5c12.9-7.8 25.8-14.6 38.6-20.6c18.4-8.6 36.8-15.7 55.2-21.7c34.2-11.1 68.4-18.7 102.6-24.3" stroke="#e12"/>
<path d="M416.8 392.4c5.1-6.5 10.2-12.4 15.2-17.9c8.9-9.7 17.7-18.1 26.5-25.6c12.9-10.9 25.8-19.8 38.6-27.3c18.4-10.7 36.8-18.7 55.2-25c34.2-11.7 68.4-18 102.6-22.4" stroke="#82e"/>
<path d="M416.8 391.4c5.1-3.2 10.2-6.3 15.2-9.3c8.9-5.3 17.7-10.3 26.5-15.1c12.9-6.9 25.8-13.3 38.6-19.3c18.4-8.6 36.8-16.2 55.2-23.1c34.2-12.8 68.4-23.1 102.6-31.7" stroke="#c2c"/>
<path d="M416.8 388.1c5.1-9.8 10.2-18.8 15.2-27c8.9-14.3 17.7-26.5 26.5-37c12.9-15.4 25.8-27.4 38.6-37.2c18.4-14.1 36.8-23.8 55.2-31.2c34.2-13.8 68.4-20 102.6-24.3" stroke="#2bb"/>
<path d="M416.8 391.8c5.1-3.5 10.2-6.7 15.2-9.9c8.9-5.4 17.7-10.5 26.5-15.1c12.9-6.8 25.8-12.7 38.6-18.1c18.4-7.6 36.8-14 55.2-19.4c34.2-10.1 68.4-17.1 102.6-22.5" stroke="#888"/>
<path d="M416.8 390.4c5.1-12.9 10.2-24.5 15.2-34.9c8.9-18.2 17.7-33 26.5-45.6c12.9-18.3 25.8-31.8 38.6-42.5c18.4-15.3 36.8-24.9 55.2-32c34.2-13.2 68.4-17.9 102.6-21.1" stroke="#818"/>
<path d="M416.8 392.7c5.1-11.4 10.2-21.5 15.2-30.7c8.9-16 17.7-29 26.5-40c12.9-16 25.8-27.8 38.6-37c18.4-13.3 36.8-21.5 55.2-27.6c34.2-11.3 68.4-15.2 102.6-17.8" stroke="#000"/>
<path d="M416.8 392.8c5.1-4.3 10.2-8.5 15.2-12.6c8.9-6.9 17.7-13.4 26.5-19.4c12.9-8.8 25.8-16.6 38.6-23.6c18.4-10.1 36.8-18.5 55.2-25.9c34.2-13.6 68.4-23.3 102.6-30.9" stroke="#e4a"/>
<path d="M416.8 390.2c5.1-7.7 10.2-14.7 15.2-21.2c8.9-11.2 17.7-20.8 26.5-29.2c12.9-12.3 25.8-22 38.6-30c18.4-11.4 36.8-19.5 55.2-25.7c34.2-11.6 68.4-17.1 102.6-20.8" stroke="#000"/>
<path d="M416.8 389.7c5.1-2.8 10.2-5.5 15.2-8.2c8.9-4.6 17.7-9 26.5-13.2c12.9-6.2 25.8-11.9 38.6-17.3c18.4-7.7 36.8-14.7 55.2-21.1c34.2-11.9 68.4-21.7 102.6-30.1" stroke="#118"/>
<path d="M416.8 388.3c5.1-4.8 10.2-9.3 15.2-13.5c8.9-7.3 17.7-13.7 26.5-19.5c12.9-8.5 25.8-15.5 38.6-21.6c18.4-8.7 36.8-15.3 55.2-20.7c34.2-10.1 68.4-15.9 102.6-20" stroke="#23e"/>
<path d="M416.8 391.2c5.1-9.8 10.2-18.7 15.2-26.9c8.9-14.2 17.7-26.3 26.5-36.8c12.9-15.3 25.8-27.2 38.6-37c18.4-14 36.8-23.6 55.2-31c34.2-13.8 68.4-19.9 102.6-24.1" stroke="#c2c"/>
<path d="M416.8 390.7c5.1-3.6 10.2-7.1 15.2-10.4c8.9-5.7 17.7-11.1 26.5-16c12.9-7.3 25.8-13.9 38.6-19.8c18.4-8.5 36.8-15.7 55.2-22.1c34.2-11.7 68.4-20.4 102.6-27.2" stroke="#82e"/>
<path d="M416.8 390.1c5.1-6.3 10.2-12.1 15.2-17.6c8.9-9.6 17.7-18 26.5-25.6c12.9-11.1 25.8-20.4 38.6-28.3c18.4-11.4 36.8-20.1 55.2-27.2c34.2-13.2 68.4-20.9 102.6-26.4" stroke="#199"/>
<path d="M416.8 390.7c5.1-13.5 10.2-25.5 15.2-36.2c8.9-18.7 17.7-33.6 26.5-46.1c12.9-18.3 25.8-31.3 38.6-41.5c18.4-14.5 36.8-23.3 55.2-29.6c34.2-11.8 68.4-15.4 102.6-17.9" stroke="#a2a"/>
<path d="M416.8 391.5c5.1-3.9 10.2-7.7 15.2-11.4c8.9-6.3 17.7-12.2 26.5-17.7c12.9-7.9 25.8-15.1 38.6-21.5c18.4-9.2 36.8-16.9 55.2-23.7c34.2-12.5 68.4-21.5 102.6-28.6" stroke="#199"/>
<path d="M416.8 393.5c5.1-6 10.2-11.6 15.2-16.8c8.9-9.2 17.7-17.4 26.5-24.7c12.9-10.8 25.8-19.8 38.6-27.7c18.4-11.1 36.8-19.8 55.2-26.9c34.2-13.2 68.4-21 102.6-26.7" stroke="#e12"/>
<path d="M416.8 388.5c5.1-11.3 10.2-21.6 15.2-31c8.9-16.4 17.7-30.1 26.5-42c12.9-17.3 25.8-30.6 38.6-41.4c18.4-15.4 36.8-25.7 55.2-33.6c34.2-14.6 68.4-20.8 102.6-25" stroke="#82e"/>
<path d="M416.8 393.5c5.1-3.1 10.2-6 15.2-8.9c8.9-5.1 17.7-9.9 26.5-14.5c12.9-6.7 25.8-12.9 38.6-18.8c18.4-8.3 36.8-15.9 55.2-22.8c34.2-12.8 68.4-23.3 102.6-32.3" stroke="#23e"/>
<path d="M416.8 389.8c5.1-4.3 10.2-8.4 15.2-12.4c8.9-6.8 17.7-13.1 26.5-18.9c12.9-8.5 25.8-16 38.6-22.6c18.4-9.6 36.8-17.5 55.2-24.3c34.2-12.6 68.4-21.3 102.6-27.9" stroke="#e12"/>
<path d="M416.8 392.6c5.1-6.7 10.2-13 15.2-18.9c8.9-10.3 17.7-19.3 26.5-27.5c12.9-11.8 25.8-21.7 38.6-30.1c18.4-12 36.8-21.2 55.2-28.6c34.2-13.8 68.4-21.7 102.6-27.3" stroke="#818"/>
<path d="M416.8 390.9c5.1-3.4 10.2-6.6 15.2-9.7c8.9-5.4 17.7-10.2 26.5-14.6c12.9-6.4 25.8-11.9 38.6-16.8c18.4-6.9 36.8-12.4 55.2-17c34.2-8.5 68.4-14 102.6-18" stroke="#23e"/>
<path d="M416.8 392.6c5.1-7.4 10.2-14.1 15.2-20.3c8.9-10.9 17.7-20.3 26.5-28.5c12.9-12 25.8-21.6 38.6-29.6c18.4-11.5 36.8-19.7 55.2-26.1c34.2-12 68.4-17.9 102.6-22" stroke="#2b4"/>
<path d="M416.8 392.7c5.1-3.8 10.2-7.5 15.2-11.1c8.9-6.2 17.7-12 26.5-17.5c12.9-8.1 25.8-15.5 38.6-22.3c18.4-9.7 36.8-18.3 55.2-26c34.2-14.3 68.4-25.4 102.6-34.6" stroke="#23e"/>
<path d="M416.8 390.8c5.1-5.9 10.2-11.5 15.2-16.8c8.9-9.1 17.7-17.4 26.5-25c12.9-11 25.8-20.5 38.6-28.8c18.4-11.8 36.8-21.3 55.2-29.2c34.2-14.7 68.4-24 102.6-30.9" stroke="#990"/>
<path d="M416.8 392.9c5.1-2.1 10.2-4 15.2-6c8.9-3.3 17.7-6.6 26.5-9.7c12.9-4.5 25.8-8.8 38.6-12.9c18.4-5.8 36.8-11.2 55.2-16.2c34.2-9.3 68.4-17.2 102.6-24.1" stroke="#818"/>
<path d="M416.8 391.1c5.1-2.6 10.2-5.2 15.2-7.8c8.9-4.4 17.7-8.7 26.5-12.8c12.9-6.1 25.8-11.9 38.6-17.4c18.4-7.9 36.8-15.3 55.2-22.3c34.2-12.9 68.4-24.3 102.6-34.5" stroke="#e12"/>
<path d="M416.8 388.9c5.1-2.3 10.2-4.6 15.2-6.9c8.9-3.8 17.7-7.6 26.5-11.1c12.9-5.2 25.8-10.1 38.6-14.6c18.4-6.5 36.8-12.5 55.2-17.9c34.2-10.1 68.4-18.4 102.6-25.6" stroke="#000"/>
<path d="M416.8 390.2c5.1-2.5 10.2-4.8 15.2-7.2c8.9-4 17.7-7.9 26.5-11.6c12.9-5.5 25.8-10.6 38.6-15.5c18.4-7 36.8-13.3 55.2-19.2c34.2-11 68.4-20.3 102.6-28.3" stroke="#2b4"/>
<path d="M416.8 392.1c5.1-1.7 10.2-3.4 15.2-5.1c8.9-3 17.7-5.9 26.5-8.7c12.9-4.2 25.8-8.2 38.6-12.1c18.4-5.5 36.8-10.9 55.2-16c34.2-9.4 68.4-18.2 102.6-26.2" stroke="#888"/>
<path d="M416.8 391.6c5.1-2.7 10.2-5.4 15.2-8c8.9-4.4 17.7-8.7 26.5-12.7c12.9-5.9 25.8-11.4 38.6-16.6c18.4-7.3 36.8-13.9 55.2-19.9c34.2-11.2 68.4-20.3 102.6-28" stroke="#818"/>
<path d="M416.8 389.6c5.1-9.5 10.2-18.3 15.2-26.3c8.9-14 17.7-26 26.5-36.4c12.9-15.3 25.8-27.3 38.6-37.2c18.4-14.2 36.8-24.2 55.2-31.9c34.2-14.3 68.4-21 102.6-25.6" stroke="#e12"/>
<path d="M416.8 393.4c5.1-10.8 10.2-20.6 15.2-29.6c8.9-15.7 17.7-29 26.5-40.6c12.9-16.9 25.8-30.1 38.6-41c18.4-15.5 36.8-26.2 55.2-34.4c34.2-15.3 68.4-22.3 102.6-27" stroke="#c2c"/>
<path d="M416.8 389.5c5.1-9.2 10.2-17.7 15.2-25.5c8.9-13.6 17.7-25.3 26.5-35.7c12.9-15 25.8-27 38.6-37c18.4-14.4 36.8-24.6 55.2-32.6c34.2-15 68.4-22.3 102.6-27.4" stroke="#23e"/>
<path d="M416.8 392.8c5.1-2.7 10.2-5.3 15.2-7.8c8.9-4.3 17.7-8.3 26.5-12.2c12.9-5.6 25.8-10.6 38.6-15.3c18.4-6.6 36.8-12.4 55.2-17.5c34.2-9.6 68.4-16.8 102.6-22.7" stroke="#2bb"/>
<path d="M416.8 391.3c5.1-6.5 10.2-12.5 15.2-18c8.9-9.6 17.7-17.8 26.5-25.1c12.9-10.5 25.8-18.9 38.6-25.8c18.4-10 36.8-17.1 55.2-22.6c34.2-10.2 68.4-15.2 102.6-18.6" stroke="#000"/>
<path d="M416.8 389.3c5.1-8.1 10.2-15.4 15.2-22.2c8.9-11.7 17.7-21.8 26.5-30.5c12.9-12.8 25.8-22.9 38.6-31.1c18.4-11.9 36.8-20.1 55.2-26.5c34.2-11.9 68.4-17.4 102.6-21.2" stroke="#e12"/>
<path d="M416.8 389.3c5.1-6.1 10.2-11.8 15.2-17.1c8.9-9.4 17.7-17.7 26.5-25.3c12.9-11.1 25.8-20.5 38.6-28.7c18.4-11.7 36.8-20.9 55.2-28.6c34.2-14.1 68.4-22.9 102.6-29.2" stroke="#2b4"/>
<path d="M416.8 391.4c5.1-5.8 10.2-11.3 15.2-16.6c8.9-9.2 17.7-17.7 26.5-25.7c12.9-11.6 25.8-22 38.6-31.3c18.4-13.4 36.8-24.8 55.2-34.7c34.2-18.3 68.4-31.6 102.6-42" stroke="#000"/>
<path d="M416.8 391.9c5.1-4.4 10.2-8.7 15.2-12.9c8.9-7.2 17.7-14.1 26.5-20.5c12.9-9.4 25.8-18.1 38.6-26c18.4-11.4 36.8-21.4 55.2-30.4c34.2-16.6 68.4-29.7 102.6-40.4" stroke="#82e"/>
<path d="M416.8 388.9c5.1-5.5 10.2-10.7 15.2-15.7c8.9-8.8 17.7-16.9 26.5-24.4c12.9-11 25.8-20.9 38.6-29.8c18.4-12.7 36.8-23.5 55.2-32.9c34.2-17.5 68.4-30.1 102.6-40.1" stroke="#46e"/>
<path d="M416.8 392.7c5.1-2.4 10.2-4.8 15.2-7c8.9-4 17.7-7.8 26.5-11.5c12.9-5.3 25.8-10.3 38.6-15c18.4-6.7 36.8-12.9 55.2-18.6c34.2-10.5 68.4-19.3 102.6-27" stroke="#818"/>
<path d="M416.8 391c5.1-3.7 10.2-7.2 15.2-10.5c8.9-5.7 17.7-10.9 26.5-15.7c12.9-6.8 25.8-12.8 38.6-18c18.4-7.4 36.8-13.3 55.2-18.3c34.2-9.2 68.4-15.1 102.6-19.4" stroke="#2bb"/>
<path d="M416.8 389c5.1-5.7 10.2-11.1 15.2-16.1c8.9-8.7 17.7-16.4 26.5-23.3c12.9-10 25.8-18.4 38.6-25.5c18.4-10.2 36.8-17.9 55.2-24.1c34.2-11.6 68.4-18.1 102.6-22.8" stroke="#818"/>
<path d="M416.8 389.4c5.1-10.5 10.2-20.1 15.2-28.9c8.9-15.3 17.7-28.3 26.5-39.6c12.9-16.5 25.8-29.4 38.6-39.9c18.4-15.1 36.8-25.5 55.2-33.5c34.2-14.9 68.4-21.6 102.6-26.2" stroke="#2bb"/>
<path d="M416.8 392.4c5.1-6.8 10.2-12.9 15.2-18.6c8.9-9.9 17.7-18.4 26.5-25.8c12.9-10.9 25.8-19.5 38.6-26.6c18.4-10.3 36.8-17.5 55.2-23.1c34.2-10.5 68.4-15.6 102.6-19.1" stroke="#888"/>
<path d="M416.8 392.4c5.1-4.9 10.2-9.6 15.2-14c8.9-7.8 17.7-14.9 26.5-21.5c12.9-9.7 25.8-18.3 38.6-25.9c18.4-11 36.8-20.2 55.2-28.1c34.2-14.7 68.4-25.1 102.6-33.1" stroke="#a13"/>
<path d="M416.8 388.7c5.1-9.3 10.2-17.9 15.2-25.8c8.9-13.8 17.7-25.8 26.5-36.3c12.9-15.3 25.8-27.6 38.6-37.9c18.4-14.7 36.8-25.3 55.2-33.7c34.2-15.4 68.4-23.2 102.6-28.6" stroke="#818"/>
<path d="M416.8 389.1c5.1-9.8 10.2-18.8 15.2-27.1c8.9-14.4 17.7-26.8 26.5-37.6c12.9-15.7 25.8-28.1 38.6-38.4c18.4-14.7 36.8-25.1 55.2-33.1c34.2-14.9 68.4-21.9 102.6-26.8" stroke="#c2c"/>
<path d="M416.8 392.9c5.1-9.8 10.2-18.5 15.2-26.4c8.9-13.8 17.7-25.2 26.5-34.9c12.9-14 25.8-24.5 38.6-32.8c18.4-12 36.8-19.6 55.2-25.3c34.2-10.5 68.4-14.4 102.6-17" stroke="#818"/>
<path d="M416.8 389.6c5.1-9.4 10.2-17.9 15.2-25.8c8.9-13.7 17.7-25.4 26.5-35.5c12.9-14.8 25.8-26.4 38.6-35.9c18.4-13.6 36.8-23 55.2-30.3c34.2-13.5 68.4-19.7 102.6-23.9" stroke="#2b4"/>
<path d="M416.8 391.6c5.1-6.3 10.2-12.3 15.2-18c8.9-10 17.7-19.1 26.5-27.5c12.9-12.3 25.8-23.1 38.6-32.7c18.4-13.8 36.8-25.1 55.2-34.8c34.2-18.1 68.4-30.5 102.6-39.9" stroke="#2bb"/>
<path d="M416.8 391.5c5.1-13.4 10.2-25.3 15.2-36.1c8.9-18.6 17.7-33.7 26.5-46.4c12.9-18.5 25.8-32 38.6-42.6c18.4-15.1 36.8-24.4 55.2-31.2c34.2-12.6 68.4-16.8 102.6-19.6" stroke="#23e"/>
<path d="M416.8 391.9c5.1-7.1 10.2-13.7 15.2-19.9c8.9-10.9 17.7-20.6 26.5-29.3c12.9-12.7 25.8-23.4 38.6-32.7c18.4-13.2 36.8-23.5 55.2-31.9c34.2-15.7 68.4-25 102.6-31.7" stroke="#23e"/>
<path d="M416.8 392.8c5.1-4.9 10.2-9.4 15.2-13.7c8.9-7.4 17.7-14.1 26.5-20c12.9-8.7 25.8-16.1 38.6-22.4c18.4-9 36.8-16 55.2-21.8c34.2-10.6 68.4-16.9 102.6-21.5" stroke="#e4a"/>
<path d="M416.8 389.3c5.1-3.4 10.2-6.6 15.2-9.7c8.9-5.3 17.7-10.3 26.5-15c12.9-6.8 25.8-13 38.6-18.6c18.4-7.9 36.8-14.8 55.2-20.8c34.2-11.1 68.4-19.3 102.6-25.8" stroke="#e12"/>
<path d="M416.8 392.3c5.1-5.7 10.2-11.1 15.2-16.2c8.9-8.8 17.7-16.8 26.5-24.1c12.9-10.6 25.8-19.6 38.6-27.5c18.4-11.4 36.8-20.4 55.2-27.9c34.2-13.9 68.4-22.7 102.6-29.1" stroke="#c2c"/>
<path d="M416.8 392c5.1-2.4 10.2-4.9 15.2-7.2c8.9-4.2 17.7-8.1 26.5-12c12.9-5.5 25.8-10.7 38.6-15.7c18.4-7 36.8-13.5 55.2-19.4c34.2-11.1 68.4-20.5 102.6-28.5" stroke="#000"/>
<path d="M416.8 393.5c5.1-7.1 10.2-13.7 15.2-19.8c8.9-10.8 17.7-20.3 26.5-28.9c12.9-12.5 25.8-23 38.6-32c18.4-12.8 36.8-22.7 55.2-30.7c34.2-14.9 68.4-23.6 102.6-29.8" stroke="#2bb"/>
<path d="M416.8 392.5c5.1-5.1 10.2-9.9 15.2-14.4c8.9-7.9 17.7-14.8 26.5-21.1c12.9-9.1 25.8-16.7 38.6-23.3c18.4-9.3 36.8-16.5 55.2-22.4c34.2-10.8 68.4-17.2 102.6-21.7" stroke="#46e"/>
<path d="M416.8 389.8c5.1-5.8 10.2-11.1 15.2-16.2c8.9-8.9 17.7-16.8 26.5-24c12.9-10.5 25.8-19.4 38.6-27.1c18.4-11.1 36.8-19.8 55.2-27c34.2-13.3 68.4-21.5 102.6-27.5" stroke="#23e"/>
<path d="M416.8 391.1c5.1-14.8 10.2-27.6 15.2-38.9c8.9-19.7 17.7-34.9 26.5-47.3c12.9-18.1 25.8-30.2 38.6-39.5c18.4-13.2 36.8-20.4 55.2-25.4c34.2-9.4 68.4-11.6 102.6-13.2" stroke="#e12"/>
<path d="M416.8 390.5c5.1-8.8 10.2-16.8 15.2-24.2c8.9-12.9 17.7-23.9 26.5-33.7c12.9-14.1 25.8-25.4 38.6-34.7c18.4-13.4 36.8-22.9 55.2-30.3c34.2-13.7 68.4-20.4 102.6-25" stroke="#2b4"/>
<path d="M416.8 392.7c5.1-10.7 10.2-20.4 15.2-29.4c8.9-15.6 17.7-28.9 26.5-40.5c12.9-16.9 25.8-30.2 38.6-41.2c18.4-15.6 36.8-26.6 55.2-35c34.2-15.7 68.4-22.9 102.6-27.9" stroke="#23e"/>
<path d="M416.8 389.3c5.1-3.7 10.2-7.1 15.2-10.5c8.9-5.8 17.7-11.2 26.5-16.2c12.9-7.3 25.8-13.8 38.6-19.6c18.4-8.4 36.8-15.5 55.2-21.6c34.2-11.4 68.4-19.5 102.6-25.9" stroke="#000"/>
<path d="M416.8 390.8c5.1-13 10.2-24.6 15.2-35.1c8.9-18.1 17.7-32.8 26.5-45.1c12.9-17.9 25.8-30.8 38.6-40.9c18.4-14.5 36.8-23.3 55.2-29.7c34.2-12 68.4-15.9 102.6-18.5" stroke="#a2a"/>
<path d="M416.8 391.6c5.1-11.5 10.2-21.6 15.2-30.6c8.9-15.7 17.7-28.1 26.5-38.5c12.9-15 25.8-25.5 38.6-33.7c18.4-11.6 36.8-18.4 55.2-23.2c34.2-9 68.4-11.6 102.6-13.3" stroke="#e12"/>
<path d="M416.8 391.1c5.1-3.6 10.2-7.1 15.2-10.4c8.9-5.8 17.7-11.2 26.5-16.2c12.9-7.3 25.8-13.8 38.6-19.7c18.4-8.4 36.8-15.5 55.2-21.7c34.2-11.5 68.4-19.8 102.6-26.4" stroke="#000"/>
<path d="M416.8 389.3c5.1-2.8 10.2-5.5 15.2-8.1c8.9-4.6 17.7-8.8 26.5-12.8c12.9-5.8 25.8-11.1 38.6-15.9c18.4-6.8 36.8-12.8 55.2-18c34.2-9.7 68.4-17 102.6-22.9" stroke="#2b4"/>
<path d="M416.8 392c5.1-5.5 10.2-10.7 15.2-15.5c8.9-8.4 17.7-15.8 26.5-22.4c12.9-9.6 25.8-17.5 38.6-24.2c18.4-9.6 36.8-16.8 55.2-22.5c34.2-10.8 68.4-16.7 102.6-20.8" stroke="#000"/>
<path d="M416.8 392.7c5.1-8.4 10.2-15.9 15.2-22.8c8.9-12.1 17.7-22.1 26.5-30.7c12.9-12.6 25.8-22.2 38.6-30c18.4-11.1 36.8-18.5 55.2-24c34.2-10.4 68.4-14.7 102.6-17.6" stroke="#e4a"/>
<path d="M416.8 389.2c5.1-8.7 10.2-16.7 15.2-24.3c8.9-13.1 17.7-24.7 26.5-35.1c12.9-15.2 25.8-27.7 38.6-38.5c18.4-15.3 36.8-27 55.2-36.4c34.2-17.5 68.4-27.4 102.6-34.5" stroke="#e12"/>
<path d="M416.8 390.3c5.1-7.8 10.2-15 15.2-21.7c8.9-11.6 17.7-21.8 26.5-30.7c12.9-13.1 25.8-23.6 38.6-32.5c18.4-12.7 36.8-22 55.2-29.4c34.2-13.7 68.4-20.8 102.6-25.7" stroke="#23e"/>
<path d="M416.8 389.8c5.1-4.4 10.2-8.5 15.2-12.5c8.9-6.9 17.7-13.3 26.5-19.3c12.9-8.7 25.8-16.4 38.6-23.4c18.4-9.9 36.8-18.3 55.2-25.5c34.2-13.5 68.4-23.1 102.6-30.6" stroke="#c2c"/>
<path d="M416.8 393c5.1-2.8 10.2-5.5 15.2-8.2c8.9-4.6 17.7-9.1 26.5-13.3c12.9-6.2 25.8-12 38.6-17.4c18.4-7.7 36.8-14.7 55.2-21c34.2-11.9 68.4-21.7 102.6-30" stroke="#118"/>
<path d="M416.8 390.6c5.1-4.5 10.2-8.8 15.2-12.8c8.9-7 17.7-13.4 26.5-19.2c12.9-8.4 25.8-15.7 38.6-22c18.4-9.1 36.8-16.3 55.2-22.4c34.2-11.2 68.4-18.4 102.6-23.7" stroke="#818"/>
<path d="M416.8 389.9c5.1-6 10.2-11.7 15.2-17.1c8.9-9.4 17.7-17.8 26.5-25.5c12.9-11.3 25.8-21 38.6-29.5c18.4-12.1 36.8-21.8 55.2-30c34.2-15.1 68.4-24.8 102.6-31.9" stroke="#e12"/>
<path d="M416.8 389.3c5.1-6.1 10.2-11.8 15.2-17.3c8.9-9.4 17.7-18 26.5-25.7c12.9-11.4 25.8-21.2 38.6-29.8c18.4-12.2 36.8-22 55.2-30.2c34.2-15.2 68.4-24.9 102.6-32.1" stroke="#2b4"/>
<path d="M416.8 393c5.1-16.4 10.2-30.5 15.2-42.9c8.9-21.6 17.7-38 26.5-51.2c12.9-19.3 25.8-31.9 38.6-41.3c18.4-13.5 36.8-20.5 55.2-25.4c34.2-9 68.4-10.8 102.6-12.1" stroke="#818"/>
<path d="M416.8 391.9c5.1-2.7 10.2-5.3 15.2-7.9c8.9-4.4 17.7-8.6 26.5-12.6c12.9-5.8 25.8-11.2 38.6-16.3c18.4-7.2 36.8-13.7 55.2-19.6c34.2-10.9 68.4-19.8 102.6-27.2" stroke="#818"/>
<path d="M416.8 393.5c5.1-2.8 10.2-5.5 15.2-8.1c8.9-4.6 17.7-8.9 26.5-13.1c12.9-6.1 25.8-11.8 38.6-17.1c18.4-7.6 36.8-14.5 55.2-20.9c34.2-11.7 68.4-21.4 102.6-29.7" stroke="#a13"/>
<path d="M416.8 393.1c5.1-7.8 10.2-14.9 15.2-21.5c8.9-11.4 17.7-21.1 26.5-29.7c12.9-12.4 25.8-22.2 38.6-30.3c18.4-11.5 36.8-19.7 55.2-25.9c34.2-11.7 68.4-17.2 102.6-21" stroke="#46e"/>
<path d="M416.8 389.2c5.1-10.7 10.2-20.5 15.2-29.4c8.9-15.6 17.7-28.8 26.5-40.2c12.9-16.7 25.8-29.6 38.6-40.3c18.4-15.1 36.8-25.6 55.2-33.5c34.2-14.9 68.4-21.5 102.6-26" stroke="#2b4"/>
<path d="M416.8 391.5c5.1-6.8 10.2-13.3 15.2-19.4c8.9-10.7 17.7-20.3 26.5-29c12.9-12.7 25.8-23.5 38.6-32.9c18.4-13.5 36.8-24.2 55.2-33c34.2-16.5 68.4-26.7 102.6-34.2" stroke="#82e"/>
<path d="M416.8 391.9c5.1-10.9 10.2-20.6 15.2-29.4c8.9-15.4 17.7-28 26.5-38.7c12.9-15.7 25.8-27.3 38.6-36.5c18.4-13.2 36.8-21.7 55.2-28c34.2-11.6 68.4-15.9 102.6-18.8" stroke="#118"/>
<path d="M416.8 393.1c5.1-3.8 10.2-7.4 15.2-10.8c8.9-5.9 17.7-11.2 26.5-16.2c12.9-7.1 25.8-13.3 38.6-18.8c18.4-7.9 36.8-14.3 55.2-19.6c34.2-10 68.4-16.6 102.6-21.5" stroke="#23e"/>
<path d="M416.8 390.1c5.1-7.4 10.2-14.4 15.2-20.9c8.9-11.2 17.7-21.2 26.5-30.1c12.9-12.9 25.8-23.7 38.6-32.9c18.4-13.1 36.8-23 55.2-31c34.2-14.9 68.4-23.2 102.6-29.2" stroke="#e12"/>
<path d="M416.8 392.4c5.1-7 10.2-13.5 15.2-19.7c8.9-10.8 17.7-20.5 26.5-29.4c12.9-12.8 25.8-23.8 38.6-33.4c18.4-13.8 36.8-24.6 55.2-33.7c34.2-16.7 68.4-27.2 102.6-34.9" stroke="#2bb"/>
<path d="M416.8 388.4c5.1-3.1 10.2-6.2 15.2-9.1c8.9-5.1 17.7-9.9 26.5-14.4c12.9-6.6 25.8-12.6 38.6-18.1c18.4-7.8 36.8-14.7 55.2-20.8c34.2-11.3 68.4-19.9 102.6-26.9" stroke="#23e"/>
<path d="M416.8 389.3c5.1-12.9 10.2-24.2 15.2-34.2c8.9-17.3 17.7-30.8 26.5-41.8c12.9-16 25.8-26.9 38.6-35.2c18.4-11.8 36.8-18.3 55.2-22.8c34.2-8.5 68.4-10.6 102.6-12" stroke="#818"/>
<path d="M416.8 392.8c5.1-4.5 10.2-8.7 15.2-12.8c8.9-6.9 17.7-13.2 26.5-18.9c12.9-8.3 25.8-15.3 38.6-21.5c18.4-8.7 36.8-15.6 55.2-21.3c34.2-10.6 68.4-17.2 102.6-21.9" stroke="#e80"/>
<path d="M416.8 391.4c5.1-7.6 10.2-14.5 15.2-20.9c8.9-11.2 17.7-20.9 26.5-29.3c12.9-12.4 25.8-22.2 38.6-30.4c18.4-11.7 36.8-20.1 55.2-26.6c34.2-12.2 68.4-18.2 102.6-22.3" stroke="#82e"/>
<path d="M416.8 391c5.1-4.9 10.2-9.6 15.2-14.2c8.9-8 17.7-15.5 26.5-22.5c12.9-10.3 25.8-19.6 38.6-28.2c18.4-12.2 36.8-22.9 55.2-32.4c34.2-17.6 68.4-31 102.6-41.9" stroke="#23e"/>
<path d="M416.8 388.3c5.1-12.8 10.2-24.1 15.2-34.3c8.9-17.6 17.7-31.8 26.5-43.7c12.9-17.3 25.8-29.8 38.6-39.5c18.4-13.8 36.8-22.2 55.2-28.3c34.2-11.2 68.4-14.8 102.6-17.2" stroke="#2b4"/>
<path d="M416.8 392.1c5.1-2.8 10.2-5.5 15.2-8.1c8.9-4.7 17.7-9.1 26.5-13.5c12.9-6.3 25.8-12.3 38.6-18.1c18.4-8.2 36.8-15.8 55.2-23c34.2-13.3 68.4-24.8 102.6-35.1" stroke="#23e"/>
<path d="M416.8 390.3c5.1-10.1 10.2-19.5 15.2-28.1c8.9-15.1 17.7-28 26.5-39.4c12.9-16.6 25.8-29.8 38.6-40.8c18.4-15.8 36.8-27 55.2-35.8c34.2-16.4 68.4-24.4 102.6-29.9" stroke="#888"/>
<path d="M416.8 390.1c5.1-4.4 10.2-8.6 15.2-12.6c8.9-7.1 17.7-13.6 26.5-19.7c12.9-8.9 25.8-16.9 38.6-24.1c18.4-10.3 36.8-19 55.2-26.6c34.2-14.2 68.4-24.5 102.6-32.6" stroke="#2bb"/>
<path d="M416.8 393.2c5.1-2.7 10.2-5.2 15.2-7.7c8.9-4.2 17.7-8.3 26.5-12c12.9-5.6 25.8-10.6 38.6-15.2c18.4-6.6 36.8-12.3 55.2-17.4c34.2-9.4 68.4-16.6 102.6-22.4" stroke="#2b4"/>
<path d="M416.8 393.5c5.1-16.4 10.2-30.5 15.2-42.8c8.9-21.6 17.7-38.1 26.5-51.4c12.9-19.4 25.8-32.3 38.6-42c18.4-13.8 36.8-21.1 55.2-26.2c34.2-9.4 68.4-11.4 102.6-12.9" stroke="#23e"/>
<path d="M416.8 390.6c5.1-3.1 10.2-6.1 15.2-9c8.9-5.1 17.7-9.9 26.5-14.5c12.9-6.7 25.8-13 38.6-18.8c18.4-8.4 36.8-15.9 55.2-22.8c34.2-12.7 68.4-23.1 102.6-31.9" stroke="#818"/>
<path d="M416.8 391.4c5.1-5.4 10.2-10.4 15.2-15.2c8.9-8.4 17.7-15.9 26.5-22.8c12.9-10.1 25.8-18.7 38.6-26.3c18.4-10.9 36.8-19.6 55.2-26.9c34.2-13.5 68.4-22.2 102.6-28.6" stroke="#c2c"/>
<path d="M416.8 392.1c5.1-3.1 10.2-6.1 15.2-9c8.9-5.2 17.7-10 26.5-14.6c12.9-6.7 25.8-12.9 38.6-18.7c18.4-8.2 36.8-15.5 55.2-22.1c34.2-12.3 68.4-22.1 102.6-30.2" stroke="#2b4"/>
<path d="M416.8 391.7c5.1-2.1 10.2-4.2 15.2-6.3c8.9-3.5 17.7-7 26.5-10.3c12.9-4.9 25.8-9.6 38.6-14c18.4-6.4 36.8-12.3 55.2-17.9c34.2-10.3 68.4-19.4 102.6-27.4" stroke="#46e"/>
<path d="M416.8 392.3c5.1-9.2 10.2-17.7 15.2-25.6c8.9-13.8 17.7-25.7 26.5-36.3c12.9-15.4 25.8-27.9 38.6-38.3c18.4-15 36.8-25.9 55.2-34.5c34.2-16 68.4-24.3 102.6-30" stroke="#e12"/>
<path d="M416.8 392c5.1-3.4 10.2-6.7 15.2-9.8c8.9-5.6 17.7-10.8 26.5-15.7c12.9-7.3 25.8-14 38.6-20.2c18.4-8.8 36.8-16.7 55.2-23.8c34.2-13.2 68.4-23.7 102.6-32.5" stroke="#23e"/>
<path d="M416.8 392.4c5.1-6 10.2-11.6 15.2-17c8.9-9.3 17.7-17.9 26.5-25.7c12.9-11.4 25.8-21.3 38.6-30.1c18.4-12.5 36.8-22.8 55.2-31.4c34.2-16.1 68.4-26.8 102.6-34.8" stroke="#818"/>
<path d="M416.8 393c5.1-12.3 10.2-23.2 15.2-32.9c8.9-16.9 17.7-30.3 26.5-41.4c12.9-16.2 25.8-27.6 38.6-36.5c18.4-12.6 36.8-20 55.2-25.3c34.2-9.9 68.4-12.7 102.6-14.7" stroke="#e12"/>
<path d="M416.8 392.7c5.1-2.8 10.2-5.4 15.2-8.1c8.9-4.6 17.7-9.1 26.5-13.4c12.9-6.4 25.8-12.5 38.6-18.3c18.4-8.4 36.8-16.2 55.2-23.7c34.2-13.8 68.4-26.2 102.6-37.4" stroke="#23e"/>
<path d="M416.8 391.9c5.1-14.7 10.2-27.3 15.2-38.3c8.9-19.1 17.7-33.6 26.5-45.2c12.9-16.9 25.8-27.9 38.6-36.1c18.4-11.6 36.8-17.6 55.2-21.7c34.2-7.7 68.4-9.1 102.6-10.2" stroke="#c2c"/>
<path d="M416.8 391.1c5.1-5.2 10.2-10.2 15.2-15c8.9-8.2 17.7-15.7 26.5-22.7c12.9-10.1 25.8-19 38.6-26.9c18.4-11.3 36.8-20.7 55.2-28.6c34.2-14.8 68.4-24.8 102.6-32.4" stroke="#2bb"/>
<path d="M416.8 393.1c5.1-12.8 10.2-24.2 15.2-34.5c8.9-17.9 17.7-32.3 26.5-44.5c12.9-17.7 25.8-30.6 38.6-40.7c18.4-14.5 36.8-23.4 55.2-29.9c34.2-12 68.4-16 102.6-18.8" stroke="#e80"/>
<path d="M416.8 392c5.1-5.6 10.2-10.8 15.2-15.7c8.9-8.5 17.7-16.1 26.5-23c12.9-9.9 25.8-18.4 38.6-25.6c18.4-10.4 36.8-18.4 55.2-25c34.2-12.2 68.4-19.5 102.6-24.7" stroke="#23e"/>
<path d="M416.8 389.1c5.1-16 10.2-29.8 15.2-42c8.9-21.2 17.7-37.4 26.5-50.5c12.9-19.2 25.8-31.8 38.6-41.4c18.4-13.6 36.8-20.8 55.2-25.9c34.2-9.3 68.4-11.3 102.6-12.7" stroke="#c2c"/>
<path d="M416.8 389.2c5.1-11.7 10.2-22.2 15.2-31.8c8.9-16.7 17.7-30.5 26.5-42.3c12.9-17.2 25.8-30.1 38.6-40.5c18.4-14.9 36.8-24.6 55.2-31.8c34.2-13.4 68.4-18.7 102.6-22.2" stroke="#2b4"/>
<path d="M416.8 389.2c5.1-10.9 10.2-20.8 15.2-29.9c8.9-15.7 17.7-28.9 26.5-40.3c12.9-16.6 25.8-29.4 38.6-39.7c18.4-14.8 36.8-24.8 55.2-32.3c34.2-14 68.4-20 102.6-24" stroke="#2bb"/>
<path d="M416.8 392.7c5.1-7.1 10.2-13.7 15.2-19.8c8.9-10.8 17.7-20.3 26.5-28.7c12.9-12.4 25.8-22.7 38.6-31.4c18.4-12.5 36.8-22 55.2-29.6c34.2-14.2 68.4-22.2 102.6-27.9" stroke="#a13"/>
<path d="M416.8 390c5.1-3.1 10.2-6.2 15.2-9.1c8.9-5.1 17.7-10 26.5-14.5c12.9-6.6 25.8-12.6 38.6-18.2c18.4-7.9 36.8-14.8 55.2-21c34.2-11.4 68.4-20.2 102.6-27.3" stroke="#e80"/>
<path d="M416.8 391.3c5.1-9.6 10.2-18.3 15.2-26.4c8.9-14.1 17.7-26.1 26.5-36.7c12.9-15.3 25.8-27.5 38.6-37.6c18.4-14.4 36.8-24.5 55.2-32.4c34.2-14.7 68.4-21.7 102.6-26.5" stroke="#2b4"/>
<path d="M416.8 392.4c5.1-6.9 10.2-13.3 15.2-19.3c8.9-10.3 17.7-19.5 26.5-27.6c12.9-11.9 25.8-21.6 38.6-29.9c18.4-11.9 36.8-20.8 55.2-28c34.2-13.2 68.4-20.6 102.6-25.7" stroke="#2b4"/>
<path d="M416.8 393.3c5.1-12.5 10.2-23.7 15.2-33.8c8.9-17.7 17.7-32.2 26.5-44.5c12.9-18 25.8-31.4 38.6-42.1c18.4-15.2 36.8-25 55.2-32.2c34.2-13.4 68.4-18.4 102.6-21.8" stroke="#a2a"/>
<path d="M416.8 393c5.1-6.5 10.2-12.5 15.2-18.2c8.9-9.8 17.7-18.6 26.5-26.5c12.9-11.5 25.8-21.2 38.6-29.5c18.4-11.9 36.8-21.1 55.2-28.6c34.2-13.9 68.4-22.1 102.6-28" stroke="#000"/>
<path d="M416.8 393.2c5.1-9.9 10.2-18.8 15.2-26.8c8.9-14.1 17.7-25.7 26.5-35.6c12.9-14.4 25.8-25.1 38.6-33.7c18.4-12.3 36.8-20.2 55.2-26.1c34.2-11 68.4-15.2 102.6-17.9" stroke="#118"/>
<path d="M416.8 392.2c5.1-9.4 10.2-17.9 15.2-25.7c8.9-13.5 17.7-24.9 26.5-34.6c12.9-14.2 25.8-25.1 38.6-33.9c18.4-12.6 36.8-21 55.2-27.4c34.2-11.9 68.4-16.8 102.6-20.1" stroke="#2b4"/>
<path d="M416.8 391.1c5.1-7.9 10.2-15.3 15.2-22.2c8.9-12 17.7-22.6 26.5-32.1c12.9-13.9 25.8-25.5 38.6-35.4c18.4-14.1 36.8-24.9 55.2-33.6c34.2-16.2 68.4-25.5 102.6-32.1" stroke="#2b4"/>
<path d="M416.8 388.7c5.1-6.7 10.2-13 15.2-18.9c8.9-10.3 17.7-19.3 26.5-27.4c12.9-11.9 25.8-21.7 38.6-30.2c18.4-12 36.8-21.2 55.2-28.6c34.2-13.8 68.4-21.7 102.6-27.4" stroke="#e12"/>
<path d="M416.8 390.3c5.1-4.2 10.2-8.2 15.2-12.2c8.9-6.8 17.7-13.2 26.5-19.3c12.9-8.9 25.8-17 38.6-24.6c18.4-10.7 36.8-20.2 55.2-28.7c34.2-15.8 68.4-28.1 102.6-38.3" stroke="#23e"/>
<path d="M416.8 391.4c5.1-7.4 10.2-13.9 15.2-19.9c8.9-10.3 17.7-18.6 26.5-25.6c12.9-10.3 25.8-17.8 38.6-23.7c18.4-8.4 36.8-13.6 55.2-17.4c34.2-7.1 68.4-9.5 102.6-11.1" stroke="#2bb"/>
<path d="M416.8 391.2c5.1-4.3 10.2-8.4 15.2-12.3c8.9-6.7 17.7-12.7 26.5-18.2c12.9-7.9 25.8-14.7 38.6-20.7c18.4-8.4 36.8-15.2 55.2-20.7c34.2-10.3 68.4-16.8 102.6-21.5" stroke="#888"/>
<path d="M416.8 392.9c5.1-14.6 10.2-27.4 15.2-38.8c8.9-19.8 17.7-35.2 26.5-47.9c12.9-18.5 25.8-31.2 38.6-40.9c18.4-13.9 36.8-21.7 55.2-27.2c34.2-10.3 68.4-12.9 102.6-14.8" stroke="#2bb"/>
<path d="M416.8 390.4c5.1-4.2 10.2-8.3 15.2-12.2c8.9-6.8 17.7-13.1 26.5-18.9c12.9-8.6 25.8-16.2 38.6-23c18.4-9.8 36.8-18 55.2-25.1c34.2-13.3 68.4-22.8 102.6-30.2" stroke="#c2c"/>
<path d="M416.8 389c5.1-16.6 10.2-30.8 15.2-43.3c8.9-21.6 17.7-38 26.5-51.1c12.9-19.1 25.8-31.5 38.6-40.8c18.4-13.2 36.8-19.9 55.2-24.6c34.2-8.6 68.4-10.2 102.6-11.4" stroke="#e4a"/>
<path d="M416.8 392.2c5.1-3.2 10.2-6.2 15.2-9.1c8.9-5 17.7-9.7 26.5-14.2c12.9-6.5 25.8-12.4 38.6-17.8c18.4-7.7 36.8-14.4 55.2-20.4c34.2-11 68.4-19.4 102.6-26.2" stroke="#c2c"/>
<path d="M416.8 389.7c5.1-3.8 10.2-7.5 15.2-11c8.9-6.2 17.7-12.1 26.5-17.7c12.9-8.2 25.8-15.8 38.6-22.9c18.4-10.1 36.8-19.2 55.2-27.4c34.2-15.3 68.4-27.7 102.6-38.2" stroke="#23e"/>
<path d="M416.8 390.1c5.1-3.4 10.2-6.7 15.2-9.8c8.9-5.5 17.7-10.6 26.5-15.4c12.9-7 25.8-13.4 38.6-19.2c18.4-8.3 36.8-15.5 55.2-21.8c34.2-11.9 68.4-20.8 102.6-28" stroke="#e12"/>
<path d="M416.8 393.1c5.1-6.8 10.2-13.1 15.2-19.1c8.9-10.3 17.7-19.6 26.5-27.9c12.9-12.1 25.8-22.3 38.6-31.2c18.4-12.6 36.8-22.3 55.2-30.3c34.2-14.8 68.4-23.6 102.6-30" stroke="#2b4"/>
<path d="M416.8 392.6c5.1-2.2 10.2-4.4 15.2-6.5c8.9-3.8 17.7-7.4 26.5-10.9c12.9-5.1 25.8-10 38.6-14.7c18.4-6.8 36.8-13.1 55.2-19c34.2-11.1 68.4-20.9 102.6-29.8" stroke="#2b4"/>
<path d="M416.8 390.8c5.1-7.2 10.2-13.9 15.2-20.3c8.9-11.1 17.7-21.2 26.5-30.4c12.9-13.4 25.8-25.1 38.6-35.3c18.4-14.6 36.8-26.3 55.2-36.2c34.2-18.4 68.4-30.2 102.6-39.1" stroke="#c2c"/>
<path d="M416.8 389.9c5.1-17 10.2-31.5 15.2-44.2c8.9-22.2 17.7-38.9 26.5-52.3c12.9-19.6 25.8-32.3 38.6-41.7c18.4-13.5 36.8-20.4 55.2-25.2c34.2-8.8 68.4-10.5 102.6-11.7" stroke="#2a8"/>
<path d="M416.8 392c5.1-5.5 10.2-10.7 15.2-15.6c8.9-8.6 17.7-16.3 26.5-23.2c12.9-10.2 25.8-18.9 38.6-26.5c18.4-10.8 36.8-19.3 55.2-26.4c34.2-13.2 68.4-21.4 102.6-27.4" stroke="#e12"/>
<path d="M416.8 389.8c5.1-5.4 10.2-10.4 15.2-15.2c8.9-8.4 17.7-16 26.5-23c12.9-10.1 25.8-18.9 38.6-26.6c18.4-11.1 36.8-20 55.2-27.5c34.2-13.9 68.4-23 102.6-29.8" stroke="#23e"/>
<path d="M416.8 390.3c5.1-13 10.2-24.5 15.2-34.9c8.9-18 17.7-32.5 26.5-44.6c12.9-17.7 25.8-30.5 38.6-40.5c18.4-14.2 36.8-22.9 55.2-29.1c34.2-11.7 68.4-15.5 102.6-18" stroke="#c2c"/>
<path d="M416.8 389.2c5.1-6.1 10.2-11.9 15.2-17.5c8.9-9.6 17.7-18.4 26.5-26.4c12.9-11.7 25.8-21.9 38.6-30.9c18.4-12.8 36.8-23.2 55.2-32c34.2-16.4 68.4-27.2 102.6-35.3" stroke="#818"/>
<path d="M416.8 388.3c5.1-7.9 10.2-15.2 15.2-22c8.9-11.9 17.7-22.2 26.5-31.4c12.9-13.4 25.8-24.2 38.6-33.4c18.4-13.1 36.8-22.7 55.2-30.4c34.2-14.2 68.4-21.7 102.6-26.9" stroke="#23e"/>
<path d="M416.8 392c5.1-4.6 10.2-9 15.2-13.4c8.9-7.4 17.7-14.5 26.5-21.1c12.9-9.6 25.8-18.4 38.6-26.5c18.4-11.5 36.8-21.5 55.2-30.4c34.2-16.6 68.4-29.2 102.6-39.5" stroke="#82e"/>
<path d="M416.8 389.9c5.1-8 10.2-15.5 15.2-22.5c8.9-12.2 17.7-22.9 26.5-32.5c12.9-14 25.8-25.6 38.6-35.5c18.4-14.2 36.8-24.8 55.2-33.5c34.2-16 68.4-25 102.6-31.3" stroke="#23e"/>
<path d="M416.8 391.4c5.1-9.6 10.2-18.4 15.2-26.6c8.9-14.2 17.7-26.4 26.5-37.2c12.9-15.6 25.8-28.1 38.6-38.5c18.4-14.9 36.8-25.6 55.2-33.9c34.2-15.4 68.4-23.1 102.6-28.3" stroke="#c2c"/>
<path d="M416.8 391.7c5.1-4.5 10.2-8.9 15.2-13c8.9-7.1 17.7-13.7 26.5-19.6c12.9-8.8 25.8-16.4 38.6-23.1c18.4-9.6 36.8-17.4 55.2-24c34.2-12.3 68.4-20.4 102.6-26.5" stroke="#888"/>
<path d="M416.8 389.8c5.1-4.3 10.2-8.5 15.2-12.5c8.9-7 17.7-13.7 26.5-20c12.9-9.2 25.8-17.7 38.6-25.6c18.4-11.2 36.8-21.2 55.2-30.1c34.2-16.7 68.4-29.9 102.6-40.8" stroke="#000"/>
<path d="M416.8 389.3c5.1-8.2 10.2-15.8 15.2-22.8c8.9-12.1 17.7-22.5 26.5-31.6c12.9-13.3 25.8-23.7 38.6-32.4c18.4-12.4 36.8-21.2 55.2-27.9c34.2-12.6 68.4-18.6 102.6-22.7" stroke="#000"/>
<path d="M416.8 389.4c5.1-12.1 10.2-22.5 15.2-31.7c8.9-15.9 17.7-28.1 26.5-38c12.9-14.4 25.8-23.9 38.6-31c18.4-10.2 36.8-15.6 55.2-19.4c34.2-6.9 68.4-8.4 102.6-9.4" stroke="#199"/>
<path d="M416.8 390.4c5.1-5.4 10.2-10.6 15.2-15.4c8.9-8.5 17.7-16.1 26.5-23.1c12.9-10.2 25.8-18.9 38.6-26.5c18.4-10.9 36.8-19.6 55.2-26.8c34.2-13.4 68.4-22 102.6-28.2" stroke="#e80"/>
<path d="M416.8 391.9c5.1-2.1 10.2-4.2 15.2-6.3c8.9-3.6 17.7-7 26.5-10.2c12.9-4.8 25.8-9.3 38.6-13.5c18.4-6 36.8-11.4 55.2-16.4c34.2-9.3 68.4-17.1 102.6-23.7" stroke="#2b4"/>
<path d="M416.8 391.7c5.1-5.1 10.2-9.9 15.2-14.4c8.9-7.8 17.7-14.8 26.5-21c12.9-9.2 25.8-16.8 38.6-23.4c18.4-9.5 36.8-16.7 55.2-22.7c34.2-11 68.4-17.5 102.6-22.2" stroke="#e12"/>
<path d="M416.8 389.4c5.1-4.5 10.2-8.8 15.2-12.9c8.9-7.1 17.7-13.7 26.5-19.7c12.9-8.8 25.8-16.5 38.6-23.5c18.4-9.9 36.8-18.1 55.2-25.1c34.2-13.1 68.4-22.1 102.6-29.1" stroke="#46e"/>
<path d="M416.8 391.9c5.1-3.6 10.2-7.1 15.2-10.4c8.9-5.8 17.7-11.1 26.5-16.1c12.9-7.2 25.8-13.6 38.6-19.3c18.4-8.3 36.8-15.2 55.2-21.1c34.2-11 68.4-18.8 102.6-24.9" stroke="#c2c"/>
<path d="M416.8 390.9c5.1-3.6 10.2-7 15.2-10.4c8.9-5.8 17.7-11.3 26.5-16.5c12.9-7.7 25.8-14.8 38.6-21.4c18.4-9.4 36.8-17.7 55.2-25.3c34.2-14.1 68.4-25.5 102.6-34.9" stroke="#c2c"/>
<path d="M416.8 390.5c5.1-3.1 10.2-6.1 15.2-8.9c8.9-5 17.7-9.6 26.5-14c12.9-6.4 25.8-12.2 38.6-17.5c18.4-7.7 36.8-14.3 55.2-20.2c34.2-10.9 68.4-19.3 102.6-26.1" stroke="#c2c"/>
<path d="M416.8 389.4c5.1-5.3 10.2-10.4 15.2-15.2c8.9-8.2 17.7-15.7 26.5-22.6c12.9-9.9 25.8-18.5 38.6-26c18.4-10.7 36.8-19.2 55.2-26.3c34.2-13.3 68.4-21.7 102.6-27.9" stroke="#82e"/>
<path d="M416.8 388.3c5.1-4.5 10.2-8.7 15.2-12.8c8.9-7.1 17.7-13.8 26.5-20c12.9-9 25.8-17.2 38.6-24.6c18.4-10.5 36.8-19.6 55.2-27.5c34.2-14.7 68.4-25.5 102.6-34.1" stroke="#c2c"/>
<path d="M416.8 392.3c5.1-6 10.2-11.5 15.2-16.7c8.9-9.1 17.7-17 26.5-24.1c12.9-10.3 25.8-18.8 38.6-26c18.4-10.2 36.8-17.9 55.2-24.1c34.2-11.5 68.4-17.7 102.6-22.1" stroke="#000"/>
<path d="M416.8 389.4c5.1-10.2 10.2-19.3 15.2-27.5c8.9-14.3 17.7-25.9 26.5-35.7c12.9-14.3 25.8-24.7 38.6-33c18.4-11.8 36.8-19.2 55.2-24.6c34.2-10 68.4-13.5 102.6-15.9" stroke="#2b4"/>
<path d="M416.8 389.3c5.1-11.8 10.2-22.4 15.2-32.1c8.9-16.8 17.7-30.7 26.5-42.6c12.9-17.3 25.8-30.2 38.6-40.6c18.4-14.8 36.8-24.4 55.2-31.6c34.2-13.3 68.4-18.4 102.6-21.8" stroke="#818"/>
<path d="M416.8 389.6c5.1-5.6 10.2-10.8 15.2-15.7c8.9-8.6 17.7-16.2 26.5-23.1c12.9-10 25.8-18.5 38.6-25.8c18.4-10.4 36.8-18.5 55.2-25.1c34.2-12.2 68.4-19.5 102.6-24.8" stroke="#2b4"/>
<path d="M416.8 390.6c5.1-2.8 10.2-5.5 15.2-8.1c8.9-4.6 17.7-8.8 26.5-12.9c12.9-5.8 25.8-11.2 38.6-16.1c18.4-7.1 36.8-13.3 55.2-18.8c34.2-10.2 68.4-18.1 102.6-24.6" stroke="#c2c"/>
<path d="M416.8 393.1c5.1-4.3 10.2-8.4 15.2-12.5c8.9-6.9 17.7-13.5 26.5-19.8c12.9-9.1 25.8-17.5 38.6-25.2c18.4-11.1 36.8-20.8 55.2-29.6c34.2-16.3 68.4-29.1 102.6-39.6" stroke="#2bb"/>
<path d="M416.8 392.5c5.1-3.1 10.2-6.1 15.2-9c8.9-5 17.7-9.6 26.5-13.9c12.9-6.3 25.8-12 38.6-17.2c18.4-7.3 36.8-13.6 55.2-19.2c34.2-10.2 68.4-17.7 102.6-23.7" stroke="#a13"/>
<path d="M416.8 390c5.1-5.5 10.2-10.7 15.2-15.6c8.9-8.5 17.7-16.2 26.5-23.1c12.9-10.2 25.8-18.9 38.6-26.4c18.4-10.9 36.8-19.5 55.2-26.6c34.2-13.3 68.4-21.6 102.6-27.7" stroke="#a13"/>
<path d="M416.8 388.8c5.1-9.1 10.2-17.5 15.2-25.4c8.9-13.6 17.7-25.6 26.5-36.3c12.9-15.6 25.8-28.3 38.6-39.2c18.4-15.4 36.8-27 55.2-36.2c34.2-17.2 68.4-26.5 102.6-33.1" stroke="#23e"/>
<path d="M416.8 391.7c5.1-11.2 10.2-21.3 15.2-30.6c8.9-16.2 17.7-29.8 26.5-41.6c12.9-17.1 25.8-30.3 38.6-41.1c18.4-15.3 36.8-25.7 55.2-33.6c34.2-14.6 68.4-20.9 102.6-25.2" stroke="#2b4"/>
<path d="M416.8 390.8c5.1-3.8 10.2-7.4 15.2-10.8c8.9-5.9 17.7-11.3 26.5-16.1c12.9-7.1 25.8-13.2 38.6-18.5c18.4-7.7 36.8-13.7 55.2-18.8c34.2-9.5 68.4-15.5 102.6-19.9" stroke="#e12"/>
<path d="M416.8 392.8c5.1-3.9 10.2-7.7 15.2-11.3c8.9-6.3 17.7-12.1 26.5-17.6c12.9-7.9 25.8-15 38.6-21.4c18.4-9.1 36.8-16.9 55.2-23.7c34.2-12.6 68.4-21.6 102.6-28.8" stroke="#118"/>
<path d="M416.8 389.3c5.1-4.8 10.2-9.4 15.2-13.9c8.9-7.7 17.7-14.9 26.5-21.6c12.9-9.8 25.8-18.7 38.6-26.8c18.4-11.5 36.8-21.4 55.2-30.1c34.2-16.2 68.4-28.3 102.6-37.9" stroke="#c2c"/>
<path d="M416.8 393.5c5.1-16.8 10.2-31.2 15.2-43.8c8.9-21.9 17.7-38.4 26.5-51.7c12.9-19.5 25.8-32.1 38.6-41.5c18.4-13.4 36.8-20.3 55.2-25.1c34.2-8.9 68.4-10.5 102.6-11.8" stroke="#a13"/>
<path d="M416.8 388.2c5.1-9.6 10.2-18.1 15.2-25.7c8.9-13.3 17.7-23.9 26.5-32.7c12.9-12.9 25.8-22.1 38.6-29.3c18.4-10.2 36.8-16.4 55.2-20.8c34.2-8.2 68.4-10.7 102.6-12.5" stroke="#2bb"/>
<path d="M416.8 388.5c5.1-7.1 10.2-13.7 15.2-20.1c8.9-11 17.7-20.9 26.5-30c12.9-13.3 25.8-24.8 38.6-34.9c18.4-14.5 36.8-26.1 55.2-35.9c34.2-18.2 68.4-29.9 102.6-38.7" stroke="#818"/>
<path d="M416.8 392.3c5.1-16.9 10.2-31.4 15.2-44.1c8.9-22 17.7-38.6 26.5-52c12.9-19.5 25.8-32.1 38.6-41.5c18.4-13.5 36.8-20.3 55.2-25.1c34.2-8.8 68.4-10.4 102.6-11.6" stroke="#c2c"/>
<path d="M416.8 392.2c5.1-3.3 10.2-6.4 15.2-9.5c8.9-5.2 17.7-10.2 26.5-14.8c12.9-6.7 25.8-12.7 38.6-18.2c18.4-7.9 36.8-14.6 55.2-20.6c34.2-11 68.4-19.1 102.6-25.6" stroke="#2bb"/>
<path d="M416.8 393c5.1-5 10.2-9.7 15.2-14.2c8.9-7.9 17.7-15.1 26.5-21.8c12.9-9.8 25.8-18.3 38.6-26c18.4-11 36.8-20 55.2-27.8c34.2-14.5 68.4-24.4 102.6-32.1" stroke="#2b4"/>
<path d="M416.8 388.6c5.1-5.8 10.2-11.3 15.2-16.6c8.9-9.2 17.7-17.7 26.5-25.5c12.9-11.3 25.8-21.4 38.6-30.3c18.4-12.8 36.8-23.4 55.2-32.4c34.2-16.9 68.4-28.5 102.6-37.4" stroke="#990"/>
<path d="M416.8 391.9c5.1-4.4 10.2-8.7 15.2-12.9c8.9-7.2 17.7-14 26.5-20.5c12.9-9.3 25.8-17.9 38.6-25.7c18.4-11.3 36.8-21.1 55.2-29.9c34.2-16.3 68.4-28.8 102.6-39.1" stroke="#2b4"/>
<path d="M416.8 391.9c5.1-3.8 10.2-7.4 15.2-10.9c8.9-6.1 17.7-11.8 26.5-17.2c12.9-7.8 25.8-14.9 38.6-21.4c18.4-9.2 36.8-17.2 55.2-24.3c34.2-13.1 68.4-22.9 102.6-30.8" stroke="#818"/>
<path d="M416.8 389c5.1-3.2 10.2-6.3 15.2-9.3c8.9-5.3 17.7-10.2 26.5-14.8c12.9-6.8 25.8-13 38.6-18.7c18.4-8.1 36.8-15.2 55.2-21.6c34.2-11.7 68.4-20.8 102.6-28.3" stroke="#46e"/>
<path d="M416.8 390.1c5.1-4 10.2-7.9 15.2-11.5c8.9-6.4 17.7-12.1 26.5-17.3c12.9-7.6 25.8-14.1 38.6-19.8c18.4-8.1 36.8-14.6 55.2-20c34.2-10.1 68.4-16.4 102.6-21.1" stroke="#46e"/>
<path d="M416.8 388.9c5.1-13.2 10.2-24.6 15.2-34.5c8.9-17.3 17.7-30.3 26.5-40.8c12.9-15.2 25.8-25.1 38.6-32.5c18.4-10.5 36.8-15.9 55.2-19.6c34.2-6.9 68.4-8.2 102.6-9.2" stroke="#82e"/>
<path d="M416.8 391.5c5.1-16.2 10.2-30.2 15.2-42.4c8.9-21.4 17.7-37.7 26.5-50.8c12.9-19.2 25.8-31.8 38.6-41.3c18.4-13.5 36.8-20.6 55.2-25.6c34.2-9.2 68.4-11 102.6-12.4" stroke="#a2a"/>
<path d="M416.8 393.1c5.1-6.4 10.2-12.3 15.2-18c8.9-9.8 17.7-18.6 26.5-26.6c12.9-11.7 25.8-21.7 38.6-30.4c18.4-12.5 36.8-22.3 55.2-30.5c34.2-15.1 68.4-24.6 102.6-31.5" stroke="#a13"/>
<path d="M416.8 392.6c5.1-3.2 10.2-6.2 15.2-9.1c8.9-5.1 17.7-9.8 26.5-14.2c12.9-6.5 25.8-12.4 38.6-17.8c18.4-7.7 36.8-14.3 55.2-20.2c34.2-11 68.4-19.3 102.6-25.9" stroke="#888"/>
<path d="M416.8 392.6c5.1-3.7 10.2-7.1 15.2-10.4c8.9-5.6 17.7-10.7 26.5-15.2c12.9-6.5 25.8-12 38.6-16.7c18.4-6.8 36.8-11.9 55.2-16.1c34.2-7.8 68.4-12.3 102.6-15.5" stroke="#23e"/>
<path d="M416.8 391.5c5.1-8.3 10.2-16 15.2-23.1c8.9-12.3 17.7-22.9 26.5-32.2c12.9-13.6 25.8-24.4 38.6-33.4c18.4-12.9 36.8-22.1 55.2-29.2c34.2-13.3 68.4-19.8 102.6-24.3" stroke="#000"/>
<path d="M416.8 389.9c5.1-5.2 10.2-10.1 15.2-14.8c8.9-8.2 17.7-15.6 26.5-22.5c12.9-10.1 25.8-18.9 38.6-26.8c18.4-11.2 36.8-20.5 55.2-28.4c34.2-14.7 68.4-24.7 102.6-32.4" stroke="#888"/>
<path d="M416.8 389.5c5.1-4 10.2-7.8 15.2-11.5c8.9-6.4 17.7-12.4 26.5-18c12.9-8.1 25.8-15.4 38.6-22c18.4-9.5 36.8-17.5 55.2-24.6c34.2-13.1 68.4-22.7 102.6-30.3" stroke="#46e"/>
<path d="M416.8 391.7c5.1-7.3 10.2-14.3 15.2-20.7c8.9-11.3 17.7-21.3 26.5-30.2c12.9-13.1 25.8-23.9 38.6-33.2c18.4-13.4 36.8-23.5 55.2-31.8c34.2-15.3 68.4-24.1 102.6-30.4" stroke="#990"/>
<path d="M416.8 392.9c5.1-3.1 10.2-6 15.2-8.9c8.9-5.1 17.7-9.8 26.5-14.4c12.9-6.7 25.8-12.8 38.6-18.6c18.4-8.2 36.8-15.7 55.2-22.4c34.2-12.5 68.4-22.7 102.6-31.3" stroke="#e4a"/>
<path d="M416.8 392.2c5.1-10.1 10.2-19.3 15.2-27.8c8.9-14.7 17.7-27.2 26.5-38c12.9-15.8 25.8-28.1 38.6-38.2c18.4-14.5 36.8-24.4 55.2-32c34.2-14.1 68.4-20.5 102.6-24.8" stroke="#e12"/>
<path d="M416.8 390.4c5.1-16.2 10.2-30.1 15.2-42.3c8.9-21.2 17.7-37.2 26.5-50c12.9-18.8 25.8-30.9 38.6-40c18.4-12.9 36.8-19.5 55.2-24c34.2-8.5 68.4-10 102.6-11.3" stroke="#888"/>
<path d="M416.8 392.4c5.1-6.2 10.2-12 15.2-17.7c8.9-9.7 17.7-18.7 26.5-27.1c12.9-12.2 25.8-23 38.6-32.7c18.4-13.8 36.8-25.5 55.2-35.5c34.2-18.7 68.4-31.9 102.6-42.1" stroke="#199"/>
<path d="M416.8 389.6c5.1-3.6 10.2-7.1 15.2-10.3c8.9-5.7 17.7-10.9 26.5-15.7c12.9-6.9 25.8-13 38.6-18.3c18.4-7.7 36.8-13.9 55.2-19.2c34.2-9.8 68.4-16.3 102.6-21.2" stroke="#23e"/>
<path d="M416.8 392.1c5.1-10.5 10.2-20.1 15.2-29c8.9-15.4 17.7-28.4 26.5-39.8c12.9-16.6 25.8-29.6 38.6-40.3c18.4-15.3 36.8-25.9 55.2-34c34.2-15.2 68.4-22.2 102.6-26.9" stroke="#990"/>
<path d="M416.8 388.5c5.1-15.7 10.2-29.3 15.2-41.2c8.9-20.7 17.7-36.4 26.5-49.2c12.9-18.6 25.8-30.8 38.6-40c18.4-13.1 36.8-20 55.2-24.7c34.2-8.9 68.4-10.7 102.6-12.1" stroke="#888"/>
<path d="M416.8 391.7c5.1-4.4 10.2-8.6 15.2-12.6c8.9-6.8 17.7-12.9 26.5-18.5c12.9-8.1 25.8-15 38.6-21c18.4-8.5 36.8-15.2 55.2-20.7c34.2-10.3 68.4-16.5 102.6-21.1" stroke="#e12"/>
<path d="M416.8 390.8c5.1-15.8 10.2-29.7 15.2-42.3c8.9-21.7 17.7-39.2 26.5-53.8c12.9-21.3 25.8-36.5 38.6-48.4c18.4-17 36.8-27.2 55.2-34.6c34.2-13.7 68.4-18 102.6-20.9" stroke="#2a8"/>
<path d="M416.8 391.5c5.1-20.1 10.2-37.1 15.2-51.8c8.9-25.7 17.7-44.6 26.5-59.7c12.9-21.9 25.8-35.7 38.6-45.8c18.4-14.4 36.8-21.3 55.2-26c34.2-8.9 68.4-10.1 102.6-11.2" stroke="#a2a"/>
<path d="M416.8 391.5c5.1-19.5 10.2-36.1 15.2-50.6c8.9-25.1 17.7-43.8 26.5-58.7c12.9-21.7 25.8-35.5 38.6-45.6c18.4-14.5 36.8-21.7 55.2-26.6c34.2-9.1 68.4-10.5 102.6-11.7" stroke="#93a"/>
<path d="M416.8 391.5c5.1-18.9 10.2-35.1 15.2-49.2c8.9-24.5 17.7-42.8 26.5-57.5c12.9-21.4 25.8-35.2 38.6-45.4c18.4-14.5 36.8-21.8 55.2-26.8c34.2-9.4 68.4-10.9 102.6-12.2" stroke="#a4b"/>
<path d="M416.8 391.5c5.1-2 10.2-3.8 15.2-5.6c8.9-3.2 17.7-6.2 26.5-9.2c12.9-4.2 25.8-8.3 38.6-12c18.4-5.5 36.8-10.4 55.2-15c34.2-8.6 68.4-15.8 102.6-22.1" stroke="#48a"/>
<path d="M416.8 391.5c5.1-2.1 10.2-4.1 15.2-6.1c8.9-3.4 17.7-6.7 26.5-9.8c12.9-4.6 25.8-8.8 38.6-12.8c18.4-5.7 36.8-10.8 55.2-15.5c34.2-8.8 68.4-15.9 102.6-22" stroke="#fff"/>
<path d="M416.8 391.5c5.1-2.3 10.2-4.4 15.2-6.5c8.9-3.6 17.7-7 26.5-10.3c12.9-4.8 25.8-9.2 38.6-13.4c18.4-5.9 36.8-11.1 55.2-15.9c34.2-8.9 68.4-16.1 102.6-22.2" stroke="#5aa"/>
</g>
<path d="M400.9,410.9 H679" stroke="#4d5268" stroke-width="1.4"/>
<path d="M403.4,188.78 V410.9 M398.8,393.5 H403.4 M400.6,376.44 H403.4 M398.8,359.38 H403.4 M400.6,342.32 H403.4 M398.8,325.26 H403.4 M400.6,308.2 H403.4 M398.8,291.14 H403.4 M400.6,274.08 H403.4 M398.8,257.02 H403.4 M400.6,239.96 H403.4 M398.8,222.9 H403.4 M400.6,205.84 H403.4 M398.8,188.78 H403.4 M414.4,410.9 V415.7 M436.46,410.9 V413.7 M458.52,410.9 V415.7 M480.58,410.9 V413.7 M502.64,410.9 V415.7 M524.7,410.9 V413.7 M546.76,410.9 V415.7 M568.82,410.9 V413.7 M590.88,410.9 V415.7 M612.94,410.9 V413.7 M635,410.9 V415.7 M657.06,410.9 V413.7 M679.12,410.9 V415.7" stroke="#1a1a1a" stroke-width="1.4" fill="none"/>
<text x="396.2" y="397" font-size="9.7" text-anchor="end" fill="#1a1a1a">0.00</text>
<text x="396.2" y="362.88" font-size="9.7" text-anchor="end" fill="#1a1a1a">0.05</text>
<text x="396.2" y="328.76" font-size="9.7" text-anchor="end" fill="#1a1a1a">0.10</text>
<text x="396.2" y="294.64" font-size="9.7" text-anchor="end" fill="#1a1a1a">0.15</text>
<text x="396.2" y="260.52" font-size="9.7" text-anchor="end" fill="#1a1a1a">0.20</text>
<text x="396.2" y="226.4" font-size="9.7" text-anchor="end" fill="#1a1a1a">0.25</text>
<text x="396.2" y="192.28" font-size="9.7" text-anchor="end" fill="#1a1a1a">0.30</text>
<text x="414.4" y="425.2" font-size="9.7" text-anchor="middle" fill="#1a1a1a">0</text>
<text x="458.52" y="425.2" font-size="9.7" text-anchor="middle" fill="#1a1a1a">4</text>
<text x="502.64" y="425.2" font-size="9.7" text-anchor="middle" fill="#1a1a1a">8</text>
<text x="546.76" y="425.2" font-size="9.7" text-anchor="middle" fill="#1a1a1a">12</text>
<text x="590.88" y="425.2" font-size="9.7" text-anchor="middle" fill="#1a1a1a">16</text>
<text x="635" y="425.2" font-size="9.7" text-anchor="middle" fill="#1a1a1a">20</text>
<text x="679.12" y="425.2" font-size="9.7" text-anchor="middle" fill="#1a1a1a">24</text>
<text x="550.2" y="443" font-size="11.5" text-anchor="middle" fill="#1a1a1a">Time (h)</text>
<text transform="translate(364.6,293.6) rotate(-90)" font-size="11.5" text-anchor="middle" fill="#1a1a1a">Relative area increase</text>
</svg></body></html>
